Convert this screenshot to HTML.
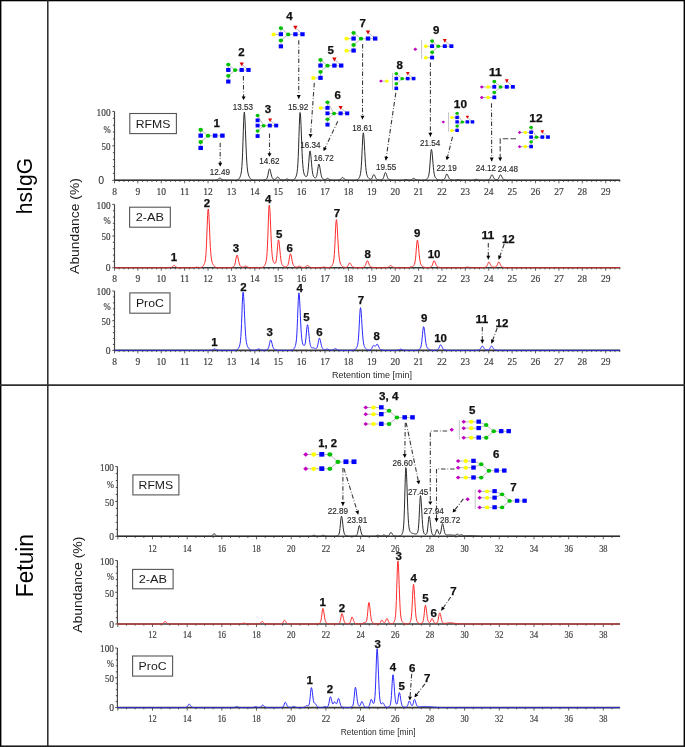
<!DOCTYPE html>
<html><head><meta charset="utf-8"><style>
html,body{margin:0;padding:0;background:#fff;}
svg{display:block;font-family:"Liberation Sans", sans-serif;will-change:transform;}
</style></head><body>
<svg width="685" height="747" viewBox="0 0 685 747">
<rect width="685" height="747" fill="#fff"/>
<rect x="0.7" y="0.6" width="683.6" height="745.6" fill="none" stroke="#000" stroke-width="1.4"/>
<line x1="47.8" y1="0" x2="47.8" y2="747" stroke="#262626" stroke-width="1.5"/>
<line x1="0" y1="385.1" x2="685" y2="385.1" stroke="#303030" stroke-width="1.8"/>
<text transform="translate(32.3,186.1) rotate(-90)" text-anchor="middle" font-size="22.5" font-weight="normal" fill="#000" textLength="56.3" lengthAdjust="spacingAndGlyphs">hsIgG</text>
<text transform="translate(33.3,565.6) rotate(-90)" text-anchor="middle" font-size="23.5" font-weight="normal" fill="#000" textLength="63.1" lengthAdjust="spacingAndGlyphs">Fetuin</text>
<text transform="translate(78.6,226.0) rotate(-90)" text-anchor="middle" font-size="13.3" font-weight="normal" fill="#1a1a1a" textLength="95.8" lengthAdjust="spacingAndGlyphs">Abundance (%)</text>
<text transform="translate(81.5,584.7) rotate(-90)" text-anchor="middle" font-size="13.3" font-weight="normal" fill="#1a1a1a" textLength="96.2" lengthAdjust="spacingAndGlyphs">Abundance (%)</text>
<line x1="114.5" y1="111.4" x2="114.5" y2="180.3" stroke="#444" stroke-width="1.15"/>
<line x1="112.3" y1="180.30" x2="114.5" y2="180.30" stroke="#3a3a3a" stroke-width="0.9"/>
<line x1="112.9" y1="173.41" x2="114.5" y2="173.41" stroke="#3a3a3a" stroke-width="0.9"/>
<line x1="112.9" y1="166.52" x2="114.5" y2="166.52" stroke="#3a3a3a" stroke-width="0.9"/>
<line x1="112.9" y1="159.63" x2="114.5" y2="159.63" stroke="#3a3a3a" stroke-width="0.9"/>
<line x1="112.9" y1="152.74" x2="114.5" y2="152.74" stroke="#3a3a3a" stroke-width="0.9"/>
<line x1="112.3" y1="145.85" x2="114.5" y2="145.85" stroke="#3a3a3a" stroke-width="0.9"/>
<line x1="112.9" y1="138.96" x2="114.5" y2="138.96" stroke="#3a3a3a" stroke-width="0.9"/>
<line x1="112.9" y1="132.07" x2="114.5" y2="132.07" stroke="#3a3a3a" stroke-width="0.9"/>
<line x1="112.9" y1="125.18" x2="114.5" y2="125.18" stroke="#3a3a3a" stroke-width="0.9"/>
<line x1="112.9" y1="118.29" x2="114.5" y2="118.29" stroke="#3a3a3a" stroke-width="0.9"/>
<line x1="112.3" y1="111.40" x2="114.5" y2="111.40" stroke="#3a3a3a" stroke-width="0.9"/>
<text x="110.6" y="115.7" text-anchor="end" font-size="10.6" font-weight="normal" fill="#404040" stroke="#404040" stroke-width="0.2" textLength="14.0" lengthAdjust="spacingAndGlyphs" font-family='"Liberation Serif", serif'>100</text>
<text x="110.6" y="132.61400000000003" text-anchor="end" font-size="10.0" font-weight="normal" fill="#404040" stroke="#404040" stroke-width="0.2" textLength="7.2" lengthAdjust="spacingAndGlyphs" font-family='"Liberation Serif", serif'>%</text>
<text x="110.6" y="150.15000000000003" text-anchor="end" font-size="10.6" font-weight="normal" fill="#404040" stroke="#404040" stroke-width="0.2" textLength="9.0" lengthAdjust="spacingAndGlyphs" font-family='"Liberation Serif", serif'>50</text>
<text x="104.1" y="184.20000000000002" text-anchor="end" font-size="10.5" font-weight="normal" fill="#222">0</text>
<line x1="114.5" y1="180.3" x2="620.2" y2="180.3" stroke="#3a3a3a" stroke-width="1.6"/>
<line x1="114.50" y1="180.3" x2="114.50" y2="183.3" stroke="#3a3a3a" stroke-width="0.8"/>
<line x1="119.18" y1="180.3" x2="119.18" y2="182.0" stroke="#3a3a3a" stroke-width="0.8"/>
<line x1="123.86" y1="180.3" x2="123.86" y2="182.0" stroke="#3a3a3a" stroke-width="0.8"/>
<line x1="128.53" y1="180.3" x2="128.53" y2="182.0" stroke="#3a3a3a" stroke-width="0.8"/>
<line x1="133.21" y1="180.3" x2="133.21" y2="182.0" stroke="#3a3a3a" stroke-width="0.8"/>
<line x1="137.89" y1="180.3" x2="137.89" y2="183.3" stroke="#3a3a3a" stroke-width="0.8"/>
<line x1="142.57" y1="180.3" x2="142.57" y2="182.0" stroke="#3a3a3a" stroke-width="0.8"/>
<line x1="147.25" y1="180.3" x2="147.25" y2="182.0" stroke="#3a3a3a" stroke-width="0.8"/>
<line x1="151.92" y1="180.3" x2="151.92" y2="182.0" stroke="#3a3a3a" stroke-width="0.8"/>
<line x1="156.60" y1="180.3" x2="156.60" y2="182.0" stroke="#3a3a3a" stroke-width="0.8"/>
<line x1="161.28" y1="180.3" x2="161.28" y2="183.3" stroke="#3a3a3a" stroke-width="0.8"/>
<line x1="165.96" y1="180.3" x2="165.96" y2="182.0" stroke="#3a3a3a" stroke-width="0.8"/>
<line x1="170.64" y1="180.3" x2="170.64" y2="182.0" stroke="#3a3a3a" stroke-width="0.8"/>
<line x1="175.31" y1="180.3" x2="175.31" y2="182.0" stroke="#3a3a3a" stroke-width="0.8"/>
<line x1="179.99" y1="180.3" x2="179.99" y2="182.0" stroke="#3a3a3a" stroke-width="0.8"/>
<line x1="184.67" y1="180.3" x2="184.67" y2="183.3" stroke="#3a3a3a" stroke-width="0.8"/>
<line x1="189.35" y1="180.3" x2="189.35" y2="182.0" stroke="#3a3a3a" stroke-width="0.8"/>
<line x1="194.03" y1="180.3" x2="194.03" y2="182.0" stroke="#3a3a3a" stroke-width="0.8"/>
<line x1="198.70" y1="180.3" x2="198.70" y2="182.0" stroke="#3a3a3a" stroke-width="0.8"/>
<line x1="203.38" y1="180.3" x2="203.38" y2="182.0" stroke="#3a3a3a" stroke-width="0.8"/>
<line x1="208.06" y1="180.3" x2="208.06" y2="183.3" stroke="#3a3a3a" stroke-width="0.8"/>
<line x1="212.74" y1="180.3" x2="212.74" y2="182.0" stroke="#3a3a3a" stroke-width="0.8"/>
<line x1="217.42" y1="180.3" x2="217.42" y2="182.0" stroke="#3a3a3a" stroke-width="0.8"/>
<line x1="222.09" y1="180.3" x2="222.09" y2="182.0" stroke="#3a3a3a" stroke-width="0.8"/>
<line x1="226.77" y1="180.3" x2="226.77" y2="182.0" stroke="#3a3a3a" stroke-width="0.8"/>
<line x1="231.45" y1="180.3" x2="231.45" y2="183.3" stroke="#3a3a3a" stroke-width="0.8"/>
<line x1="236.13" y1="180.3" x2="236.13" y2="182.0" stroke="#3a3a3a" stroke-width="0.8"/>
<line x1="240.81" y1="180.3" x2="240.81" y2="182.0" stroke="#3a3a3a" stroke-width="0.8"/>
<line x1="245.48" y1="180.3" x2="245.48" y2="182.0" stroke="#3a3a3a" stroke-width="0.8"/>
<line x1="250.16" y1="180.3" x2="250.16" y2="182.0" stroke="#3a3a3a" stroke-width="0.8"/>
<line x1="254.84" y1="180.3" x2="254.84" y2="183.3" stroke="#3a3a3a" stroke-width="0.8"/>
<line x1="259.52" y1="180.3" x2="259.52" y2="182.0" stroke="#3a3a3a" stroke-width="0.8"/>
<line x1="264.20" y1="180.3" x2="264.20" y2="182.0" stroke="#3a3a3a" stroke-width="0.8"/>
<line x1="268.87" y1="180.3" x2="268.87" y2="182.0" stroke="#3a3a3a" stroke-width="0.8"/>
<line x1="273.55" y1="180.3" x2="273.55" y2="182.0" stroke="#3a3a3a" stroke-width="0.8"/>
<line x1="278.23" y1="180.3" x2="278.23" y2="183.3" stroke="#3a3a3a" stroke-width="0.8"/>
<line x1="282.91" y1="180.3" x2="282.91" y2="182.0" stroke="#3a3a3a" stroke-width="0.8"/>
<line x1="287.59" y1="180.3" x2="287.59" y2="182.0" stroke="#3a3a3a" stroke-width="0.8"/>
<line x1="292.26" y1="180.3" x2="292.26" y2="182.0" stroke="#3a3a3a" stroke-width="0.8"/>
<line x1="296.94" y1="180.3" x2="296.94" y2="182.0" stroke="#3a3a3a" stroke-width="0.8"/>
<line x1="301.62" y1="180.3" x2="301.62" y2="183.3" stroke="#3a3a3a" stroke-width="0.8"/>
<line x1="306.30" y1="180.3" x2="306.30" y2="182.0" stroke="#3a3a3a" stroke-width="0.8"/>
<line x1="310.98" y1="180.3" x2="310.98" y2="182.0" stroke="#3a3a3a" stroke-width="0.8"/>
<line x1="315.65" y1="180.3" x2="315.65" y2="182.0" stroke="#3a3a3a" stroke-width="0.8"/>
<line x1="320.33" y1="180.3" x2="320.33" y2="182.0" stroke="#3a3a3a" stroke-width="0.8"/>
<line x1="325.01" y1="180.3" x2="325.01" y2="183.3" stroke="#3a3a3a" stroke-width="0.8"/>
<line x1="329.69" y1="180.3" x2="329.69" y2="182.0" stroke="#3a3a3a" stroke-width="0.8"/>
<line x1="334.37" y1="180.3" x2="334.37" y2="182.0" stroke="#3a3a3a" stroke-width="0.8"/>
<line x1="339.04" y1="180.3" x2="339.04" y2="182.0" stroke="#3a3a3a" stroke-width="0.8"/>
<line x1="343.72" y1="180.3" x2="343.72" y2="182.0" stroke="#3a3a3a" stroke-width="0.8"/>
<line x1="348.40" y1="180.3" x2="348.40" y2="183.3" stroke="#3a3a3a" stroke-width="0.8"/>
<line x1="353.08" y1="180.3" x2="353.08" y2="182.0" stroke="#3a3a3a" stroke-width="0.8"/>
<line x1="357.76" y1="180.3" x2="357.76" y2="182.0" stroke="#3a3a3a" stroke-width="0.8"/>
<line x1="362.43" y1="180.3" x2="362.43" y2="182.0" stroke="#3a3a3a" stroke-width="0.8"/>
<line x1="367.11" y1="180.3" x2="367.11" y2="182.0" stroke="#3a3a3a" stroke-width="0.8"/>
<line x1="371.79" y1="180.3" x2="371.79" y2="183.3" stroke="#3a3a3a" stroke-width="0.8"/>
<line x1="376.47" y1="180.3" x2="376.47" y2="182.0" stroke="#3a3a3a" stroke-width="0.8"/>
<line x1="381.15" y1="180.3" x2="381.15" y2="182.0" stroke="#3a3a3a" stroke-width="0.8"/>
<line x1="385.82" y1="180.3" x2="385.82" y2="182.0" stroke="#3a3a3a" stroke-width="0.8"/>
<line x1="390.50" y1="180.3" x2="390.50" y2="182.0" stroke="#3a3a3a" stroke-width="0.8"/>
<line x1="395.18" y1="180.3" x2="395.18" y2="183.3" stroke="#3a3a3a" stroke-width="0.8"/>
<line x1="399.86" y1="180.3" x2="399.86" y2="182.0" stroke="#3a3a3a" stroke-width="0.8"/>
<line x1="404.54" y1="180.3" x2="404.54" y2="182.0" stroke="#3a3a3a" stroke-width="0.8"/>
<line x1="409.21" y1="180.3" x2="409.21" y2="182.0" stroke="#3a3a3a" stroke-width="0.8"/>
<line x1="413.89" y1="180.3" x2="413.89" y2="182.0" stroke="#3a3a3a" stroke-width="0.8"/>
<line x1="418.57" y1="180.3" x2="418.57" y2="183.3" stroke="#3a3a3a" stroke-width="0.8"/>
<line x1="423.25" y1="180.3" x2="423.25" y2="182.0" stroke="#3a3a3a" stroke-width="0.8"/>
<line x1="427.93" y1="180.3" x2="427.93" y2="182.0" stroke="#3a3a3a" stroke-width="0.8"/>
<line x1="432.60" y1="180.3" x2="432.60" y2="182.0" stroke="#3a3a3a" stroke-width="0.8"/>
<line x1="437.28" y1="180.3" x2="437.28" y2="182.0" stroke="#3a3a3a" stroke-width="0.8"/>
<line x1="441.96" y1="180.3" x2="441.96" y2="183.3" stroke="#3a3a3a" stroke-width="0.8"/>
<line x1="446.64" y1="180.3" x2="446.64" y2="182.0" stroke="#3a3a3a" stroke-width="0.8"/>
<line x1="451.32" y1="180.3" x2="451.32" y2="182.0" stroke="#3a3a3a" stroke-width="0.8"/>
<line x1="455.99" y1="180.3" x2="455.99" y2="182.0" stroke="#3a3a3a" stroke-width="0.8"/>
<line x1="460.67" y1="180.3" x2="460.67" y2="182.0" stroke="#3a3a3a" stroke-width="0.8"/>
<line x1="465.35" y1="180.3" x2="465.35" y2="183.3" stroke="#3a3a3a" stroke-width="0.8"/>
<line x1="470.03" y1="180.3" x2="470.03" y2="182.0" stroke="#3a3a3a" stroke-width="0.8"/>
<line x1="474.71" y1="180.3" x2="474.71" y2="182.0" stroke="#3a3a3a" stroke-width="0.8"/>
<line x1="479.38" y1="180.3" x2="479.38" y2="182.0" stroke="#3a3a3a" stroke-width="0.8"/>
<line x1="484.06" y1="180.3" x2="484.06" y2="182.0" stroke="#3a3a3a" stroke-width="0.8"/>
<line x1="488.74" y1="180.3" x2="488.74" y2="183.3" stroke="#3a3a3a" stroke-width="0.8"/>
<line x1="493.42" y1="180.3" x2="493.42" y2="182.0" stroke="#3a3a3a" stroke-width="0.8"/>
<line x1="498.10" y1="180.3" x2="498.10" y2="182.0" stroke="#3a3a3a" stroke-width="0.8"/>
<line x1="502.77" y1="180.3" x2="502.77" y2="182.0" stroke="#3a3a3a" stroke-width="0.8"/>
<line x1="507.45" y1="180.3" x2="507.45" y2="182.0" stroke="#3a3a3a" stroke-width="0.8"/>
<line x1="512.13" y1="180.3" x2="512.13" y2="183.3" stroke="#3a3a3a" stroke-width="0.8"/>
<line x1="516.81" y1="180.3" x2="516.81" y2="182.0" stroke="#3a3a3a" stroke-width="0.8"/>
<line x1="521.49" y1="180.3" x2="521.49" y2="182.0" stroke="#3a3a3a" stroke-width="0.8"/>
<line x1="526.16" y1="180.3" x2="526.16" y2="182.0" stroke="#3a3a3a" stroke-width="0.8"/>
<line x1="530.84" y1="180.3" x2="530.84" y2="182.0" stroke="#3a3a3a" stroke-width="0.8"/>
<line x1="535.52" y1="180.3" x2="535.52" y2="183.3" stroke="#3a3a3a" stroke-width="0.8"/>
<line x1="540.20" y1="180.3" x2="540.20" y2="182.0" stroke="#3a3a3a" stroke-width="0.8"/>
<line x1="544.88" y1="180.3" x2="544.88" y2="182.0" stroke="#3a3a3a" stroke-width="0.8"/>
<line x1="549.55" y1="180.3" x2="549.55" y2="182.0" stroke="#3a3a3a" stroke-width="0.8"/>
<line x1="554.23" y1="180.3" x2="554.23" y2="182.0" stroke="#3a3a3a" stroke-width="0.8"/>
<line x1="558.91" y1="180.3" x2="558.91" y2="183.3" stroke="#3a3a3a" stroke-width="0.8"/>
<line x1="563.59" y1="180.3" x2="563.59" y2="182.0" stroke="#3a3a3a" stroke-width="0.8"/>
<line x1="568.27" y1="180.3" x2="568.27" y2="182.0" stroke="#3a3a3a" stroke-width="0.8"/>
<line x1="572.94" y1="180.3" x2="572.94" y2="182.0" stroke="#3a3a3a" stroke-width="0.8"/>
<line x1="577.62" y1="180.3" x2="577.62" y2="182.0" stroke="#3a3a3a" stroke-width="0.8"/>
<line x1="582.30" y1="180.3" x2="582.30" y2="183.3" stroke="#3a3a3a" stroke-width="0.8"/>
<line x1="586.98" y1="180.3" x2="586.98" y2="182.0" stroke="#3a3a3a" stroke-width="0.8"/>
<line x1="591.66" y1="180.3" x2="591.66" y2="182.0" stroke="#3a3a3a" stroke-width="0.8"/>
<line x1="596.33" y1="180.3" x2="596.33" y2="182.0" stroke="#3a3a3a" stroke-width="0.8"/>
<line x1="601.01" y1="180.3" x2="601.01" y2="182.0" stroke="#3a3a3a" stroke-width="0.8"/>
<line x1="605.69" y1="180.3" x2="605.69" y2="183.3" stroke="#3a3a3a" stroke-width="0.8"/>
<line x1="610.37" y1="180.3" x2="610.37" y2="182.0" stroke="#3a3a3a" stroke-width="0.8"/>
<line x1="615.05" y1="180.3" x2="615.05" y2="182.0" stroke="#3a3a3a" stroke-width="0.8"/>
<line x1="619.72" y1="180.3" x2="619.72" y2="182.0" stroke="#3a3a3a" stroke-width="0.8"/>
<text x="114.50" y="194.6" text-anchor="middle" font-size="10.8" font-weight="normal" fill="#404040" stroke="#404040" stroke-width="0.2" textLength="4.75" lengthAdjust="spacingAndGlyphs" font-family='"Liberation Serif", serif'>8</text>
<text x="137.89" y="194.6" text-anchor="middle" font-size="10.8" font-weight="normal" fill="#404040" stroke="#404040" stroke-width="0.2" textLength="4.75" lengthAdjust="spacingAndGlyphs" font-family='"Liberation Serif", serif'>9</text>
<text x="161.28" y="194.6" text-anchor="middle" font-size="10.8" font-weight="normal" fill="#404040" stroke="#404040" stroke-width="0.2" textLength="9.5" lengthAdjust="spacingAndGlyphs" font-family='"Liberation Serif", serif'>10</text>
<text x="184.67" y="194.6" text-anchor="middle" font-size="10.8" font-weight="normal" fill="#404040" stroke="#404040" stroke-width="0.2" textLength="9.5" lengthAdjust="spacingAndGlyphs" font-family='"Liberation Serif", serif'>11</text>
<text x="208.06" y="194.6" text-anchor="middle" font-size="10.8" font-weight="normal" fill="#404040" stroke="#404040" stroke-width="0.2" textLength="9.5" lengthAdjust="spacingAndGlyphs" font-family='"Liberation Serif", serif'>12</text>
<text x="231.45" y="194.6" text-anchor="middle" font-size="10.8" font-weight="normal" fill="#404040" stroke="#404040" stroke-width="0.2" textLength="9.5" lengthAdjust="spacingAndGlyphs" font-family='"Liberation Serif", serif'>13</text>
<text x="254.84" y="194.6" text-anchor="middle" font-size="10.8" font-weight="normal" fill="#404040" stroke="#404040" stroke-width="0.2" textLength="9.5" lengthAdjust="spacingAndGlyphs" font-family='"Liberation Serif", serif'>14</text>
<text x="278.23" y="194.6" text-anchor="middle" font-size="10.8" font-weight="normal" fill="#404040" stroke="#404040" stroke-width="0.2" textLength="9.5" lengthAdjust="spacingAndGlyphs" font-family='"Liberation Serif", serif'>15</text>
<text x="301.62" y="194.6" text-anchor="middle" font-size="10.8" font-weight="normal" fill="#404040" stroke="#404040" stroke-width="0.2" textLength="9.5" lengthAdjust="spacingAndGlyphs" font-family='"Liberation Serif", serif'>16</text>
<text x="325.01" y="194.6" text-anchor="middle" font-size="10.8" font-weight="normal" fill="#404040" stroke="#404040" stroke-width="0.2" textLength="9.5" lengthAdjust="spacingAndGlyphs" font-family='"Liberation Serif", serif'>17</text>
<text x="348.40" y="194.6" text-anchor="middle" font-size="10.8" font-weight="normal" fill="#404040" stroke="#404040" stroke-width="0.2" textLength="9.5" lengthAdjust="spacingAndGlyphs" font-family='"Liberation Serif", serif'>18</text>
<text x="371.79" y="194.6" text-anchor="middle" font-size="10.8" font-weight="normal" fill="#404040" stroke="#404040" stroke-width="0.2" textLength="9.5" lengthAdjust="spacingAndGlyphs" font-family='"Liberation Serif", serif'>19</text>
<text x="395.18" y="194.6" text-anchor="middle" font-size="10.8" font-weight="normal" fill="#404040" stroke="#404040" stroke-width="0.2" textLength="9.5" lengthAdjust="spacingAndGlyphs" font-family='"Liberation Serif", serif'>20</text>
<text x="418.57" y="194.6" text-anchor="middle" font-size="10.8" font-weight="normal" fill="#404040" stroke="#404040" stroke-width="0.2" textLength="9.5" lengthAdjust="spacingAndGlyphs" font-family='"Liberation Serif", serif'>21</text>
<text x="441.96" y="194.6" text-anchor="middle" font-size="10.8" font-weight="normal" fill="#404040" stroke="#404040" stroke-width="0.2" textLength="9.5" lengthAdjust="spacingAndGlyphs" font-family='"Liberation Serif", serif'>22</text>
<text x="465.35" y="194.6" text-anchor="middle" font-size="10.8" font-weight="normal" fill="#404040" stroke="#404040" stroke-width="0.2" textLength="9.5" lengthAdjust="spacingAndGlyphs" font-family='"Liberation Serif", serif'>23</text>
<text x="488.74" y="194.6" text-anchor="middle" font-size="10.8" font-weight="normal" fill="#404040" stroke="#404040" stroke-width="0.2" textLength="9.5" lengthAdjust="spacingAndGlyphs" font-family='"Liberation Serif", serif'>24</text>
<text x="512.13" y="194.6" text-anchor="middle" font-size="10.8" font-weight="normal" fill="#404040" stroke="#404040" stroke-width="0.2" textLength="9.5" lengthAdjust="spacingAndGlyphs" font-family='"Liberation Serif", serif'>25</text>
<text x="535.52" y="194.6" text-anchor="middle" font-size="10.8" font-weight="normal" fill="#404040" stroke="#404040" stroke-width="0.2" textLength="9.5" lengthAdjust="spacingAndGlyphs" font-family='"Liberation Serif", serif'>26</text>
<text x="558.91" y="194.6" text-anchor="middle" font-size="10.8" font-weight="normal" fill="#404040" stroke="#404040" stroke-width="0.2" textLength="9.5" lengthAdjust="spacingAndGlyphs" font-family='"Liberation Serif", serif'>27</text>
<text x="582.30" y="194.6" text-anchor="middle" font-size="10.8" font-weight="normal" fill="#404040" stroke="#404040" stroke-width="0.2" textLength="9.5" lengthAdjust="spacingAndGlyphs" font-family='"Liberation Serif", serif'>28</text>
<text x="605.69" y="194.6" text-anchor="middle" font-size="10.8" font-weight="normal" fill="#404040" stroke="#404040" stroke-width="0.2" textLength="9.5" lengthAdjust="spacingAndGlyphs" font-family='"Liberation Serif", serif'>29</text>
<line x1="114.5" y1="204.4" x2="114.5" y2="267.7" stroke="#444" stroke-width="1.15"/>
<line x1="112.3" y1="267.70" x2="114.5" y2="267.70" stroke="#3a3a3a" stroke-width="0.9"/>
<line x1="112.9" y1="261.37" x2="114.5" y2="261.37" stroke="#3a3a3a" stroke-width="0.9"/>
<line x1="112.9" y1="255.04" x2="114.5" y2="255.04" stroke="#3a3a3a" stroke-width="0.9"/>
<line x1="112.9" y1="248.71" x2="114.5" y2="248.71" stroke="#3a3a3a" stroke-width="0.9"/>
<line x1="112.9" y1="242.38" x2="114.5" y2="242.38" stroke="#3a3a3a" stroke-width="0.9"/>
<line x1="112.3" y1="236.05" x2="114.5" y2="236.05" stroke="#3a3a3a" stroke-width="0.9"/>
<line x1="112.9" y1="229.72" x2="114.5" y2="229.72" stroke="#3a3a3a" stroke-width="0.9"/>
<line x1="112.9" y1="223.39" x2="114.5" y2="223.39" stroke="#3a3a3a" stroke-width="0.9"/>
<line x1="112.9" y1="217.06" x2="114.5" y2="217.06" stroke="#3a3a3a" stroke-width="0.9"/>
<line x1="112.9" y1="210.73" x2="114.5" y2="210.73" stroke="#3a3a3a" stroke-width="0.9"/>
<line x1="112.3" y1="204.40" x2="114.5" y2="204.40" stroke="#3a3a3a" stroke-width="0.9"/>
<text x="110.6" y="208.70000000000002" text-anchor="end" font-size="10.6" font-weight="normal" fill="#404040" stroke="#404040" stroke-width="0.2" textLength="14.0" lengthAdjust="spacingAndGlyphs" font-family='"Liberation Serif", serif'>100</text>
<text x="110.6" y="224.15800000000002" text-anchor="end" font-size="10.0" font-weight="normal" fill="#404040" stroke="#404040" stroke-width="0.2" textLength="7.2" lengthAdjust="spacingAndGlyphs" font-family='"Liberation Serif", serif'>%</text>
<text x="110.6" y="240.35000000000002" text-anchor="end" font-size="10.6" font-weight="normal" fill="#404040" stroke="#404040" stroke-width="0.2" textLength="9.0" lengthAdjust="spacingAndGlyphs" font-family='"Liberation Serif", serif'>50</text>
<text x="110.6" y="271.3" text-anchor="end" font-size="10.6" font-weight="normal" fill="#404040" stroke="#404040" stroke-width="0.2" textLength="4.8" lengthAdjust="spacingAndGlyphs" font-family='"Liberation Serif", serif'>0</text>
<line x1="114.5" y1="267.7" x2="620.2" y2="267.7" stroke="#3a3a3a" stroke-width="1.6"/>
<line x1="114.50" y1="267.7" x2="114.50" y2="270.7" stroke="#3a3a3a" stroke-width="0.8"/>
<line x1="119.18" y1="267.7" x2="119.18" y2="269.4" stroke="#3a3a3a" stroke-width="0.8"/>
<line x1="123.86" y1="267.7" x2="123.86" y2="269.4" stroke="#3a3a3a" stroke-width="0.8"/>
<line x1="128.53" y1="267.7" x2="128.53" y2="269.4" stroke="#3a3a3a" stroke-width="0.8"/>
<line x1="133.21" y1="267.7" x2="133.21" y2="269.4" stroke="#3a3a3a" stroke-width="0.8"/>
<line x1="137.89" y1="267.7" x2="137.89" y2="270.7" stroke="#3a3a3a" stroke-width="0.8"/>
<line x1="142.57" y1="267.7" x2="142.57" y2="269.4" stroke="#3a3a3a" stroke-width="0.8"/>
<line x1="147.25" y1="267.7" x2="147.25" y2="269.4" stroke="#3a3a3a" stroke-width="0.8"/>
<line x1="151.92" y1="267.7" x2="151.92" y2="269.4" stroke="#3a3a3a" stroke-width="0.8"/>
<line x1="156.60" y1="267.7" x2="156.60" y2="269.4" stroke="#3a3a3a" stroke-width="0.8"/>
<line x1="161.28" y1="267.7" x2="161.28" y2="270.7" stroke="#3a3a3a" stroke-width="0.8"/>
<line x1="165.96" y1="267.7" x2="165.96" y2="269.4" stroke="#3a3a3a" stroke-width="0.8"/>
<line x1="170.64" y1="267.7" x2="170.64" y2="269.4" stroke="#3a3a3a" stroke-width="0.8"/>
<line x1="175.31" y1="267.7" x2="175.31" y2="269.4" stroke="#3a3a3a" stroke-width="0.8"/>
<line x1="179.99" y1="267.7" x2="179.99" y2="269.4" stroke="#3a3a3a" stroke-width="0.8"/>
<line x1="184.67" y1="267.7" x2="184.67" y2="270.7" stroke="#3a3a3a" stroke-width="0.8"/>
<line x1="189.35" y1="267.7" x2="189.35" y2="269.4" stroke="#3a3a3a" stroke-width="0.8"/>
<line x1="194.03" y1="267.7" x2="194.03" y2="269.4" stroke="#3a3a3a" stroke-width="0.8"/>
<line x1="198.70" y1="267.7" x2="198.70" y2="269.4" stroke="#3a3a3a" stroke-width="0.8"/>
<line x1="203.38" y1="267.7" x2="203.38" y2="269.4" stroke="#3a3a3a" stroke-width="0.8"/>
<line x1="208.06" y1="267.7" x2="208.06" y2="270.7" stroke="#3a3a3a" stroke-width="0.8"/>
<line x1="212.74" y1="267.7" x2="212.74" y2="269.4" stroke="#3a3a3a" stroke-width="0.8"/>
<line x1="217.42" y1="267.7" x2="217.42" y2="269.4" stroke="#3a3a3a" stroke-width="0.8"/>
<line x1="222.09" y1="267.7" x2="222.09" y2="269.4" stroke="#3a3a3a" stroke-width="0.8"/>
<line x1="226.77" y1="267.7" x2="226.77" y2="269.4" stroke="#3a3a3a" stroke-width="0.8"/>
<line x1="231.45" y1="267.7" x2="231.45" y2="270.7" stroke="#3a3a3a" stroke-width="0.8"/>
<line x1="236.13" y1="267.7" x2="236.13" y2="269.4" stroke="#3a3a3a" stroke-width="0.8"/>
<line x1="240.81" y1="267.7" x2="240.81" y2="269.4" stroke="#3a3a3a" stroke-width="0.8"/>
<line x1="245.48" y1="267.7" x2="245.48" y2="269.4" stroke="#3a3a3a" stroke-width="0.8"/>
<line x1="250.16" y1="267.7" x2="250.16" y2="269.4" stroke="#3a3a3a" stroke-width="0.8"/>
<line x1="254.84" y1="267.7" x2="254.84" y2="270.7" stroke="#3a3a3a" stroke-width="0.8"/>
<line x1="259.52" y1="267.7" x2="259.52" y2="269.4" stroke="#3a3a3a" stroke-width="0.8"/>
<line x1="264.20" y1="267.7" x2="264.20" y2="269.4" stroke="#3a3a3a" stroke-width="0.8"/>
<line x1="268.87" y1="267.7" x2="268.87" y2="269.4" stroke="#3a3a3a" stroke-width="0.8"/>
<line x1="273.55" y1="267.7" x2="273.55" y2="269.4" stroke="#3a3a3a" stroke-width="0.8"/>
<line x1="278.23" y1="267.7" x2="278.23" y2="270.7" stroke="#3a3a3a" stroke-width="0.8"/>
<line x1="282.91" y1="267.7" x2="282.91" y2="269.4" stroke="#3a3a3a" stroke-width="0.8"/>
<line x1="287.59" y1="267.7" x2="287.59" y2="269.4" stroke="#3a3a3a" stroke-width="0.8"/>
<line x1="292.26" y1="267.7" x2="292.26" y2="269.4" stroke="#3a3a3a" stroke-width="0.8"/>
<line x1="296.94" y1="267.7" x2="296.94" y2="269.4" stroke="#3a3a3a" stroke-width="0.8"/>
<line x1="301.62" y1="267.7" x2="301.62" y2="270.7" stroke="#3a3a3a" stroke-width="0.8"/>
<line x1="306.30" y1="267.7" x2="306.30" y2="269.4" stroke="#3a3a3a" stroke-width="0.8"/>
<line x1="310.98" y1="267.7" x2="310.98" y2="269.4" stroke="#3a3a3a" stroke-width="0.8"/>
<line x1="315.65" y1="267.7" x2="315.65" y2="269.4" stroke="#3a3a3a" stroke-width="0.8"/>
<line x1="320.33" y1="267.7" x2="320.33" y2="269.4" stroke="#3a3a3a" stroke-width="0.8"/>
<line x1="325.01" y1="267.7" x2="325.01" y2="270.7" stroke="#3a3a3a" stroke-width="0.8"/>
<line x1="329.69" y1="267.7" x2="329.69" y2="269.4" stroke="#3a3a3a" stroke-width="0.8"/>
<line x1="334.37" y1="267.7" x2="334.37" y2="269.4" stroke="#3a3a3a" stroke-width="0.8"/>
<line x1="339.04" y1="267.7" x2="339.04" y2="269.4" stroke="#3a3a3a" stroke-width="0.8"/>
<line x1="343.72" y1="267.7" x2="343.72" y2="269.4" stroke="#3a3a3a" stroke-width="0.8"/>
<line x1="348.40" y1="267.7" x2="348.40" y2="270.7" stroke="#3a3a3a" stroke-width="0.8"/>
<line x1="353.08" y1="267.7" x2="353.08" y2="269.4" stroke="#3a3a3a" stroke-width="0.8"/>
<line x1="357.76" y1="267.7" x2="357.76" y2="269.4" stroke="#3a3a3a" stroke-width="0.8"/>
<line x1="362.43" y1="267.7" x2="362.43" y2="269.4" stroke="#3a3a3a" stroke-width="0.8"/>
<line x1="367.11" y1="267.7" x2="367.11" y2="269.4" stroke="#3a3a3a" stroke-width="0.8"/>
<line x1="371.79" y1="267.7" x2="371.79" y2="270.7" stroke="#3a3a3a" stroke-width="0.8"/>
<line x1="376.47" y1="267.7" x2="376.47" y2="269.4" stroke="#3a3a3a" stroke-width="0.8"/>
<line x1="381.15" y1="267.7" x2="381.15" y2="269.4" stroke="#3a3a3a" stroke-width="0.8"/>
<line x1="385.82" y1="267.7" x2="385.82" y2="269.4" stroke="#3a3a3a" stroke-width="0.8"/>
<line x1="390.50" y1="267.7" x2="390.50" y2="269.4" stroke="#3a3a3a" stroke-width="0.8"/>
<line x1="395.18" y1="267.7" x2="395.18" y2="270.7" stroke="#3a3a3a" stroke-width="0.8"/>
<line x1="399.86" y1="267.7" x2="399.86" y2="269.4" stroke="#3a3a3a" stroke-width="0.8"/>
<line x1="404.54" y1="267.7" x2="404.54" y2="269.4" stroke="#3a3a3a" stroke-width="0.8"/>
<line x1="409.21" y1="267.7" x2="409.21" y2="269.4" stroke="#3a3a3a" stroke-width="0.8"/>
<line x1="413.89" y1="267.7" x2="413.89" y2="269.4" stroke="#3a3a3a" stroke-width="0.8"/>
<line x1="418.57" y1="267.7" x2="418.57" y2="270.7" stroke="#3a3a3a" stroke-width="0.8"/>
<line x1="423.25" y1="267.7" x2="423.25" y2="269.4" stroke="#3a3a3a" stroke-width="0.8"/>
<line x1="427.93" y1="267.7" x2="427.93" y2="269.4" stroke="#3a3a3a" stroke-width="0.8"/>
<line x1="432.60" y1="267.7" x2="432.60" y2="269.4" stroke="#3a3a3a" stroke-width="0.8"/>
<line x1="437.28" y1="267.7" x2="437.28" y2="269.4" stroke="#3a3a3a" stroke-width="0.8"/>
<line x1="441.96" y1="267.7" x2="441.96" y2="270.7" stroke="#3a3a3a" stroke-width="0.8"/>
<line x1="446.64" y1="267.7" x2="446.64" y2="269.4" stroke="#3a3a3a" stroke-width="0.8"/>
<line x1="451.32" y1="267.7" x2="451.32" y2="269.4" stroke="#3a3a3a" stroke-width="0.8"/>
<line x1="455.99" y1="267.7" x2="455.99" y2="269.4" stroke="#3a3a3a" stroke-width="0.8"/>
<line x1="460.67" y1="267.7" x2="460.67" y2="269.4" stroke="#3a3a3a" stroke-width="0.8"/>
<line x1="465.35" y1="267.7" x2="465.35" y2="270.7" stroke="#3a3a3a" stroke-width="0.8"/>
<line x1="470.03" y1="267.7" x2="470.03" y2="269.4" stroke="#3a3a3a" stroke-width="0.8"/>
<line x1="474.71" y1="267.7" x2="474.71" y2="269.4" stroke="#3a3a3a" stroke-width="0.8"/>
<line x1="479.38" y1="267.7" x2="479.38" y2="269.4" stroke="#3a3a3a" stroke-width="0.8"/>
<line x1="484.06" y1="267.7" x2="484.06" y2="269.4" stroke="#3a3a3a" stroke-width="0.8"/>
<line x1="488.74" y1="267.7" x2="488.74" y2="270.7" stroke="#3a3a3a" stroke-width="0.8"/>
<line x1="493.42" y1="267.7" x2="493.42" y2="269.4" stroke="#3a3a3a" stroke-width="0.8"/>
<line x1="498.10" y1="267.7" x2="498.10" y2="269.4" stroke="#3a3a3a" stroke-width="0.8"/>
<line x1="502.77" y1="267.7" x2="502.77" y2="269.4" stroke="#3a3a3a" stroke-width="0.8"/>
<line x1="507.45" y1="267.7" x2="507.45" y2="269.4" stroke="#3a3a3a" stroke-width="0.8"/>
<line x1="512.13" y1="267.7" x2="512.13" y2="270.7" stroke="#3a3a3a" stroke-width="0.8"/>
<line x1="516.81" y1="267.7" x2="516.81" y2="269.4" stroke="#3a3a3a" stroke-width="0.8"/>
<line x1="521.49" y1="267.7" x2="521.49" y2="269.4" stroke="#3a3a3a" stroke-width="0.8"/>
<line x1="526.16" y1="267.7" x2="526.16" y2="269.4" stroke="#3a3a3a" stroke-width="0.8"/>
<line x1="530.84" y1="267.7" x2="530.84" y2="269.4" stroke="#3a3a3a" stroke-width="0.8"/>
<line x1="535.52" y1="267.7" x2="535.52" y2="270.7" stroke="#3a3a3a" stroke-width="0.8"/>
<line x1="540.20" y1="267.7" x2="540.20" y2="269.4" stroke="#3a3a3a" stroke-width="0.8"/>
<line x1="544.88" y1="267.7" x2="544.88" y2="269.4" stroke="#3a3a3a" stroke-width="0.8"/>
<line x1="549.55" y1="267.7" x2="549.55" y2="269.4" stroke="#3a3a3a" stroke-width="0.8"/>
<line x1="554.23" y1="267.7" x2="554.23" y2="269.4" stroke="#3a3a3a" stroke-width="0.8"/>
<line x1="558.91" y1="267.7" x2="558.91" y2="270.7" stroke="#3a3a3a" stroke-width="0.8"/>
<line x1="563.59" y1="267.7" x2="563.59" y2="269.4" stroke="#3a3a3a" stroke-width="0.8"/>
<line x1="568.27" y1="267.7" x2="568.27" y2="269.4" stroke="#3a3a3a" stroke-width="0.8"/>
<line x1="572.94" y1="267.7" x2="572.94" y2="269.4" stroke="#3a3a3a" stroke-width="0.8"/>
<line x1="577.62" y1="267.7" x2="577.62" y2="269.4" stroke="#3a3a3a" stroke-width="0.8"/>
<line x1="582.30" y1="267.7" x2="582.30" y2="270.7" stroke="#3a3a3a" stroke-width="0.8"/>
<line x1="586.98" y1="267.7" x2="586.98" y2="269.4" stroke="#3a3a3a" stroke-width="0.8"/>
<line x1="591.66" y1="267.7" x2="591.66" y2="269.4" stroke="#3a3a3a" stroke-width="0.8"/>
<line x1="596.33" y1="267.7" x2="596.33" y2="269.4" stroke="#3a3a3a" stroke-width="0.8"/>
<line x1="601.01" y1="267.7" x2="601.01" y2="269.4" stroke="#3a3a3a" stroke-width="0.8"/>
<line x1="605.69" y1="267.7" x2="605.69" y2="270.7" stroke="#3a3a3a" stroke-width="0.8"/>
<line x1="610.37" y1="267.7" x2="610.37" y2="269.4" stroke="#3a3a3a" stroke-width="0.8"/>
<line x1="615.05" y1="267.7" x2="615.05" y2="269.4" stroke="#3a3a3a" stroke-width="0.8"/>
<line x1="619.72" y1="267.7" x2="619.72" y2="269.4" stroke="#3a3a3a" stroke-width="0.8"/>
<text x="114.50" y="281.7" text-anchor="middle" font-size="10.8" font-weight="normal" fill="#404040" stroke="#404040" stroke-width="0.2" textLength="4.75" lengthAdjust="spacingAndGlyphs" font-family='"Liberation Serif", serif'>8</text>
<text x="137.89" y="281.7" text-anchor="middle" font-size="10.8" font-weight="normal" fill="#404040" stroke="#404040" stroke-width="0.2" textLength="4.75" lengthAdjust="spacingAndGlyphs" font-family='"Liberation Serif", serif'>9</text>
<text x="161.28" y="281.7" text-anchor="middle" font-size="10.8" font-weight="normal" fill="#404040" stroke="#404040" stroke-width="0.2" textLength="9.5" lengthAdjust="spacingAndGlyphs" font-family='"Liberation Serif", serif'>10</text>
<text x="184.67" y="281.7" text-anchor="middle" font-size="10.8" font-weight="normal" fill="#404040" stroke="#404040" stroke-width="0.2" textLength="9.5" lengthAdjust="spacingAndGlyphs" font-family='"Liberation Serif", serif'>11</text>
<text x="208.06" y="281.7" text-anchor="middle" font-size="10.8" font-weight="normal" fill="#404040" stroke="#404040" stroke-width="0.2" textLength="9.5" lengthAdjust="spacingAndGlyphs" font-family='"Liberation Serif", serif'>12</text>
<text x="231.45" y="281.7" text-anchor="middle" font-size="10.8" font-weight="normal" fill="#404040" stroke="#404040" stroke-width="0.2" textLength="9.5" lengthAdjust="spacingAndGlyphs" font-family='"Liberation Serif", serif'>13</text>
<text x="254.84" y="281.7" text-anchor="middle" font-size="10.8" font-weight="normal" fill="#404040" stroke="#404040" stroke-width="0.2" textLength="9.5" lengthAdjust="spacingAndGlyphs" font-family='"Liberation Serif", serif'>14</text>
<text x="278.23" y="281.7" text-anchor="middle" font-size="10.8" font-weight="normal" fill="#404040" stroke="#404040" stroke-width="0.2" textLength="9.5" lengthAdjust="spacingAndGlyphs" font-family='"Liberation Serif", serif'>15</text>
<text x="301.62" y="281.7" text-anchor="middle" font-size="10.8" font-weight="normal" fill="#404040" stroke="#404040" stroke-width="0.2" textLength="9.5" lengthAdjust="spacingAndGlyphs" font-family='"Liberation Serif", serif'>16</text>
<text x="325.01" y="281.7" text-anchor="middle" font-size="10.8" font-weight="normal" fill="#404040" stroke="#404040" stroke-width="0.2" textLength="9.5" lengthAdjust="spacingAndGlyphs" font-family='"Liberation Serif", serif'>17</text>
<text x="348.40" y="281.7" text-anchor="middle" font-size="10.8" font-weight="normal" fill="#404040" stroke="#404040" stroke-width="0.2" textLength="9.5" lengthAdjust="spacingAndGlyphs" font-family='"Liberation Serif", serif'>18</text>
<text x="371.79" y="281.7" text-anchor="middle" font-size="10.8" font-weight="normal" fill="#404040" stroke="#404040" stroke-width="0.2" textLength="9.5" lengthAdjust="spacingAndGlyphs" font-family='"Liberation Serif", serif'>19</text>
<text x="395.18" y="281.7" text-anchor="middle" font-size="10.8" font-weight="normal" fill="#404040" stroke="#404040" stroke-width="0.2" textLength="9.5" lengthAdjust="spacingAndGlyphs" font-family='"Liberation Serif", serif'>20</text>
<text x="418.57" y="281.7" text-anchor="middle" font-size="10.8" font-weight="normal" fill="#404040" stroke="#404040" stroke-width="0.2" textLength="9.5" lengthAdjust="spacingAndGlyphs" font-family='"Liberation Serif", serif'>21</text>
<text x="441.96" y="281.7" text-anchor="middle" font-size="10.8" font-weight="normal" fill="#404040" stroke="#404040" stroke-width="0.2" textLength="9.5" lengthAdjust="spacingAndGlyphs" font-family='"Liberation Serif", serif'>22</text>
<text x="465.35" y="281.7" text-anchor="middle" font-size="10.8" font-weight="normal" fill="#404040" stroke="#404040" stroke-width="0.2" textLength="9.5" lengthAdjust="spacingAndGlyphs" font-family='"Liberation Serif", serif'>23</text>
<text x="488.74" y="281.7" text-anchor="middle" font-size="10.8" font-weight="normal" fill="#404040" stroke="#404040" stroke-width="0.2" textLength="9.5" lengthAdjust="spacingAndGlyphs" font-family='"Liberation Serif", serif'>24</text>
<text x="512.13" y="281.7" text-anchor="middle" font-size="10.8" font-weight="normal" fill="#404040" stroke="#404040" stroke-width="0.2" textLength="9.5" lengthAdjust="spacingAndGlyphs" font-family='"Liberation Serif", serif'>25</text>
<text x="535.52" y="281.7" text-anchor="middle" font-size="10.8" font-weight="normal" fill="#404040" stroke="#404040" stroke-width="0.2" textLength="9.5" lengthAdjust="spacingAndGlyphs" font-family='"Liberation Serif", serif'>26</text>
<text x="558.91" y="281.7" text-anchor="middle" font-size="10.8" font-weight="normal" fill="#404040" stroke="#404040" stroke-width="0.2" textLength="9.5" lengthAdjust="spacingAndGlyphs" font-family='"Liberation Serif", serif'>27</text>
<text x="582.30" y="281.7" text-anchor="middle" font-size="10.8" font-weight="normal" fill="#404040" stroke="#404040" stroke-width="0.2" textLength="9.5" lengthAdjust="spacingAndGlyphs" font-family='"Liberation Serif", serif'>28</text>
<text x="605.69" y="281.7" text-anchor="middle" font-size="10.8" font-weight="normal" fill="#404040" stroke="#404040" stroke-width="0.2" textLength="9.5" lengthAdjust="spacingAndGlyphs" font-family='"Liberation Serif", serif'>29</text>
<line x1="114.5" y1="291.0" x2="114.5" y2="350.4" stroke="#444" stroke-width="1.15"/>
<line x1="112.3" y1="350.40" x2="114.5" y2="350.40" stroke="#3a3a3a" stroke-width="0.9"/>
<line x1="112.9" y1="344.46" x2="114.5" y2="344.46" stroke="#3a3a3a" stroke-width="0.9"/>
<line x1="112.9" y1="338.52" x2="114.5" y2="338.52" stroke="#3a3a3a" stroke-width="0.9"/>
<line x1="112.9" y1="332.58" x2="114.5" y2="332.58" stroke="#3a3a3a" stroke-width="0.9"/>
<line x1="112.9" y1="326.64" x2="114.5" y2="326.64" stroke="#3a3a3a" stroke-width="0.9"/>
<line x1="112.3" y1="320.70" x2="114.5" y2="320.70" stroke="#3a3a3a" stroke-width="0.9"/>
<line x1="112.9" y1="314.76" x2="114.5" y2="314.76" stroke="#3a3a3a" stroke-width="0.9"/>
<line x1="112.9" y1="308.82" x2="114.5" y2="308.82" stroke="#3a3a3a" stroke-width="0.9"/>
<line x1="112.9" y1="302.88" x2="114.5" y2="302.88" stroke="#3a3a3a" stroke-width="0.9"/>
<line x1="112.9" y1="296.94" x2="114.5" y2="296.94" stroke="#3a3a3a" stroke-width="0.9"/>
<line x1="112.3" y1="291.00" x2="114.5" y2="291.00" stroke="#3a3a3a" stroke-width="0.9"/>
<text x="110.6" y="295.3" text-anchor="end" font-size="10.6" font-weight="normal" fill="#404040" stroke="#404040" stroke-width="0.2" textLength="14.0" lengthAdjust="spacingAndGlyphs" font-family='"Liberation Serif", serif'>100</text>
<text x="110.6" y="309.744" text-anchor="end" font-size="10.0" font-weight="normal" fill="#404040" stroke="#404040" stroke-width="0.2" textLength="7.2" lengthAdjust="spacingAndGlyphs" font-family='"Liberation Serif", serif'>%</text>
<text x="110.6" y="325.0" text-anchor="end" font-size="10.6" font-weight="normal" fill="#404040" stroke="#404040" stroke-width="0.2" textLength="9.0" lengthAdjust="spacingAndGlyphs" font-family='"Liberation Serif", serif'>50</text>
<text x="110.6" y="354.0" text-anchor="end" font-size="10.6" font-weight="normal" fill="#404040" stroke="#404040" stroke-width="0.2" textLength="4.8" lengthAdjust="spacingAndGlyphs" font-family='"Liberation Serif", serif'>0</text>
<line x1="114.5" y1="350.4" x2="620.2" y2="350.4" stroke="#3a3a3a" stroke-width="1.6"/>
<line x1="114.50" y1="350.4" x2="114.50" y2="353.4" stroke="#3a3a3a" stroke-width="0.8"/>
<line x1="119.18" y1="350.4" x2="119.18" y2="352.09999999999997" stroke="#3a3a3a" stroke-width="0.8"/>
<line x1="123.86" y1="350.4" x2="123.86" y2="352.09999999999997" stroke="#3a3a3a" stroke-width="0.8"/>
<line x1="128.53" y1="350.4" x2="128.53" y2="352.09999999999997" stroke="#3a3a3a" stroke-width="0.8"/>
<line x1="133.21" y1="350.4" x2="133.21" y2="352.09999999999997" stroke="#3a3a3a" stroke-width="0.8"/>
<line x1="137.89" y1="350.4" x2="137.89" y2="353.4" stroke="#3a3a3a" stroke-width="0.8"/>
<line x1="142.57" y1="350.4" x2="142.57" y2="352.09999999999997" stroke="#3a3a3a" stroke-width="0.8"/>
<line x1="147.25" y1="350.4" x2="147.25" y2="352.09999999999997" stroke="#3a3a3a" stroke-width="0.8"/>
<line x1="151.92" y1="350.4" x2="151.92" y2="352.09999999999997" stroke="#3a3a3a" stroke-width="0.8"/>
<line x1="156.60" y1="350.4" x2="156.60" y2="352.09999999999997" stroke="#3a3a3a" stroke-width="0.8"/>
<line x1="161.28" y1="350.4" x2="161.28" y2="353.4" stroke="#3a3a3a" stroke-width="0.8"/>
<line x1="165.96" y1="350.4" x2="165.96" y2="352.09999999999997" stroke="#3a3a3a" stroke-width="0.8"/>
<line x1="170.64" y1="350.4" x2="170.64" y2="352.09999999999997" stroke="#3a3a3a" stroke-width="0.8"/>
<line x1="175.31" y1="350.4" x2="175.31" y2="352.09999999999997" stroke="#3a3a3a" stroke-width="0.8"/>
<line x1="179.99" y1="350.4" x2="179.99" y2="352.09999999999997" stroke="#3a3a3a" stroke-width="0.8"/>
<line x1="184.67" y1="350.4" x2="184.67" y2="353.4" stroke="#3a3a3a" stroke-width="0.8"/>
<line x1="189.35" y1="350.4" x2="189.35" y2="352.09999999999997" stroke="#3a3a3a" stroke-width="0.8"/>
<line x1="194.03" y1="350.4" x2="194.03" y2="352.09999999999997" stroke="#3a3a3a" stroke-width="0.8"/>
<line x1="198.70" y1="350.4" x2="198.70" y2="352.09999999999997" stroke="#3a3a3a" stroke-width="0.8"/>
<line x1="203.38" y1="350.4" x2="203.38" y2="352.09999999999997" stroke="#3a3a3a" stroke-width="0.8"/>
<line x1="208.06" y1="350.4" x2="208.06" y2="353.4" stroke="#3a3a3a" stroke-width="0.8"/>
<line x1="212.74" y1="350.4" x2="212.74" y2="352.09999999999997" stroke="#3a3a3a" stroke-width="0.8"/>
<line x1="217.42" y1="350.4" x2="217.42" y2="352.09999999999997" stroke="#3a3a3a" stroke-width="0.8"/>
<line x1="222.09" y1="350.4" x2="222.09" y2="352.09999999999997" stroke="#3a3a3a" stroke-width="0.8"/>
<line x1="226.77" y1="350.4" x2="226.77" y2="352.09999999999997" stroke="#3a3a3a" stroke-width="0.8"/>
<line x1="231.45" y1="350.4" x2="231.45" y2="353.4" stroke="#3a3a3a" stroke-width="0.8"/>
<line x1="236.13" y1="350.4" x2="236.13" y2="352.09999999999997" stroke="#3a3a3a" stroke-width="0.8"/>
<line x1="240.81" y1="350.4" x2="240.81" y2="352.09999999999997" stroke="#3a3a3a" stroke-width="0.8"/>
<line x1="245.48" y1="350.4" x2="245.48" y2="352.09999999999997" stroke="#3a3a3a" stroke-width="0.8"/>
<line x1="250.16" y1="350.4" x2="250.16" y2="352.09999999999997" stroke="#3a3a3a" stroke-width="0.8"/>
<line x1="254.84" y1="350.4" x2="254.84" y2="353.4" stroke="#3a3a3a" stroke-width="0.8"/>
<line x1="259.52" y1="350.4" x2="259.52" y2="352.09999999999997" stroke="#3a3a3a" stroke-width="0.8"/>
<line x1="264.20" y1="350.4" x2="264.20" y2="352.09999999999997" stroke="#3a3a3a" stroke-width="0.8"/>
<line x1="268.87" y1="350.4" x2="268.87" y2="352.09999999999997" stroke="#3a3a3a" stroke-width="0.8"/>
<line x1="273.55" y1="350.4" x2="273.55" y2="352.09999999999997" stroke="#3a3a3a" stroke-width="0.8"/>
<line x1="278.23" y1="350.4" x2="278.23" y2="353.4" stroke="#3a3a3a" stroke-width="0.8"/>
<line x1="282.91" y1="350.4" x2="282.91" y2="352.09999999999997" stroke="#3a3a3a" stroke-width="0.8"/>
<line x1="287.59" y1="350.4" x2="287.59" y2="352.09999999999997" stroke="#3a3a3a" stroke-width="0.8"/>
<line x1="292.26" y1="350.4" x2="292.26" y2="352.09999999999997" stroke="#3a3a3a" stroke-width="0.8"/>
<line x1="296.94" y1="350.4" x2="296.94" y2="352.09999999999997" stroke="#3a3a3a" stroke-width="0.8"/>
<line x1="301.62" y1="350.4" x2="301.62" y2="353.4" stroke="#3a3a3a" stroke-width="0.8"/>
<line x1="306.30" y1="350.4" x2="306.30" y2="352.09999999999997" stroke="#3a3a3a" stroke-width="0.8"/>
<line x1="310.98" y1="350.4" x2="310.98" y2="352.09999999999997" stroke="#3a3a3a" stroke-width="0.8"/>
<line x1="315.65" y1="350.4" x2="315.65" y2="352.09999999999997" stroke="#3a3a3a" stroke-width="0.8"/>
<line x1="320.33" y1="350.4" x2="320.33" y2="352.09999999999997" stroke="#3a3a3a" stroke-width="0.8"/>
<line x1="325.01" y1="350.4" x2="325.01" y2="353.4" stroke="#3a3a3a" stroke-width="0.8"/>
<line x1="329.69" y1="350.4" x2="329.69" y2="352.09999999999997" stroke="#3a3a3a" stroke-width="0.8"/>
<line x1="334.37" y1="350.4" x2="334.37" y2="352.09999999999997" stroke="#3a3a3a" stroke-width="0.8"/>
<line x1="339.04" y1="350.4" x2="339.04" y2="352.09999999999997" stroke="#3a3a3a" stroke-width="0.8"/>
<line x1="343.72" y1="350.4" x2="343.72" y2="352.09999999999997" stroke="#3a3a3a" stroke-width="0.8"/>
<line x1="348.40" y1="350.4" x2="348.40" y2="353.4" stroke="#3a3a3a" stroke-width="0.8"/>
<line x1="353.08" y1="350.4" x2="353.08" y2="352.09999999999997" stroke="#3a3a3a" stroke-width="0.8"/>
<line x1="357.76" y1="350.4" x2="357.76" y2="352.09999999999997" stroke="#3a3a3a" stroke-width="0.8"/>
<line x1="362.43" y1="350.4" x2="362.43" y2="352.09999999999997" stroke="#3a3a3a" stroke-width="0.8"/>
<line x1="367.11" y1="350.4" x2="367.11" y2="352.09999999999997" stroke="#3a3a3a" stroke-width="0.8"/>
<line x1="371.79" y1="350.4" x2="371.79" y2="353.4" stroke="#3a3a3a" stroke-width="0.8"/>
<line x1="376.47" y1="350.4" x2="376.47" y2="352.09999999999997" stroke="#3a3a3a" stroke-width="0.8"/>
<line x1="381.15" y1="350.4" x2="381.15" y2="352.09999999999997" stroke="#3a3a3a" stroke-width="0.8"/>
<line x1="385.82" y1="350.4" x2="385.82" y2="352.09999999999997" stroke="#3a3a3a" stroke-width="0.8"/>
<line x1="390.50" y1="350.4" x2="390.50" y2="352.09999999999997" stroke="#3a3a3a" stroke-width="0.8"/>
<line x1="395.18" y1="350.4" x2="395.18" y2="353.4" stroke="#3a3a3a" stroke-width="0.8"/>
<line x1="399.86" y1="350.4" x2="399.86" y2="352.09999999999997" stroke="#3a3a3a" stroke-width="0.8"/>
<line x1="404.54" y1="350.4" x2="404.54" y2="352.09999999999997" stroke="#3a3a3a" stroke-width="0.8"/>
<line x1="409.21" y1="350.4" x2="409.21" y2="352.09999999999997" stroke="#3a3a3a" stroke-width="0.8"/>
<line x1="413.89" y1="350.4" x2="413.89" y2="352.09999999999997" stroke="#3a3a3a" stroke-width="0.8"/>
<line x1="418.57" y1="350.4" x2="418.57" y2="353.4" stroke="#3a3a3a" stroke-width="0.8"/>
<line x1="423.25" y1="350.4" x2="423.25" y2="352.09999999999997" stroke="#3a3a3a" stroke-width="0.8"/>
<line x1="427.93" y1="350.4" x2="427.93" y2="352.09999999999997" stroke="#3a3a3a" stroke-width="0.8"/>
<line x1="432.60" y1="350.4" x2="432.60" y2="352.09999999999997" stroke="#3a3a3a" stroke-width="0.8"/>
<line x1="437.28" y1="350.4" x2="437.28" y2="352.09999999999997" stroke="#3a3a3a" stroke-width="0.8"/>
<line x1="441.96" y1="350.4" x2="441.96" y2="353.4" stroke="#3a3a3a" stroke-width="0.8"/>
<line x1="446.64" y1="350.4" x2="446.64" y2="352.09999999999997" stroke="#3a3a3a" stroke-width="0.8"/>
<line x1="451.32" y1="350.4" x2="451.32" y2="352.09999999999997" stroke="#3a3a3a" stroke-width="0.8"/>
<line x1="455.99" y1="350.4" x2="455.99" y2="352.09999999999997" stroke="#3a3a3a" stroke-width="0.8"/>
<line x1="460.67" y1="350.4" x2="460.67" y2="352.09999999999997" stroke="#3a3a3a" stroke-width="0.8"/>
<line x1="465.35" y1="350.4" x2="465.35" y2="353.4" stroke="#3a3a3a" stroke-width="0.8"/>
<line x1="470.03" y1="350.4" x2="470.03" y2="352.09999999999997" stroke="#3a3a3a" stroke-width="0.8"/>
<line x1="474.71" y1="350.4" x2="474.71" y2="352.09999999999997" stroke="#3a3a3a" stroke-width="0.8"/>
<line x1="479.38" y1="350.4" x2="479.38" y2="352.09999999999997" stroke="#3a3a3a" stroke-width="0.8"/>
<line x1="484.06" y1="350.4" x2="484.06" y2="352.09999999999997" stroke="#3a3a3a" stroke-width="0.8"/>
<line x1="488.74" y1="350.4" x2="488.74" y2="353.4" stroke="#3a3a3a" stroke-width="0.8"/>
<line x1="493.42" y1="350.4" x2="493.42" y2="352.09999999999997" stroke="#3a3a3a" stroke-width="0.8"/>
<line x1="498.10" y1="350.4" x2="498.10" y2="352.09999999999997" stroke="#3a3a3a" stroke-width="0.8"/>
<line x1="502.77" y1="350.4" x2="502.77" y2="352.09999999999997" stroke="#3a3a3a" stroke-width="0.8"/>
<line x1="507.45" y1="350.4" x2="507.45" y2="352.09999999999997" stroke="#3a3a3a" stroke-width="0.8"/>
<line x1="512.13" y1="350.4" x2="512.13" y2="353.4" stroke="#3a3a3a" stroke-width="0.8"/>
<line x1="516.81" y1="350.4" x2="516.81" y2="352.09999999999997" stroke="#3a3a3a" stroke-width="0.8"/>
<line x1="521.49" y1="350.4" x2="521.49" y2="352.09999999999997" stroke="#3a3a3a" stroke-width="0.8"/>
<line x1="526.16" y1="350.4" x2="526.16" y2="352.09999999999997" stroke="#3a3a3a" stroke-width="0.8"/>
<line x1="530.84" y1="350.4" x2="530.84" y2="352.09999999999997" stroke="#3a3a3a" stroke-width="0.8"/>
<line x1="535.52" y1="350.4" x2="535.52" y2="353.4" stroke="#3a3a3a" stroke-width="0.8"/>
<line x1="540.20" y1="350.4" x2="540.20" y2="352.09999999999997" stroke="#3a3a3a" stroke-width="0.8"/>
<line x1="544.88" y1="350.4" x2="544.88" y2="352.09999999999997" stroke="#3a3a3a" stroke-width="0.8"/>
<line x1="549.55" y1="350.4" x2="549.55" y2="352.09999999999997" stroke="#3a3a3a" stroke-width="0.8"/>
<line x1="554.23" y1="350.4" x2="554.23" y2="352.09999999999997" stroke="#3a3a3a" stroke-width="0.8"/>
<line x1="558.91" y1="350.4" x2="558.91" y2="353.4" stroke="#3a3a3a" stroke-width="0.8"/>
<line x1="563.59" y1="350.4" x2="563.59" y2="352.09999999999997" stroke="#3a3a3a" stroke-width="0.8"/>
<line x1="568.27" y1="350.4" x2="568.27" y2="352.09999999999997" stroke="#3a3a3a" stroke-width="0.8"/>
<line x1="572.94" y1="350.4" x2="572.94" y2="352.09999999999997" stroke="#3a3a3a" stroke-width="0.8"/>
<line x1="577.62" y1="350.4" x2="577.62" y2="352.09999999999997" stroke="#3a3a3a" stroke-width="0.8"/>
<line x1="582.30" y1="350.4" x2="582.30" y2="353.4" stroke="#3a3a3a" stroke-width="0.8"/>
<line x1="586.98" y1="350.4" x2="586.98" y2="352.09999999999997" stroke="#3a3a3a" stroke-width="0.8"/>
<line x1="591.66" y1="350.4" x2="591.66" y2="352.09999999999997" stroke="#3a3a3a" stroke-width="0.8"/>
<line x1="596.33" y1="350.4" x2="596.33" y2="352.09999999999997" stroke="#3a3a3a" stroke-width="0.8"/>
<line x1="601.01" y1="350.4" x2="601.01" y2="352.09999999999997" stroke="#3a3a3a" stroke-width="0.8"/>
<line x1="605.69" y1="350.4" x2="605.69" y2="353.4" stroke="#3a3a3a" stroke-width="0.8"/>
<line x1="610.37" y1="350.4" x2="610.37" y2="352.09999999999997" stroke="#3a3a3a" stroke-width="0.8"/>
<line x1="615.05" y1="350.4" x2="615.05" y2="352.09999999999997" stroke="#3a3a3a" stroke-width="0.8"/>
<line x1="619.72" y1="350.4" x2="619.72" y2="352.09999999999997" stroke="#3a3a3a" stroke-width="0.8"/>
<text x="114.50" y="364.5" text-anchor="middle" font-size="10.8" font-weight="normal" fill="#404040" stroke="#404040" stroke-width="0.2" textLength="4.75" lengthAdjust="spacingAndGlyphs" font-family='"Liberation Serif", serif'>8</text>
<text x="137.89" y="364.5" text-anchor="middle" font-size="10.8" font-weight="normal" fill="#404040" stroke="#404040" stroke-width="0.2" textLength="4.75" lengthAdjust="spacingAndGlyphs" font-family='"Liberation Serif", serif'>9</text>
<text x="161.28" y="364.5" text-anchor="middle" font-size="10.8" font-weight="normal" fill="#404040" stroke="#404040" stroke-width="0.2" textLength="9.5" lengthAdjust="spacingAndGlyphs" font-family='"Liberation Serif", serif'>10</text>
<text x="184.67" y="364.5" text-anchor="middle" font-size="10.8" font-weight="normal" fill="#404040" stroke="#404040" stroke-width="0.2" textLength="9.5" lengthAdjust="spacingAndGlyphs" font-family='"Liberation Serif", serif'>11</text>
<text x="208.06" y="364.5" text-anchor="middle" font-size="10.8" font-weight="normal" fill="#404040" stroke="#404040" stroke-width="0.2" textLength="9.5" lengthAdjust="spacingAndGlyphs" font-family='"Liberation Serif", serif'>12</text>
<text x="231.45" y="364.5" text-anchor="middle" font-size="10.8" font-weight="normal" fill="#404040" stroke="#404040" stroke-width="0.2" textLength="9.5" lengthAdjust="spacingAndGlyphs" font-family='"Liberation Serif", serif'>13</text>
<text x="254.84" y="364.5" text-anchor="middle" font-size="10.8" font-weight="normal" fill="#404040" stroke="#404040" stroke-width="0.2" textLength="9.5" lengthAdjust="spacingAndGlyphs" font-family='"Liberation Serif", serif'>14</text>
<text x="278.23" y="364.5" text-anchor="middle" font-size="10.8" font-weight="normal" fill="#404040" stroke="#404040" stroke-width="0.2" textLength="9.5" lengthAdjust="spacingAndGlyphs" font-family='"Liberation Serif", serif'>15</text>
<text x="301.62" y="364.5" text-anchor="middle" font-size="10.8" font-weight="normal" fill="#404040" stroke="#404040" stroke-width="0.2" textLength="9.5" lengthAdjust="spacingAndGlyphs" font-family='"Liberation Serif", serif'>16</text>
<text x="325.01" y="364.5" text-anchor="middle" font-size="10.8" font-weight="normal" fill="#404040" stroke="#404040" stroke-width="0.2" textLength="9.5" lengthAdjust="spacingAndGlyphs" font-family='"Liberation Serif", serif'>17</text>
<text x="348.40" y="364.5" text-anchor="middle" font-size="10.8" font-weight="normal" fill="#404040" stroke="#404040" stroke-width="0.2" textLength="9.5" lengthAdjust="spacingAndGlyphs" font-family='"Liberation Serif", serif'>18</text>
<text x="371.79" y="364.5" text-anchor="middle" font-size="10.8" font-weight="normal" fill="#404040" stroke="#404040" stroke-width="0.2" textLength="9.5" lengthAdjust="spacingAndGlyphs" font-family='"Liberation Serif", serif'>19</text>
<text x="395.18" y="364.5" text-anchor="middle" font-size="10.8" font-weight="normal" fill="#404040" stroke="#404040" stroke-width="0.2" textLength="9.5" lengthAdjust="spacingAndGlyphs" font-family='"Liberation Serif", serif'>20</text>
<text x="418.57" y="364.5" text-anchor="middle" font-size="10.8" font-weight="normal" fill="#404040" stroke="#404040" stroke-width="0.2" textLength="9.5" lengthAdjust="spacingAndGlyphs" font-family='"Liberation Serif", serif'>21</text>
<text x="441.96" y="364.5" text-anchor="middle" font-size="10.8" font-weight="normal" fill="#404040" stroke="#404040" stroke-width="0.2" textLength="9.5" lengthAdjust="spacingAndGlyphs" font-family='"Liberation Serif", serif'>22</text>
<text x="465.35" y="364.5" text-anchor="middle" font-size="10.8" font-weight="normal" fill="#404040" stroke="#404040" stroke-width="0.2" textLength="9.5" lengthAdjust="spacingAndGlyphs" font-family='"Liberation Serif", serif'>23</text>
<text x="488.74" y="364.5" text-anchor="middle" font-size="10.8" font-weight="normal" fill="#404040" stroke="#404040" stroke-width="0.2" textLength="9.5" lengthAdjust="spacingAndGlyphs" font-family='"Liberation Serif", serif'>24</text>
<text x="512.13" y="364.5" text-anchor="middle" font-size="10.8" font-weight="normal" fill="#404040" stroke="#404040" stroke-width="0.2" textLength="9.5" lengthAdjust="spacingAndGlyphs" font-family='"Liberation Serif", serif'>25</text>
<text x="535.52" y="364.5" text-anchor="middle" font-size="10.8" font-weight="normal" fill="#404040" stroke="#404040" stroke-width="0.2" textLength="9.5" lengthAdjust="spacingAndGlyphs" font-family='"Liberation Serif", serif'>26</text>
<text x="558.91" y="364.5" text-anchor="middle" font-size="10.8" font-weight="normal" fill="#404040" stroke="#404040" stroke-width="0.2" textLength="9.5" lengthAdjust="spacingAndGlyphs" font-family='"Liberation Serif", serif'>27</text>
<text x="582.30" y="364.5" text-anchor="middle" font-size="10.8" font-weight="normal" fill="#404040" stroke="#404040" stroke-width="0.2" textLength="9.5" lengthAdjust="spacingAndGlyphs" font-family='"Liberation Serif", serif'>28</text>
<text x="605.69" y="364.5" text-anchor="middle" font-size="10.8" font-weight="normal" fill="#404040" stroke="#404040" stroke-width="0.2" textLength="9.5" lengthAdjust="spacingAndGlyphs" font-family='"Liberation Serif", serif'>29</text>
<path d="M114.50,180.30 L114.85,180.30 L115.20,180.30 L115.55,180.30 L115.90,180.30 L116.25,180.30 L116.60,180.30 L116.95,180.30 L117.30,180.30 L117.65,180.30 L118.00,180.30 L118.35,180.30 L118.70,180.30 L119.05,180.30 L119.40,180.30 L119.75,180.30 L120.10,180.30 L120.45,180.30 L120.80,180.30 L121.15,180.30 L121.50,180.30 L121.85,180.30 L122.20,180.30 L122.55,180.30 L122.90,180.30 L123.25,180.30 L123.60,180.30 L123.95,180.30 L124.30,180.30 L124.65,180.30 L125.00,180.30 L125.35,180.30 L125.70,180.30 L126.05,180.30 L126.40,180.30 L126.75,180.30 L127.10,180.30 L127.45,180.30 L127.80,180.30 L128.15,180.30 L128.50,180.30 L128.85,180.30 L129.20,180.30 L129.55,180.30 L129.90,180.30 L130.25,180.30 L130.60,180.30 L130.95,180.30 L131.30,180.30 L131.65,180.30 L132.00,180.30 L132.35,180.30 L132.70,180.30 L133.05,180.30 L133.40,180.30 L133.75,180.30 L134.10,180.30 L134.45,180.30 L134.80,180.30 L135.15,180.30 L135.50,180.30 L135.85,180.30 L136.20,180.30 L136.55,180.30 L136.90,180.30 L137.25,180.30 L137.60,180.30 L137.95,180.30 L138.30,180.30 L138.65,180.30 L139.00,180.30 L139.35,180.30 L139.70,180.30 L140.05,180.30 L140.40,180.30 L140.75,180.30 L141.10,180.30 L141.45,180.30 L141.80,180.30 L142.15,180.30 L142.50,180.30 L142.85,180.30 L143.20,180.30 L143.55,180.30 L143.90,180.30 L144.25,180.30 L144.60,180.30 L144.95,180.30 L145.30,180.30 L145.65,180.30 L146.00,180.30 L146.35,180.30 L146.70,180.30 L147.05,180.30 L147.40,180.30 L147.75,180.30 L148.10,180.30 L148.45,180.30 L148.80,180.30 L149.15,180.30 L149.50,180.30 L149.85,180.30 L150.20,180.30 L150.55,180.30 L150.90,180.30 L151.25,180.30 L151.60,180.30 L151.95,180.30 L152.30,180.30 L152.65,180.30 L153.00,180.30 L153.35,180.30 L153.70,180.30 L154.05,180.30 L154.40,180.30 L154.75,180.30 L155.10,180.30 L155.45,180.30 L155.80,180.30 L156.15,180.30 L156.50,180.30 L156.85,180.30 L157.20,180.30 L157.55,180.30 L157.90,180.30 L158.25,180.30 L158.60,180.30 L158.95,180.30 L159.30,180.30 L159.65,180.30 L160.00,180.30 L160.35,180.30 L160.70,180.30 L161.05,180.30 L161.40,180.30 L161.75,180.30 L162.10,180.30 L162.45,180.30 L162.80,180.30 L163.15,180.30 L163.50,180.30 L163.85,180.30 L164.20,180.30 L164.55,180.30 L164.90,180.30 L165.25,180.30 L165.60,180.30 L165.95,180.30 L166.30,180.30 L166.65,180.30 L167.00,180.30 L167.35,180.30 L167.70,180.30 L168.05,180.30 L168.40,180.30 L168.75,180.30 L169.10,180.30 L169.45,180.30 L169.80,180.30 L170.15,180.30 L170.50,180.30 L170.85,180.30 L171.20,180.30 L171.55,180.30 L171.90,180.30 L172.25,180.30 L172.60,180.30 L172.95,180.30 L173.30,180.30 L173.65,180.30 L174.00,180.30 L174.35,180.30 L174.70,180.30 L175.05,180.30 L175.40,180.30 L175.75,180.30 L176.10,180.30 L176.45,180.30 L176.80,180.30 L177.15,180.30 L177.50,180.30 L177.85,180.30 L178.20,180.30 L178.55,180.30 L178.90,180.30 L179.25,180.30 L179.60,180.30 L179.95,180.30 L180.30,180.30 L180.65,180.30 L181.00,180.30 L181.35,180.30 L181.70,180.30 L182.05,180.30 L182.40,180.30 L182.75,180.30 L183.10,180.30 L183.45,180.30 L183.80,180.30 L184.15,180.30 L184.50,180.30 L184.85,180.30 L185.20,180.30 L185.55,180.30 L185.90,180.30 L186.25,180.30 L186.60,180.30 L186.95,180.30 L187.30,180.30 L187.65,180.30 L188.00,180.30 L188.35,180.30 L188.70,180.30 L189.05,180.30 L189.40,180.30 L189.75,180.30 L190.10,180.30 L190.45,180.30 L190.80,180.30 L191.15,180.30 L191.50,180.30 L191.85,180.30 L192.20,180.30 L192.55,180.30 L192.90,180.30 L193.25,180.30 L193.60,180.30 L193.95,180.30 L194.30,180.30 L194.65,180.30 L195.00,180.30 L195.35,180.30 L195.70,180.30 L196.05,180.30 L196.40,180.30 L196.75,180.30 L197.10,180.30 L197.45,180.30 L197.80,180.30 L198.15,180.30 L198.50,180.30 L198.85,180.30 L199.20,180.30 L199.55,180.30 L199.90,180.30 L200.25,180.30 L200.60,180.30 L200.95,180.30 L201.30,180.30 L201.65,180.30 L202.00,180.30 L202.35,180.30 L202.70,180.30 L203.05,180.30 L203.40,180.30 L203.75,180.30 L204.10,180.30 L204.45,180.30 L204.80,180.30 L205.15,180.30 L205.50,180.30 L205.85,180.30 L206.20,180.30 L206.55,180.30 L206.90,180.30 L207.25,180.30 L207.60,180.30 L207.95,180.30 L208.30,180.30 L208.65,180.30 L209.00,180.30 L209.35,180.30 L209.70,180.30 L210.05,180.30 L210.40,180.30 L210.75,180.30 L211.10,180.30 L211.45,180.30 L211.80,180.30 L212.15,180.30 L212.50,180.29 L212.85,180.29 L213.20,180.29 L213.55,180.28 L213.90,180.27 L214.25,180.26 L214.60,180.25 L214.95,180.23 L215.30,180.21 L215.65,180.18 L216.00,180.15 L216.35,180.11 L216.70,180.06 L217.05,179.98 L217.40,179.86 L217.75,179.67 L218.10,179.41 L218.45,179.09 L218.80,178.73 L219.15,178.39 L219.50,178.16 L219.85,178.10 L220.20,178.18 L220.55,178.38 L220.90,178.65 L221.25,178.96 L221.60,179.26 L221.95,179.51 L222.30,179.71 L222.65,179.86 L223.00,179.97 L223.35,180.04 L223.70,180.09 L224.05,180.13 L224.40,180.16 L224.75,180.19 L225.10,180.21 L225.45,180.23 L225.80,180.24 L226.15,180.25 L226.50,180.26 L226.85,180.27 L227.20,180.28 L227.55,180.28 L227.90,180.29 L228.25,180.29 L228.60,180.29 L228.95,180.30 L229.30,180.30 L229.65,180.30 L230.00,180.30 L230.35,180.30 L230.70,180.30 L231.05,180.30 L231.40,180.30 L231.75,180.30 L232.10,180.30 L232.45,180.30 L232.80,180.30 L233.15,180.30 L233.50,180.30 L233.85,180.30 L234.20,180.30 L234.55,180.29 L234.90,180.29 L235.25,180.28 L235.60,180.26 L235.95,180.24 L236.30,180.21 L236.65,180.16 L237.00,180.09 L237.35,179.99 L237.70,179.85 L238.05,179.65 L238.40,179.40 L238.75,179.07 L239.10,178.65 L239.45,178.12 L239.80,177.48 L240.15,176.70 L240.50,175.74 L240.85,174.52 L241.20,172.83 L241.55,170.35 L241.90,166.55 L242.25,160.86 L242.60,152.88 L242.95,142.77 L243.30,131.58 L243.65,121.27 L244.00,114.18 L244.35,112.13 L244.70,114.73 L245.05,120.88 L245.40,129.40 L245.75,138.88 L246.10,148.00 L246.45,155.87 L246.80,162.09 L247.15,166.70 L247.50,169.97 L247.85,172.25 L248.20,173.87 L248.55,175.07 L248.90,176.02 L249.25,176.80 L249.60,177.45 L249.95,178.01 L250.30,178.48 L250.65,178.87 L251.00,179.19 L251.35,179.45 L251.70,179.66 L252.05,179.83 L252.40,179.95 L252.75,180.05 L253.10,180.12 L253.45,180.17 L253.80,180.21 L254.15,180.24 L254.50,180.26 L254.85,180.27 L255.20,180.28 L255.55,180.29 L255.90,180.29 L256.25,180.30 L256.60,180.30 L256.95,180.30 L257.30,180.30 L257.65,180.30 L258.00,180.30 L258.35,180.30 L258.70,180.30 L259.05,180.30 L259.40,180.30 L259.75,180.30 L260.10,180.30 L260.45,180.30 L260.80,180.29 L261.15,180.29 L261.50,180.28 L261.85,180.28 L262.20,180.26 L262.55,180.25 L262.90,180.22 L263.25,180.19 L263.60,180.15 L263.95,180.09 L264.30,180.02 L264.65,179.94 L265.00,179.83 L265.35,179.70 L265.70,179.54 L266.05,179.33 L266.40,179.05 L266.75,178.63 L267.10,177.99 L267.45,177.04 L267.80,175.70 L268.15,174.01 L268.50,172.13 L268.85,170.40 L269.20,169.21 L269.55,168.87 L269.90,169.30 L270.25,170.33 L270.60,171.75 L270.95,173.34 L271.30,174.86 L271.65,176.17 L272.00,177.20 L272.35,177.95 L272.70,178.47 L273.05,178.83 L273.40,179.06 L273.75,179.22 L274.10,179.33 L274.45,179.39 L274.80,179.40 L275.15,179.34 L275.50,179.18 L275.85,178.91 L276.20,178.52 L276.55,178.03 L276.90,177.53 L277.25,177.14 L277.60,176.95 L277.95,177.00 L278.30,177.24 L278.65,177.62 L279.00,178.08 L279.35,178.54 L279.70,178.95 L280.05,179.29 L280.40,179.54 L280.75,179.72 L281.10,179.85 L281.45,179.93 L281.80,179.99 L282.15,180.03 L282.50,180.05 L282.85,180.07 L283.20,180.08 L283.55,180.08 L283.90,180.06 L284.25,180.02 L284.60,179.95 L284.95,179.83 L285.30,179.67 L285.65,179.46 L286.00,179.24 L286.35,179.05 L286.70,178.93 L287.05,178.92 L287.40,179.00 L287.75,179.14 L288.10,179.32 L288.45,179.52 L288.80,179.69 L289.15,179.84 L289.50,179.96 L289.85,180.04 L290.20,180.10 L290.55,180.14 L290.90,180.16 L291.25,180.17 L291.60,180.17 L291.95,180.16 L292.30,180.13 L292.65,180.08 L293.00,180.00 L293.35,179.89 L293.70,179.72 L294.05,179.50 L294.40,179.21 L294.75,178.84 L295.10,178.36 L295.45,177.78 L295.80,177.06 L296.15,176.19 L296.50,175.10 L296.85,173.65 L297.20,171.56 L297.55,168.41 L297.90,163.62 L298.25,156.66 L298.60,147.42 L298.95,136.54 L299.30,125.60 L299.65,116.87 L300.00,112.53 L300.35,113.34 L300.70,118.06 L301.05,125.70 L301.40,134.91 L301.75,144.28 L302.10,152.72 L302.45,159.63 L302.80,164.86 L303.15,168.60 L303.50,171.18 L303.85,172.95 L304.20,174.19 L304.55,175.07 L304.90,175.72 L305.25,176.18 L305.60,176.49 L305.95,176.63 L306.30,176.62 L306.65,176.39 L307.00,175.88 L307.35,174.90 L307.70,173.24 L308.05,170.66 L308.40,167.05 L308.75,162.58 L309.10,157.84 L309.45,153.74 L309.80,151.28 L310.15,151.06 L310.50,152.66 L310.85,155.66 L311.20,159.50 L311.55,163.58 L311.90,167.36 L312.25,170.52 L312.60,172.95 L312.95,174.70 L313.30,175.89 L313.65,176.68 L314.00,177.20 L314.35,177.53 L314.70,177.73 L315.05,177.83 L315.40,177.82 L315.75,177.67 L316.10,177.30 L316.45,176.62 L316.80,175.47 L317.15,173.76 L317.50,171.51 L317.85,168.93 L318.20,166.47 L318.55,164.68 L318.90,164.04 L319.25,164.54 L319.60,165.91 L319.95,167.88 L320.30,170.12 L320.65,172.32 L321.00,174.24 L321.35,175.77 L321.70,176.91 L322.05,177.71 L322.40,178.27 L322.75,178.66 L323.10,178.94 L323.45,179.15 L323.80,179.31 L324.15,179.43 L324.50,179.51 L324.85,179.54 L325.20,179.52 L325.55,179.42 L325.90,179.24 L326.25,178.99 L326.60,178.72 L326.95,178.47 L327.30,178.33 L327.65,178.34 L328.00,178.45 L328.35,178.66 L328.70,178.92 L329.05,179.19 L329.40,179.45 L329.75,179.66 L330.10,179.82 L330.45,179.94 L330.80,180.03 L331.15,180.09 L331.50,180.13 L331.85,180.16 L332.20,180.19 L332.55,180.21 L332.90,180.22 L333.25,180.24 L333.60,180.25 L333.95,180.26 L334.30,180.27 L334.65,180.27 L335.00,180.28 L335.35,180.28 L335.70,180.28 L336.05,180.27 L336.40,180.26 L336.75,180.25 L337.10,180.24 L337.45,180.22 L337.80,180.20 L338.15,180.17 L338.50,180.13 L338.85,180.09 L339.20,180.03 L339.55,179.94 L339.90,179.82 L340.25,179.62 L340.60,179.34 L340.95,178.96 L341.30,178.51 L341.65,178.04 L342.00,177.64 L342.35,177.43 L342.70,177.43 L343.05,177.61 L343.40,177.93 L343.75,178.31 L344.10,178.71 L344.45,179.08 L344.80,179.39 L345.15,179.62 L345.50,179.79 L345.85,179.91 L346.20,179.99 L346.55,180.05 L346.90,180.10 L347.25,180.13 L347.60,180.16 L347.95,180.19 L348.30,180.21 L348.65,180.23 L349.00,180.25 L349.35,180.26 L349.70,180.27 L350.05,180.28 L350.40,180.28 L350.75,180.29 L351.10,180.29 L351.45,180.29 L351.80,180.30 L352.15,180.30 L352.50,180.30 L352.85,180.30 L353.20,180.30 L353.55,180.29 L353.90,180.29 L354.25,180.28 L354.60,180.27 L354.95,180.26 L355.30,180.24 L355.65,180.20 L356.00,180.15 L356.35,180.08 L356.70,179.98 L357.05,179.85 L357.40,179.67 L357.75,179.44 L358.10,179.15 L358.45,178.78 L358.80,178.34 L359.15,177.79 L359.50,177.12 L359.85,176.27 L360.20,175.09 L360.55,173.36 L360.90,170.72 L361.25,166.75 L361.60,161.19 L361.95,154.14 L362.30,146.35 L362.65,139.16 L363.00,134.21 L363.35,132.79 L363.70,134.60 L364.05,138.88 L364.40,144.82 L364.75,151.43 L365.10,157.78 L365.45,163.27 L365.80,167.60 L366.15,170.81 L366.50,173.08 L366.85,174.66 L367.20,175.78 L367.55,176.60 L367.90,177.24 L368.25,177.75 L368.60,178.18 L368.95,178.52 L369.30,178.79 L369.65,179.00 L370.00,179.15 L370.35,179.23 L370.70,179.23 L371.05,179.13 L371.40,178.90 L371.75,178.50 L372.10,177.88 L372.45,177.07 L372.80,176.15 L373.15,175.31 L373.50,174.73 L373.85,174.57 L374.20,174.79 L374.55,175.31 L374.90,176.03 L375.25,176.82 L375.60,177.59 L375.95,178.25 L376.30,178.77 L376.65,179.16 L377.00,179.43 L377.35,179.61 L377.70,179.75 L378.05,179.84 L378.40,179.91 L378.75,179.96 L379.10,179.99 L379.45,180.01 L379.80,180.01 L380.15,180.00 L380.50,179.97 L380.85,179.92 L381.20,179.85 L381.55,179.75 L381.90,179.63 L382.25,179.45 L382.60,179.19 L382.95,178.78 L383.30,178.16 L383.65,177.29 L384.00,176.15 L384.35,174.87 L384.70,173.65 L385.05,172.77 L385.40,172.44 L385.75,172.68 L386.10,173.34 L386.45,174.29 L386.80,175.37 L387.15,176.44 L387.50,177.37 L387.85,178.11 L388.20,178.67 L388.55,179.06 L388.90,179.34 L389.25,179.54 L389.60,179.68 L389.95,179.79 L390.30,179.88 L390.65,179.96 L391.00,180.03 L391.35,180.08 L391.70,180.13 L392.05,180.17 L392.40,180.20 L392.75,180.22 L393.10,180.24 L393.45,180.26 L393.80,180.27 L394.15,180.28 L394.50,180.28 L394.85,180.29 L395.20,180.29 L395.55,180.30 L395.90,180.30 L396.25,180.30 L396.60,180.30 L396.95,180.30 L397.30,180.30 L397.65,180.30 L398.00,180.30 L398.35,180.30 L398.70,180.30 L399.05,180.30 L399.40,180.29 L399.75,180.29 L400.10,180.29 L400.45,180.29 L400.80,180.28 L401.15,180.27 L401.50,180.27 L401.85,180.26 L402.20,180.25 L402.55,180.23 L402.90,180.21 L403.25,180.18 L403.60,180.13 L403.95,180.06 L404.30,179.97 L404.65,179.86 L405.00,179.74 L405.35,179.66 L405.70,179.61 L406.05,179.62 L406.40,179.66 L406.75,179.74 L407.10,179.83 L407.45,179.92 L407.80,179.99 L408.15,180.05 L408.50,180.09 L408.85,180.12 L409.20,180.12 L409.55,180.12 L409.90,180.10 L410.25,180.08 L410.60,180.03 L410.95,179.96 L411.30,179.85 L411.65,179.67 L412.00,179.43 L412.35,179.14 L412.70,178.82 L413.05,178.55 L413.40,178.39 L413.75,178.38 L414.10,178.48 L414.45,178.68 L414.80,178.93 L415.15,179.20 L415.50,179.45 L415.85,179.66 L416.20,179.83 L416.55,179.95 L416.90,180.03 L417.25,180.09 L417.60,180.13 L417.95,180.16 L418.30,180.19 L418.65,180.21 L419.00,180.22 L419.35,180.24 L419.70,180.25 L420.05,180.26 L420.40,180.27 L420.75,180.28 L421.10,180.28 L421.45,180.28 L421.80,180.29 L422.15,180.29 L422.50,180.28 L422.85,180.28 L423.20,180.27 L423.55,180.25 L423.90,180.22 L424.25,180.18 L424.60,180.13 L424.95,180.06 L425.30,179.96 L425.65,179.83 L426.00,179.66 L426.35,179.45 L426.70,179.19 L427.05,178.88 L427.40,178.49 L427.75,178.01 L428.10,177.38 L428.45,176.48 L428.80,175.12 L429.15,173.06 L429.50,170.04 L429.85,165.97 L430.20,161.08 L430.55,156.04 L430.90,151.85 L431.25,149.54 L431.60,149.60 L431.95,151.52 L432.30,154.86 L432.65,159.00 L433.00,163.30 L433.35,167.23 L433.70,170.50 L434.05,173.01 L434.40,174.82 L434.75,176.09 L435.10,176.98 L435.45,177.63 L435.80,178.12 L436.15,178.51 L436.50,178.84 L436.85,179.12 L437.20,179.35 L437.55,179.55 L437.90,179.71 L438.25,179.85 L438.60,179.95 L438.95,180.03 L439.30,180.10 L439.65,180.14 L440.00,180.17 L440.35,180.18 L440.70,180.18 L441.05,180.17 L441.40,180.15 L441.75,180.11 L442.10,180.06 L442.45,180.00 L442.80,179.93 L443.15,179.83 L443.50,179.70 L443.85,179.52 L444.20,179.24 L444.55,178.82 L444.90,178.20 L445.25,177.37 L445.60,176.37 L445.95,175.34 L446.30,174.48 L446.65,174.01 L447.00,174.02 L447.35,174.42 L447.70,175.10 L448.05,175.94 L448.40,176.82 L448.75,177.63 L449.10,178.30 L449.45,178.81 L449.80,179.18 L450.15,179.44 L450.50,179.62 L450.85,179.75 L451.20,179.85 L451.55,179.93 L451.90,179.99 L452.25,180.05 L452.60,180.09 L452.95,180.13 L453.30,180.16 L453.65,180.18 L454.00,180.19 L454.35,180.20 L454.70,180.20 L455.05,180.19 L455.40,180.16 L455.75,180.12 L456.10,180.06 L456.45,179.97 L456.80,179.87 L457.15,179.76 L457.50,179.67 L457.85,179.61 L458.20,179.62 L458.55,179.66 L458.90,179.73 L459.25,179.83 L459.60,179.92 L459.95,180.01 L460.30,180.08 L460.65,180.14 L461.00,180.18 L461.35,180.21 L461.70,180.23 L462.05,180.24 L462.40,180.25 L462.75,180.26 L463.10,180.27 L463.45,180.27 L463.80,180.28 L464.15,180.28 L464.50,180.29 L464.85,180.29 L465.20,180.29 L465.55,180.29 L465.90,180.30 L466.25,180.30 L466.60,180.30 L466.95,180.30 L467.30,180.30 L467.65,180.30 L468.00,180.30 L468.35,180.30 L468.70,180.30 L469.05,180.30 L469.40,180.29 L469.75,180.29 L470.10,180.29 L470.45,180.28 L470.80,180.27 L471.15,180.27 L471.50,180.26 L471.85,180.25 L472.20,180.23 L472.55,180.21 L472.90,180.19 L473.25,180.15 L473.60,180.09 L473.95,180.01 L474.30,179.88 L474.65,179.73 L475.00,179.56 L475.35,179.41 L475.70,179.30 L476.05,179.27 L476.40,179.31 L476.75,179.40 L477.10,179.53 L477.45,179.67 L477.80,179.81 L478.15,179.93 L478.50,180.02 L478.85,180.09 L479.20,180.14 L479.55,180.18 L479.90,180.20 L480.25,180.22 L480.60,180.24 L480.95,180.25 L481.30,180.26 L481.65,180.26 L482.00,180.27 L482.35,180.28 L482.70,180.28 L483.05,180.28 L483.40,180.29 L483.75,180.29 L484.10,180.29 L484.45,180.28 L484.80,180.28 L485.15,180.27 L485.50,180.25 L485.85,180.24 L486.20,180.21 L486.55,180.18 L486.90,180.14 L487.25,180.10 L487.60,180.04 L487.95,179.97 L488.30,179.88 L488.65,179.76 L489.00,179.59 L489.35,179.34 L489.70,178.95 L490.05,178.38 L490.40,177.63 L490.75,176.75 L491.10,175.87 L491.45,175.16 L491.80,174.80 L492.15,174.87 L492.50,175.25 L492.85,175.86 L493.20,176.61 L493.55,177.36 L493.90,178.03 L494.25,178.58 L494.60,178.98 L494.95,179.26 L495.30,179.44 L495.65,179.55 L496.00,179.61 L496.35,179.63 L496.70,179.62 L497.05,179.58 L497.40,179.49 L497.75,179.33 L498.10,179.06 L498.45,178.63 L498.80,178.01 L499.15,177.21 L499.50,176.32 L499.85,175.50 L500.20,174.93 L500.55,174.77 L500.90,174.99 L501.25,175.49 L501.60,176.18 L501.95,176.95 L502.30,177.69 L502.65,178.32 L503.00,178.83 L503.35,179.20 L503.70,179.46 L504.05,179.65 L504.40,179.78 L504.75,179.88 L505.10,179.95 L505.45,180.02 L505.80,180.07 L506.15,180.11 L506.50,180.15 L506.85,180.18 L507.20,180.21 L507.55,180.23 L507.90,180.25 L508.25,180.26 L508.60,180.27 L508.95,180.28 L509.30,180.29 L509.65,180.29 L510.00,180.29 L510.35,180.30 L510.70,180.30 L511.05,180.30 L511.40,180.30 L511.75,180.30 L512.10,180.30 L512.45,180.30 L512.80,180.30 L513.15,180.30 L513.50,180.30 L513.85,180.30 L514.20,180.30 L514.55,180.30 L514.90,180.30 L515.25,180.30 L515.60,180.30 L515.95,180.30 L516.30,180.30 L516.65,180.30 L517.00,180.30 L517.35,180.30 L517.70,180.30 L518.05,180.30 L518.40,180.30 L518.75,180.30 L519.10,180.30 L519.45,180.30 L519.80,180.30 L520.15,180.30 L520.50,180.30 L520.85,180.30 L521.20,180.30 L521.55,180.30 L521.90,180.30 L522.25,180.30 L522.60,180.30 L522.95,180.30 L523.30,180.30 L523.65,180.30 L524.00,180.30 L524.35,180.30 L524.70,180.30 L525.05,180.30 L525.40,180.30 L525.75,180.30 L526.10,180.30 L526.45,180.30 L526.80,180.30 L527.15,180.30 L527.50,180.30 L527.85,180.30 L528.20,180.30 L528.55,180.30 L528.90,180.30 L529.25,180.30 L529.60,180.30 L529.95,180.30 L530.30,180.30 L530.65,180.30 L531.00,180.30 L531.35,180.30 L531.70,180.30 L532.05,180.30 L532.40,180.30 L532.75,180.30 L533.10,180.30 L533.45,180.30 L533.80,180.30 L534.15,180.30 L534.50,180.30 L534.85,180.30 L535.20,180.30 L535.55,180.30 L535.90,180.30 L536.25,180.30 L536.60,180.30 L536.95,180.30 L537.30,180.30 L537.65,180.30 L538.00,180.30 L538.35,180.30 L538.70,180.30 L539.05,180.30 L539.40,180.30 L539.75,180.30 L540.10,180.30 L540.45,180.30 L540.80,180.30 L541.15,180.30 L541.50,180.30 L541.85,180.30 L542.20,180.30 L542.55,180.30 L542.90,180.30 L543.25,180.30 L543.60,180.30 L543.95,180.30 L544.30,180.30 L544.65,180.30 L545.00,180.30 L545.35,180.30 L545.70,180.30 L546.05,180.30 L546.40,180.30 L546.75,180.30 L547.10,180.30 L547.45,180.30 L547.80,180.30 L548.15,180.30 L548.50,180.30 L548.85,180.30 L549.20,180.30 L549.55,180.30 L549.90,180.30 L550.25,180.30 L550.60,180.30 L550.95,180.30 L551.30,180.30 L551.65,180.30 L552.00,180.30 L552.35,180.30 L552.70,180.30 L553.05,180.30 L553.40,180.30 L553.75,180.30 L554.10,180.30 L554.45,180.30 L554.80,180.30 L555.15,180.30 L555.50,180.30 L555.85,180.30 L556.20,180.30 L556.55,180.30 L556.90,180.30 L557.25,180.30 L557.60,180.30 L557.95,180.30 L558.30,180.30 L558.65,180.30 L559.00,180.30 L559.35,180.30 L559.70,180.30 L560.05,180.30 L560.40,180.30 L560.75,180.30 L561.10,180.30 L561.45,180.30 L561.80,180.30 L562.15,180.30 L562.50,180.30 L562.85,180.30 L563.20,180.30 L563.55,180.30 L563.90,180.30 L564.25,180.30 L564.60,180.30 L564.95,180.30 L565.30,180.30 L565.65,180.30 L566.00,180.30 L566.35,180.30 L566.70,180.30 L567.05,180.30 L567.40,180.30 L567.75,180.30 L568.10,180.30 L568.45,180.30 L568.80,180.30 L569.15,180.30 L569.50,180.30 L569.85,180.30 L570.20,180.30 L570.55,180.30 L570.90,180.30 L571.25,180.30 L571.60,180.30 L571.95,180.30 L572.30,180.30 L572.65,180.30 L573.00,180.30 L573.35,180.30 L573.70,180.30 L574.05,180.30 L574.40,180.30 L574.75,180.30 L575.10,180.30 L575.45,180.30 L575.80,180.30 L576.15,180.30 L576.50,180.30 L576.85,180.30 L577.20,180.30 L577.55,180.30 L577.90,180.30 L578.25,180.30 L578.60,180.30 L578.95,180.30 L579.30,180.30 L579.65,180.30 L580.00,180.30 L580.35,180.30 L580.70,180.30 L581.05,180.30 L581.40,180.30 L581.75,180.30 L582.10,180.30 L582.45,180.30 L582.80,180.30 L583.15,180.30 L583.50,180.30 L583.85,180.30 L584.20,180.30 L584.55,180.30 L584.90,180.30 L585.25,180.30 L585.60,180.30 L585.95,180.30 L586.30,180.30 L586.65,180.30 L587.00,180.30 L587.35,180.30 L587.70,180.30 L588.05,180.30 L588.40,180.30 L588.75,180.30 L589.10,180.30 L589.45,180.30 L589.80,180.30 L590.15,180.30 L590.50,180.30 L590.85,180.30 L591.20,180.30 L591.55,180.30 L591.90,180.30 L592.25,180.30 L592.60,180.30 L592.95,180.30 L593.30,180.30 L593.65,180.30 L594.00,180.30 L594.35,180.30 L594.70,180.30 L595.05,180.30 L595.40,180.30 L595.75,180.30 L596.10,180.30 L596.45,180.30 L596.80,180.30 L597.15,180.30 L597.50,180.30 L597.85,180.30 L598.20,180.30 L598.55,180.30 L598.90,180.30 L599.25,180.30 L599.60,180.30 L599.95,180.30 L600.30,180.30 L600.65,180.30 L601.00,180.30 L601.35,180.30 L601.70,180.30 L602.05,180.30 L602.40,180.30 L602.75,180.30 L603.10,180.30 L603.45,180.30 L603.80,180.30 L604.15,180.30 L604.50,180.30 L604.85,180.30 L605.20,180.30 L605.55,180.30 L605.90,180.30 L606.25,180.30 L606.60,180.30 L606.95,180.30 L607.30,180.30 L607.65,180.30 L608.00,180.30 L608.35,180.30 L608.70,180.30 L609.05,180.30 L609.40,180.30 L609.75,180.30 L610.10,180.30 L610.45,180.30 L610.80,180.30 L611.15,180.30 L611.50,180.30 L611.85,180.30 L612.20,180.30 L612.55,180.30 L612.90,180.30 L613.25,180.30 L613.60,180.30 L613.95,180.30 L614.30,180.30 L614.65,180.30 L615.00,180.30 L615.35,180.30 L615.70,180.30 L616.05,180.30 L616.40,180.30 L616.75,180.30 L617.10,180.30 L617.45,180.30 L617.80,180.30 L618.15,180.30 L618.50,180.30 L618.85,180.30 L619.20,180.30 L619.55,180.30 L619.90,180.30" fill="none" stroke="#2a2a2a" stroke-width="1.0" stroke-linejoin="round"/>
<path d="M114.50,267.70 L114.85,267.70 L115.20,267.70 L115.55,267.70 L115.90,267.70 L116.25,267.70 L116.60,267.70 L116.95,267.70 L117.30,267.70 L117.65,267.70 L118.00,267.70 L118.35,267.70 L118.70,267.70 L119.05,267.70 L119.40,267.70 L119.75,267.70 L120.10,267.70 L120.45,267.70 L120.80,267.70 L121.15,267.70 L121.50,267.70 L121.85,267.70 L122.20,267.70 L122.55,267.70 L122.90,267.70 L123.25,267.70 L123.60,267.70 L123.95,267.70 L124.30,267.70 L124.65,267.70 L125.00,267.70 L125.35,267.70 L125.70,267.70 L126.05,267.70 L126.40,267.70 L126.75,267.70 L127.10,267.70 L127.45,267.70 L127.80,267.70 L128.15,267.70 L128.50,267.70 L128.85,267.70 L129.20,267.70 L129.55,267.70 L129.90,267.70 L130.25,267.70 L130.60,267.70 L130.95,267.70 L131.30,267.70 L131.65,267.70 L132.00,267.70 L132.35,267.70 L132.70,267.70 L133.05,267.70 L133.40,267.70 L133.75,267.70 L134.10,267.70 L134.45,267.70 L134.80,267.70 L135.15,267.70 L135.50,267.70 L135.85,267.70 L136.20,267.70 L136.55,267.70 L136.90,267.70 L137.25,267.70 L137.60,267.70 L137.95,267.70 L138.30,267.70 L138.65,267.70 L139.00,267.70 L139.35,267.70 L139.70,267.70 L140.05,267.70 L140.40,267.70 L140.75,267.70 L141.10,267.70 L141.45,267.70 L141.80,267.70 L142.15,267.70 L142.50,267.70 L142.85,267.70 L143.20,267.70 L143.55,267.70 L143.90,267.70 L144.25,267.70 L144.60,267.70 L144.95,267.70 L145.30,267.70 L145.65,267.70 L146.00,267.70 L146.35,267.70 L146.70,267.70 L147.05,267.70 L147.40,267.70 L147.75,267.70 L148.10,267.70 L148.45,267.70 L148.80,267.70 L149.15,267.70 L149.50,267.70 L149.85,267.70 L150.20,267.70 L150.55,267.70 L150.90,267.70 L151.25,267.70 L151.60,267.70 L151.95,267.70 L152.30,267.70 L152.65,267.70 L153.00,267.70 L153.35,267.70 L153.70,267.70 L154.05,267.70 L154.40,267.70 L154.75,267.70 L155.10,267.70 L155.45,267.70 L155.80,267.70 L156.15,267.70 L156.50,267.70 L156.85,267.70 L157.20,267.70 L157.55,267.70 L157.90,267.70 L158.25,267.70 L158.60,267.70 L158.95,267.70 L159.30,267.70 L159.65,267.70 L160.00,267.70 L160.35,267.70 L160.70,267.70 L161.05,267.70 L161.40,267.70 L161.75,267.70 L162.10,267.70 L162.45,267.70 L162.80,267.70 L163.15,267.70 L163.50,267.70 L163.85,267.70 L164.20,267.70 L164.55,267.70 L164.90,267.70 L165.25,267.70 L165.60,267.70 L165.95,267.70 L166.30,267.70 L166.65,267.69 L167.00,267.69 L167.35,267.68 L167.70,267.68 L168.05,267.67 L168.40,267.66 L168.75,267.64 L169.10,267.63 L169.45,267.61 L169.80,267.58 L170.15,267.55 L170.50,267.51 L170.85,267.45 L171.20,267.36 L171.55,267.23 L171.90,267.04 L172.25,266.77 L172.60,266.43 L172.95,266.07 L173.30,265.74 L173.65,265.53 L174.00,265.49 L174.35,265.59 L174.70,265.81 L175.05,266.09 L175.40,266.40 L175.75,266.69 L176.10,266.94 L176.45,267.13 L176.80,267.28 L177.15,267.38 L177.50,267.45 L177.85,267.50 L178.20,267.53 L178.55,267.56 L178.90,267.59 L179.25,267.61 L179.60,267.63 L179.95,267.64 L180.30,267.66 L180.65,267.67 L181.00,267.67 L181.35,267.68 L181.70,267.69 L182.05,267.69 L182.40,267.69 L182.75,267.69 L183.10,267.70 L183.45,267.70 L183.80,267.70 L184.15,267.70 L184.50,267.70 L184.85,267.70 L185.20,267.70 L185.55,267.70 L185.90,267.70 L186.25,267.70 L186.60,267.70 L186.95,267.70 L187.30,267.70 L187.65,267.70 L188.00,267.70 L188.35,267.70 L188.70,267.70 L189.05,267.70 L189.40,267.70 L189.75,267.70 L190.10,267.70 L190.45,267.70 L190.80,267.69 L191.15,267.69 L191.50,267.69 L191.85,267.69 L192.20,267.68 L192.55,267.68 L192.90,267.67 L193.25,267.66 L193.60,267.65 L193.95,267.63 L194.30,267.61 L194.65,267.57 L195.00,267.52 L195.35,267.44 L195.70,267.36 L196.05,267.28 L196.40,267.22 L196.75,267.19 L197.10,267.20 L197.45,267.24 L197.80,267.30 L198.15,267.37 L198.50,267.43 L198.85,267.49 L199.20,267.53 L199.55,267.56 L199.90,267.56 L200.25,267.55 L200.60,267.52 L200.95,267.46 L201.30,267.38 L201.65,267.26 L202.00,267.09 L202.35,266.87 L202.70,266.58 L203.05,266.20 L203.40,265.74 L203.75,265.17 L204.10,264.48 L204.45,263.63 L204.80,262.53 L205.15,261.00 L205.50,258.72 L205.85,255.24 L206.20,250.07 L206.55,242.89 L206.90,233.96 L207.25,224.29 L207.60,215.67 L207.95,210.09 L208.30,208.98 L208.65,211.70 L209.00,217.37 L209.35,224.92 L209.70,233.12 L210.05,240.87 L210.40,247.47 L210.75,252.64 L211.10,256.43 L211.45,259.11 L211.80,260.98 L212.15,262.31 L212.50,263.32 L212.85,264.11 L213.20,264.76 L213.55,265.31 L213.90,265.78 L214.25,266.18 L214.60,266.51 L214.95,266.78 L215.30,267.00 L215.65,267.17 L216.00,267.31 L216.35,267.41 L216.70,267.49 L217.05,267.55 L217.40,267.60 L217.75,267.63 L218.10,267.65 L218.45,267.67 L218.80,267.68 L219.15,267.69 L219.50,267.69 L219.85,267.69 L220.20,267.70 L220.55,267.70 L220.90,267.70 L221.25,267.70 L221.60,267.70 L221.95,267.70 L222.30,267.70 L222.65,267.70 L223.00,267.70 L223.35,267.70 L223.70,267.70 L224.05,267.70 L224.40,267.70 L224.75,267.70 L225.10,267.70 L225.45,267.70 L225.80,267.70 L226.15,267.70 L226.50,267.70 L226.85,267.70 L227.20,267.70 L227.55,267.70 L227.90,267.70 L228.25,267.69 L228.60,267.69 L228.95,267.68 L229.30,267.68 L229.65,267.66 L230.00,267.64 L230.35,267.62 L230.70,267.59 L231.05,267.54 L231.40,267.48 L231.75,267.41 L232.10,267.31 L232.45,267.20 L232.80,267.05 L233.15,266.88 L233.50,266.66 L233.85,266.37 L234.20,265.93 L234.55,265.27 L234.90,264.27 L235.25,262.85 L235.60,261.02 L235.95,258.95 L236.30,256.99 L236.65,255.56 L237.00,255.04 L237.35,255.42 L237.70,256.47 L238.05,258.01 L238.40,259.76 L238.75,261.47 L239.10,262.96 L239.45,264.16 L239.80,265.05 L240.15,265.68 L240.50,266.12 L240.85,266.42 L241.20,266.64 L241.55,266.80 L241.90,266.93 L242.25,267.03 L242.60,267.10 L242.95,267.14 L243.30,267.13 L243.65,267.08 L244.00,266.96 L244.35,266.78 L244.70,266.55 L245.05,266.33 L245.40,266.15 L245.75,266.08 L246.10,266.13 L246.45,266.26 L246.80,266.45 L247.15,266.67 L247.50,266.89 L247.85,267.08 L248.20,267.24 L248.55,267.36 L248.90,267.44 L249.25,267.50 L249.60,267.54 L249.95,267.57 L250.30,267.59 L250.65,267.61 L251.00,267.63 L251.35,267.64 L251.70,267.65 L252.05,267.66 L252.40,267.67 L252.75,267.68 L253.10,267.68 L253.45,267.69 L253.80,267.69 L254.15,267.69 L254.50,267.70 L254.85,267.70 L255.20,267.70 L255.55,267.70 L255.90,267.70 L256.25,267.70 L256.60,267.70 L256.95,267.70 L257.30,267.70 L257.65,267.70 L258.00,267.70 L258.35,267.70 L258.70,267.70 L259.05,267.70 L259.40,267.69 L259.75,267.69 L260.10,267.68 L260.45,267.67 L260.80,267.66 L261.15,267.63 L261.50,267.59 L261.85,267.54 L262.20,267.45 L262.55,267.34 L262.90,267.19 L263.25,266.98 L263.60,266.71 L263.95,266.35 L264.30,265.91 L264.65,265.37 L265.00,264.71 L265.35,263.90 L265.70,262.89 L266.05,261.55 L266.40,259.62 L266.75,256.70 L267.10,252.27 L267.45,245.83 L267.80,237.28 L268.15,227.21 L268.50,217.09 L268.85,209.01 L269.20,204.99 L269.55,205.74 L269.90,210.10 L270.25,217.17 L270.60,225.68 L270.95,234.33 L271.30,242.13 L271.65,248.49 L272.00,253.30 L272.35,256.72 L272.70,259.06 L273.05,260.64 L273.40,261.71 L273.75,262.44 L274.10,262.94 L274.45,263.25 L274.80,263.39 L275.15,263.31 L275.50,262.94 L275.85,262.12 L276.20,260.63 L276.55,258.27 L276.90,254.91 L277.25,250.72 L277.60,246.26 L277.95,242.40 L278.30,240.09 L278.65,239.91 L279.00,241.45 L279.35,244.31 L279.70,247.98 L280.05,251.86 L280.40,255.48 L280.75,258.51 L281.10,260.86 L281.45,262.57 L281.80,263.77 L282.15,264.61 L282.50,265.21 L282.85,265.65 L283.20,266.00 L283.55,266.28 L283.90,266.50 L284.25,266.68 L284.60,266.80 L284.95,266.88 L285.30,266.92 L285.65,266.90 L286.00,266.84 L286.35,266.74 L286.70,266.58 L287.05,266.34 L287.40,265.98 L287.75,265.43 L288.10,264.57 L288.45,263.29 L288.80,261.54 L289.15,259.38 L289.50,257.11 L289.85,255.14 L290.20,253.96 L290.55,253.85 L290.90,254.60 L291.25,256.03 L291.60,257.85 L291.95,259.79 L292.30,261.59 L292.65,263.10 L293.00,264.27 L293.35,265.12 L293.70,265.71 L294.05,266.12 L294.40,266.41 L294.75,266.62 L295.10,266.79 L295.45,266.92 L295.80,267.01 L296.15,267.08 L296.50,267.11 L296.85,267.09 L297.20,267.02 L297.55,266.87 L297.90,266.67 L298.25,266.44 L298.60,266.24 L298.95,266.10 L299.30,266.09 L299.65,266.17 L300.00,266.32 L300.35,266.53 L300.70,266.75 L301.05,266.95 L301.40,267.13 L301.75,267.26 L302.10,267.35 L302.45,267.40 L302.80,267.43 L303.15,267.45 L303.50,267.44 L303.85,267.43 L304.20,267.40 L304.55,267.34 L304.90,267.24 L305.25,267.09 L305.60,266.86 L305.95,266.56 L306.30,266.20 L306.65,265.86 L307.00,265.59 L307.35,265.48 L307.70,265.53 L308.05,265.70 L308.40,265.96 L308.75,266.26 L309.10,266.57 L309.45,266.84 L309.80,267.06 L310.15,267.22 L310.50,267.34 L310.85,267.42 L311.20,267.48 L311.55,267.52 L311.90,267.55 L312.25,267.58 L312.60,267.60 L312.95,267.62 L313.30,267.64 L313.65,267.65 L314.00,267.66 L314.35,267.67 L314.70,267.68 L315.05,267.68 L315.40,267.69 L315.75,267.69 L316.10,267.69 L316.45,267.69 L316.80,267.69 L317.15,267.69 L317.50,267.69 L317.85,267.69 L318.20,267.69 L318.55,267.68 L318.90,267.68 L319.25,267.67 L319.60,267.67 L319.95,267.66 L320.30,267.64 L320.65,267.63 L321.00,267.60 L321.35,267.57 L321.70,267.51 L322.05,267.43 L322.40,267.34 L322.75,267.23 L323.10,267.14 L323.45,267.08 L323.80,267.07 L324.15,267.10 L324.50,267.16 L324.85,267.24 L325.20,267.33 L325.55,267.41 L325.90,267.48 L326.25,267.53 L326.60,267.57 L326.95,267.60 L327.30,267.61 L327.65,267.62 L328.00,267.61 L328.35,267.60 L328.70,267.57 L329.05,267.53 L329.40,267.47 L329.75,267.38 L330.10,267.25 L330.45,267.08 L330.80,266.86 L331.15,266.58 L331.50,266.22 L331.85,265.78 L332.20,265.25 L332.55,264.59 L332.90,263.76 L333.25,262.63 L333.60,260.98 L333.95,258.46 L334.30,254.66 L334.65,249.27 L335.00,242.32 L335.35,234.47 L335.70,227.01 L336.05,221.58 L336.40,219.59 L336.75,221.03 L337.10,225.05 L337.45,230.88 L337.80,237.53 L338.15,244.04 L338.50,249.74 L338.85,254.31 L339.20,257.71 L339.55,260.13 L339.90,261.82 L340.25,263.02 L340.60,263.90 L340.95,264.59 L341.30,265.15 L341.65,265.62 L342.00,266.02 L342.35,266.36 L342.70,266.63 L343.05,266.86 L343.40,267.04 L343.75,267.17 L344.10,267.27 L344.45,267.33 L344.80,267.37 L345.15,267.38 L345.50,267.36 L345.85,267.32 L346.20,267.26 L346.55,267.16 L346.90,267.01 L347.25,266.76 L347.60,266.39 L347.95,265.85 L348.30,265.16 L348.65,264.37 L349.00,263.63 L349.35,263.09 L349.70,262.89 L350.05,263.03 L350.40,263.43 L350.75,264.02 L351.10,264.68 L351.45,265.33 L351.80,265.90 L352.15,266.36 L352.50,266.70 L352.85,266.94 L353.20,267.11 L353.55,267.23 L353.90,267.32 L354.25,267.39 L354.60,267.45 L354.95,267.49 L355.30,267.53 L355.65,267.57 L356.00,267.60 L356.35,267.62 L356.70,267.64 L357.05,267.65 L357.40,267.66 L357.75,267.67 L358.10,267.68 L358.45,267.68 L358.80,267.69 L359.15,267.69 L359.50,267.68 L359.85,267.68 L360.20,267.67 L360.55,267.66 L360.90,267.64 L361.25,267.62 L361.60,267.59 L361.95,267.55 L362.30,267.50 L362.65,267.44 L363.00,267.37 L363.35,267.28 L363.70,267.17 L364.05,267.02 L364.40,266.81 L364.75,266.48 L365.10,265.99 L365.45,265.28 L365.80,264.33 L366.15,263.22 L366.50,262.10 L366.85,261.21 L367.20,260.76 L367.55,260.84 L367.90,261.33 L368.25,262.11 L368.60,263.05 L368.95,264.01 L369.30,264.88 L369.65,265.59 L370.00,266.13 L370.35,266.52 L370.70,266.79 L371.05,266.98 L371.40,267.12 L371.75,267.22 L372.10,267.31 L372.45,267.38 L372.80,267.44 L373.15,267.49 L373.50,267.54 L373.85,267.57 L374.20,267.60 L374.55,267.63 L374.90,267.64 L375.25,267.66 L375.60,267.67 L375.95,267.68 L376.30,267.68 L376.65,267.69 L377.00,267.69 L377.35,267.70 L377.70,267.70 L378.05,267.70 L378.40,267.70 L378.75,267.70 L379.10,267.70 L379.45,267.70 L379.80,267.70 L380.15,267.70 L380.50,267.70 L380.85,267.70 L381.20,267.70 L381.55,267.70 L381.90,267.70 L382.25,267.70 L382.60,267.70 L382.95,267.69 L383.30,267.69 L383.65,267.69 L384.00,267.68 L384.35,267.68 L384.70,267.67 L385.05,267.66 L385.40,267.64 L385.75,267.62 L386.10,267.60 L386.45,267.57 L386.80,267.54 L387.15,267.50 L387.50,267.44 L387.85,267.35 L388.20,267.21 L388.55,267.00 L388.90,266.72 L389.25,266.38 L389.60,266.02 L389.95,265.70 L390.30,265.51 L390.65,265.50 L391.00,265.62 L391.35,265.84 L391.70,266.13 L392.05,266.44 L392.40,266.73 L392.75,266.97 L393.10,267.16 L393.45,267.29 L393.80,267.39 L394.15,267.46 L394.50,267.50 L394.85,267.54 L395.20,267.57 L395.55,267.59 L395.90,267.61 L396.25,267.63 L396.60,267.64 L396.95,267.66 L397.30,267.67 L397.65,267.67 L398.00,267.68 L398.35,267.69 L398.70,267.69 L399.05,267.69 L399.40,267.69 L399.75,267.70 L400.10,267.70 L400.45,267.70 L400.80,267.70 L401.15,267.70 L401.50,267.70 L401.85,267.70 L402.20,267.70 L402.55,267.70 L402.90,267.70 L403.25,267.70 L403.60,267.70 L403.95,267.70 L404.30,267.70 L404.65,267.70 L405.00,267.69 L405.35,267.69 L405.70,267.69 L406.05,267.68 L406.40,267.68 L406.75,267.67 L407.10,267.66 L407.45,267.65 L407.80,267.64 L408.15,267.62 L408.50,267.59 L408.85,267.55 L409.20,267.48 L409.55,267.39 L409.90,267.27 L410.25,267.13 L410.60,266.99 L410.95,266.87 L411.30,266.77 L411.65,266.68 L412.00,266.59 L412.35,266.48 L412.70,266.34 L413.05,266.14 L413.40,265.86 L413.75,265.49 L414.10,264.96 L414.45,264.19 L414.80,263.00 L415.15,261.17 L415.50,258.48 L415.85,254.85 L416.20,250.48 L416.55,245.98 L416.90,242.24 L417.25,240.17 L417.60,240.24 L417.95,241.96 L418.30,244.94 L418.65,248.64 L419.00,252.49 L419.35,256.01 L419.70,258.94 L420.05,261.18 L420.40,262.80 L420.75,263.94 L421.10,264.73 L421.45,265.31 L421.80,265.75 L422.15,266.10 L422.50,266.40 L422.85,266.64 L423.20,266.85 L423.55,267.03 L423.90,267.18 L424.25,267.30 L424.60,267.39 L424.95,267.47 L425.30,267.53 L425.65,267.57 L426.00,267.60 L426.35,267.62 L426.70,267.64 L427.05,267.64 L427.40,267.64 L427.75,267.63 L428.10,267.61 L428.45,267.58 L428.80,267.54 L429.15,267.49 L429.50,267.43 L429.85,267.36 L430.20,267.26 L430.55,267.15 L430.90,266.99 L431.25,266.77 L431.60,266.42 L431.95,265.90 L432.30,265.16 L432.65,264.18 L433.00,263.05 L433.35,261.95 L433.70,261.11 L434.05,260.74 L434.40,260.89 L434.75,261.42 L435.10,262.24 L435.45,263.19 L435.80,264.15 L436.15,264.99 L436.50,265.68 L436.85,266.19 L437.20,266.56 L437.55,266.82 L437.90,267.00 L438.25,267.13 L438.60,267.24 L438.95,267.32 L439.30,267.39 L439.65,267.45 L440.00,267.50 L440.35,267.54 L440.70,267.58 L441.05,267.61 L441.40,267.63 L441.75,267.65 L442.10,267.66 L442.45,267.67 L442.80,267.68 L443.15,267.69 L443.50,267.69 L443.85,267.69 L444.20,267.70 L444.55,267.70 L444.90,267.70 L445.25,267.70 L445.60,267.70 L445.95,267.70 L446.30,267.70 L446.65,267.70 L447.00,267.70 L447.35,267.70 L447.70,267.70 L448.05,267.70 L448.40,267.70 L448.75,267.70 L449.10,267.70 L449.45,267.70 L449.80,267.70 L450.15,267.70 L450.50,267.70 L450.85,267.70 L451.20,267.70 L451.55,267.70 L451.90,267.70 L452.25,267.70 L452.60,267.70 L452.95,267.70 L453.30,267.70 L453.65,267.70 L454.00,267.70 L454.35,267.70 L454.70,267.70 L455.05,267.70 L455.40,267.70 L455.75,267.70 L456.10,267.70 L456.45,267.70 L456.80,267.70 L457.15,267.70 L457.50,267.70 L457.85,267.70 L458.20,267.70 L458.55,267.70 L458.90,267.70 L459.25,267.70 L459.60,267.70 L459.95,267.70 L460.30,267.70 L460.65,267.70 L461.00,267.69 L461.35,267.69 L461.70,267.69 L462.05,267.69 L462.40,267.68 L462.75,267.68 L463.10,267.67 L463.45,267.66 L463.80,267.65 L464.15,267.64 L464.50,267.62 L464.85,267.59 L465.20,267.54 L465.55,267.48 L465.90,267.39 L466.25,267.29 L466.60,267.19 L466.95,267.11 L467.30,267.07 L467.65,267.08 L468.00,267.12 L468.35,267.19 L468.70,267.28 L469.05,267.36 L469.40,267.44 L469.75,267.51 L470.10,267.56 L470.45,267.59 L470.80,267.62 L471.15,267.63 L471.50,267.65 L471.85,267.66 L472.20,267.66 L472.55,267.67 L472.90,267.68 L473.25,267.68 L473.60,267.69 L473.95,267.69 L474.30,267.69 L474.65,267.69 L475.00,267.69 L475.35,267.70 L475.70,267.70 L476.05,267.70 L476.40,267.70 L476.75,267.70 L477.10,267.70 L477.45,267.70 L477.80,267.70 L478.15,267.70 L478.50,267.70 L478.85,267.70 L479.20,267.70 L479.55,267.70 L479.90,267.70 L480.25,267.70 L480.60,267.69 L480.95,267.69 L481.30,267.69 L481.65,267.68 L482.00,267.67 L482.35,267.66 L482.70,267.64 L483.05,267.62 L483.40,267.59 L483.75,267.56 L484.10,267.51 L484.45,267.46 L484.80,267.39 L485.15,267.31 L485.50,267.20 L485.85,267.05 L486.20,266.83 L486.55,266.49 L486.90,265.99 L487.25,265.30 L487.60,264.43 L487.95,263.50 L488.30,262.66 L488.65,262.12 L489.00,262.02 L489.35,262.28 L489.70,262.83 L490.05,263.56 L490.40,264.35 L490.75,265.10 L491.10,265.73 L491.45,266.22 L491.80,266.58 L492.15,266.83 L492.50,266.99 L492.85,267.10 L493.20,267.17 L493.55,267.21 L493.90,267.23 L494.25,267.23 L494.60,267.20 L494.95,267.16 L495.30,267.08 L495.65,266.96 L496.00,266.76 L496.35,266.44 L496.70,265.96 L497.05,265.27 L497.40,264.41 L497.75,263.49 L498.10,262.65 L498.45,262.12 L498.80,262.01 L499.15,262.28 L499.50,262.83 L499.85,263.56 L500.20,264.35 L500.55,265.10 L500.90,265.74 L501.25,266.24 L501.60,266.61 L501.95,266.87 L502.30,267.05 L502.65,267.18 L503.00,267.28 L503.35,267.35 L503.70,267.42 L504.05,267.47 L504.40,267.51 L504.75,267.55 L505.10,267.58 L505.45,267.61 L505.80,267.63 L506.15,267.65 L506.50,267.66 L506.85,267.67 L507.20,267.68 L507.55,267.69 L507.90,267.69 L508.25,267.69 L508.60,267.70 L508.95,267.70 L509.30,267.70 L509.65,267.70 L510.00,267.70 L510.35,267.70 L510.70,267.70 L511.05,267.70 L511.40,267.70 L511.75,267.70 L512.10,267.70 L512.45,267.70 L512.80,267.70 L513.15,267.70 L513.50,267.70 L513.85,267.70 L514.20,267.70 L514.55,267.70 L514.90,267.70 L515.25,267.70 L515.60,267.70 L515.95,267.70 L516.30,267.70 L516.65,267.70 L517.00,267.70 L517.35,267.70 L517.70,267.70 L518.05,267.70 L518.40,267.70 L518.75,267.70 L519.10,267.70 L519.45,267.70 L519.80,267.70 L520.15,267.70 L520.50,267.70 L520.85,267.70 L521.20,267.70 L521.55,267.70 L521.90,267.70 L522.25,267.70 L522.60,267.70 L522.95,267.70 L523.30,267.70 L523.65,267.70 L524.00,267.70 L524.35,267.70 L524.70,267.70 L525.05,267.70 L525.40,267.70 L525.75,267.70 L526.10,267.70 L526.45,267.70 L526.80,267.70 L527.15,267.70 L527.50,267.70 L527.85,267.70 L528.20,267.70 L528.55,267.70 L528.90,267.70 L529.25,267.70 L529.60,267.70 L529.95,267.70 L530.30,267.70 L530.65,267.70 L531.00,267.70 L531.35,267.70 L531.70,267.70 L532.05,267.70 L532.40,267.70 L532.75,267.70 L533.10,267.70 L533.45,267.70 L533.80,267.70 L534.15,267.70 L534.50,267.70 L534.85,267.70 L535.20,267.70 L535.55,267.70 L535.90,267.70 L536.25,267.70 L536.60,267.70 L536.95,267.70 L537.30,267.70 L537.65,267.70 L538.00,267.70 L538.35,267.70 L538.70,267.70 L539.05,267.70 L539.40,267.70 L539.75,267.70 L540.10,267.70 L540.45,267.70 L540.80,267.70 L541.15,267.70 L541.50,267.70 L541.85,267.70 L542.20,267.70 L542.55,267.70 L542.90,267.70 L543.25,267.70 L543.60,267.70 L543.95,267.70 L544.30,267.70 L544.65,267.70 L545.00,267.70 L545.35,267.70 L545.70,267.70 L546.05,267.70 L546.40,267.70 L546.75,267.70 L547.10,267.70 L547.45,267.70 L547.80,267.70 L548.15,267.70 L548.50,267.70 L548.85,267.70 L549.20,267.70 L549.55,267.70 L549.90,267.70 L550.25,267.70 L550.60,267.70 L550.95,267.70 L551.30,267.70 L551.65,267.70 L552.00,267.70 L552.35,267.70 L552.70,267.70 L553.05,267.70 L553.40,267.70 L553.75,267.70 L554.10,267.70 L554.45,267.70 L554.80,267.70 L555.15,267.70 L555.50,267.70 L555.85,267.70 L556.20,267.70 L556.55,267.70 L556.90,267.70 L557.25,267.70 L557.60,267.70 L557.95,267.70 L558.30,267.70 L558.65,267.70 L559.00,267.70 L559.35,267.70 L559.70,267.70 L560.05,267.70 L560.40,267.70 L560.75,267.70 L561.10,267.70 L561.45,267.70 L561.80,267.70 L562.15,267.70 L562.50,267.70 L562.85,267.70 L563.20,267.70 L563.55,267.70 L563.90,267.70 L564.25,267.70 L564.60,267.70 L564.95,267.70 L565.30,267.70 L565.65,267.70 L566.00,267.70 L566.35,267.70 L566.70,267.70 L567.05,267.70 L567.40,267.70 L567.75,267.70 L568.10,267.70 L568.45,267.70 L568.80,267.70 L569.15,267.70 L569.50,267.70 L569.85,267.70 L570.20,267.70 L570.55,267.70 L570.90,267.70 L571.25,267.70 L571.60,267.70 L571.95,267.70 L572.30,267.70 L572.65,267.70 L573.00,267.70 L573.35,267.70 L573.70,267.70 L574.05,267.70 L574.40,267.70 L574.75,267.70 L575.10,267.70 L575.45,267.70 L575.80,267.70 L576.15,267.70 L576.50,267.70 L576.85,267.70 L577.20,267.70 L577.55,267.70 L577.90,267.70 L578.25,267.70 L578.60,267.70 L578.95,267.70 L579.30,267.70 L579.65,267.70 L580.00,267.70 L580.35,267.70 L580.70,267.70 L581.05,267.70 L581.40,267.70 L581.75,267.70 L582.10,267.70 L582.45,267.70 L582.80,267.70 L583.15,267.70 L583.50,267.70 L583.85,267.70 L584.20,267.70 L584.55,267.70 L584.90,267.70 L585.25,267.70 L585.60,267.70 L585.95,267.70 L586.30,267.70 L586.65,267.70 L587.00,267.70 L587.35,267.70 L587.70,267.70 L588.05,267.70 L588.40,267.70 L588.75,267.70 L589.10,267.70 L589.45,267.70 L589.80,267.70 L590.15,267.70 L590.50,267.70 L590.85,267.70 L591.20,267.70 L591.55,267.70 L591.90,267.70 L592.25,267.70 L592.60,267.70 L592.95,267.70 L593.30,267.70 L593.65,267.70 L594.00,267.70 L594.35,267.70 L594.70,267.70 L595.05,267.70 L595.40,267.70 L595.75,267.70 L596.10,267.70 L596.45,267.70 L596.80,267.70 L597.15,267.70 L597.50,267.70 L597.85,267.70 L598.20,267.70 L598.55,267.70 L598.90,267.70 L599.25,267.70 L599.60,267.70 L599.95,267.70 L600.30,267.70 L600.65,267.70 L601.00,267.70 L601.35,267.70 L601.70,267.70 L602.05,267.70 L602.40,267.70 L602.75,267.70 L603.10,267.70 L603.45,267.70 L603.80,267.70 L604.15,267.70 L604.50,267.70 L604.85,267.70 L605.20,267.70 L605.55,267.70 L605.90,267.70 L606.25,267.70 L606.60,267.70 L606.95,267.70 L607.30,267.70 L607.65,267.70 L608.00,267.70 L608.35,267.70 L608.70,267.70 L609.05,267.70 L609.40,267.70 L609.75,267.70 L610.10,267.70 L610.45,267.70 L610.80,267.70 L611.15,267.70 L611.50,267.70 L611.85,267.70 L612.20,267.70 L612.55,267.70 L612.90,267.70 L613.25,267.70 L613.60,267.70 L613.95,267.70 L614.30,267.70 L614.65,267.70 L615.00,267.70 L615.35,267.70 L615.70,267.70 L616.05,267.70 L616.40,267.70 L616.75,267.70 L617.10,267.70 L617.45,267.70 L617.80,267.70 L618.15,267.70 L618.50,267.70 L618.85,267.70 L619.20,267.70 L619.55,267.70 L619.90,267.70" fill="none" stroke="#ff2a2a" stroke-width="1.0" stroke-linejoin="round"/>
<path d="M114.50,350.40 L114.85,350.40 L115.20,350.40 L115.55,350.40 L115.90,350.40 L116.25,350.40 L116.60,350.40 L116.95,350.40 L117.30,350.40 L117.65,350.40 L118.00,350.40 L118.35,350.40 L118.70,350.40 L119.05,350.40 L119.40,350.40 L119.75,350.40 L120.10,350.40 L120.45,350.40 L120.80,350.40 L121.15,350.40 L121.50,350.40 L121.85,350.40 L122.20,350.40 L122.55,350.40 L122.90,350.40 L123.25,350.40 L123.60,350.40 L123.95,350.40 L124.30,350.40 L124.65,350.40 L125.00,350.40 L125.35,350.40 L125.70,350.40 L126.05,350.40 L126.40,350.40 L126.75,350.40 L127.10,350.40 L127.45,350.40 L127.80,350.40 L128.15,350.40 L128.50,350.40 L128.85,350.40 L129.20,350.40 L129.55,350.40 L129.90,350.40 L130.25,350.40 L130.60,350.40 L130.95,350.40 L131.30,350.40 L131.65,350.40 L132.00,350.40 L132.35,350.40 L132.70,350.40 L133.05,350.40 L133.40,350.40 L133.75,350.40 L134.10,350.40 L134.45,350.40 L134.80,350.40 L135.15,350.40 L135.50,350.40 L135.85,350.40 L136.20,350.40 L136.55,350.40 L136.90,350.40 L137.25,350.40 L137.60,350.40 L137.95,350.40 L138.30,350.40 L138.65,350.40 L139.00,350.40 L139.35,350.40 L139.70,350.40 L140.05,350.40 L140.40,350.40 L140.75,350.40 L141.10,350.40 L141.45,350.40 L141.80,350.40 L142.15,350.40 L142.50,350.40 L142.85,350.40 L143.20,350.40 L143.55,350.40 L143.90,350.40 L144.25,350.40 L144.60,350.40 L144.95,350.40 L145.30,350.40 L145.65,350.40 L146.00,350.40 L146.35,350.40 L146.70,350.40 L147.05,350.40 L147.40,350.40 L147.75,350.40 L148.10,350.40 L148.45,350.40 L148.80,350.40 L149.15,350.40 L149.50,350.40 L149.85,350.40 L150.20,350.40 L150.55,350.40 L150.90,350.40 L151.25,350.40 L151.60,350.40 L151.95,350.40 L152.30,350.40 L152.65,350.40 L153.00,350.40 L153.35,350.40 L153.70,350.40 L154.05,350.40 L154.40,350.40 L154.75,350.40 L155.10,350.40 L155.45,350.40 L155.80,350.40 L156.15,350.40 L156.50,350.40 L156.85,350.40 L157.20,350.40 L157.55,350.40 L157.90,350.40 L158.25,350.40 L158.60,350.40 L158.95,350.40 L159.30,350.40 L159.65,350.40 L160.00,350.40 L160.35,350.40 L160.70,350.40 L161.05,350.40 L161.40,350.40 L161.75,350.40 L162.10,350.40 L162.45,350.40 L162.80,350.40 L163.15,350.40 L163.50,350.40 L163.85,350.40 L164.20,350.40 L164.55,350.40 L164.90,350.40 L165.25,350.40 L165.60,350.40 L165.95,350.40 L166.30,350.40 L166.65,350.40 L167.00,350.40 L167.35,350.40 L167.70,350.40 L168.05,350.40 L168.40,350.40 L168.75,350.40 L169.10,350.40 L169.45,350.40 L169.80,350.40 L170.15,350.40 L170.50,350.40 L170.85,350.40 L171.20,350.40 L171.55,350.40 L171.90,350.40 L172.25,350.40 L172.60,350.40 L172.95,350.40 L173.30,350.40 L173.65,350.40 L174.00,350.40 L174.35,350.40 L174.70,350.40 L175.05,350.40 L175.40,350.40 L175.75,350.40 L176.10,350.40 L176.45,350.40 L176.80,350.40 L177.15,350.40 L177.50,350.40 L177.85,350.40 L178.20,350.40 L178.55,350.40 L178.90,350.40 L179.25,350.40 L179.60,350.40 L179.95,350.40 L180.30,350.40 L180.65,350.40 L181.00,350.40 L181.35,350.40 L181.70,350.40 L182.05,350.40 L182.40,350.40 L182.75,350.40 L183.10,350.40 L183.45,350.40 L183.80,350.40 L184.15,350.40 L184.50,350.40 L184.85,350.40 L185.20,350.40 L185.55,350.40 L185.90,350.40 L186.25,350.40 L186.60,350.40 L186.95,350.40 L187.30,350.40 L187.65,350.40 L188.00,350.40 L188.35,350.40 L188.70,350.40 L189.05,350.40 L189.40,350.40 L189.75,350.40 L190.10,350.40 L190.45,350.40 L190.80,350.40 L191.15,350.40 L191.50,350.40 L191.85,350.40 L192.20,350.40 L192.55,350.40 L192.90,350.40 L193.25,350.40 L193.60,350.40 L193.95,350.40 L194.30,350.40 L194.65,350.40 L195.00,350.40 L195.35,350.40 L195.70,350.40 L196.05,350.40 L196.40,350.40 L196.75,350.40 L197.10,350.40 L197.45,350.40 L197.80,350.40 L198.15,350.40 L198.50,350.40 L198.85,350.40 L199.20,350.40 L199.55,350.40 L199.90,350.40 L200.25,350.40 L200.60,350.40 L200.95,350.40 L201.30,350.40 L201.65,350.40 L202.00,350.40 L202.35,350.40 L202.70,350.40 L203.05,350.40 L203.40,350.40 L203.75,350.40 L204.10,350.40 L204.45,350.40 L204.80,350.40 L205.15,350.40 L205.50,350.40 L205.85,350.40 L206.20,350.40 L206.55,350.40 L206.90,350.40 L207.25,350.40 L207.60,350.39 L207.95,350.39 L208.30,350.39 L208.65,350.38 L209.00,350.37 L209.35,350.36 L209.70,350.35 L210.05,350.34 L210.40,350.32 L210.75,350.30 L211.10,350.27 L211.45,350.23 L211.80,350.17 L212.15,350.09 L212.50,349.96 L212.85,349.77 L213.20,349.55 L213.55,349.31 L213.90,349.09 L214.25,348.95 L214.60,348.92 L214.95,348.99 L215.30,349.13 L215.65,349.32 L216.00,349.53 L216.35,349.72 L216.70,349.89 L217.05,350.02 L217.40,350.12 L217.75,350.18 L218.10,350.23 L218.45,350.26 L218.80,350.29 L219.15,350.31 L219.50,350.33 L219.85,350.34 L220.20,350.35 L220.55,350.36 L220.90,350.37 L221.25,350.38 L221.60,350.38 L221.95,350.39 L222.30,350.39 L222.65,350.39 L223.00,350.39 L223.35,350.40 L223.70,350.40 L224.05,350.40 L224.40,350.40 L224.75,350.40 L225.10,350.40 L225.45,350.40 L225.80,350.40 L226.15,350.40 L226.50,350.40 L226.85,350.40 L227.20,350.40 L227.55,350.40 L227.90,350.40 L228.25,350.40 L228.60,350.40 L228.95,350.40 L229.30,350.40 L229.65,350.40 L230.00,350.40 L230.35,350.40 L230.70,350.40 L231.05,350.40 L231.40,350.40 L231.75,350.40 L232.10,350.40 L232.45,350.40 L232.80,350.40 L233.15,350.39 L233.50,350.39 L233.85,350.39 L234.20,350.38 L234.55,350.36 L234.90,350.34 L235.25,350.30 L235.60,350.26 L235.95,350.18 L236.30,350.08 L236.65,349.95 L237.00,349.76 L237.35,349.52 L237.70,349.20 L238.05,348.80 L238.40,348.31 L238.75,347.71 L239.10,346.98 L239.45,346.08 L239.80,344.88 L240.15,343.19 L240.50,340.63 L240.85,336.74 L241.20,331.04 L241.55,323.36 L241.90,314.13 L242.25,304.61 L242.60,296.71 L242.95,292.34 L243.30,292.47 L243.65,296.09 L244.00,302.38 L244.35,310.20 L244.70,318.31 L245.05,325.74 L245.40,331.91 L245.75,336.64 L246.10,340.06 L246.45,342.46 L246.80,344.14 L247.15,345.36 L247.50,346.28 L247.85,347.03 L248.20,347.65 L248.55,348.17 L248.90,348.61 L249.25,348.99 L249.60,349.30 L249.95,349.55 L250.30,349.75 L250.65,349.91 L251.00,350.04 L251.35,350.13 L251.70,350.20 L252.05,350.26 L252.40,350.29 L252.75,350.31 L253.10,350.33 L253.45,350.33 L253.80,350.33 L254.15,350.32 L254.50,350.31 L254.85,350.29 L255.20,350.26 L255.55,350.21 L255.90,350.15 L256.25,350.05 L256.60,349.91 L256.95,349.71 L257.30,349.48 L257.65,349.24 L258.00,349.04 L258.35,348.93 L258.70,348.93 L259.05,349.02 L259.40,349.18 L259.75,349.38 L260.10,349.59 L260.45,349.77 L260.80,349.93 L261.15,350.05 L261.50,350.13 L261.85,350.19 L262.20,350.23 L262.55,350.26 L262.90,350.28 L263.25,350.29 L263.60,350.29 L263.95,350.28 L264.30,350.27 L264.65,350.24 L265.00,350.21 L265.35,350.15 L265.70,350.09 L266.05,350.00 L266.40,349.89 L266.75,349.76 L267.10,349.59 L267.45,349.37 L267.80,349.05 L268.15,348.56 L268.50,347.82 L268.85,346.75 L269.20,345.32 L269.55,343.63 L269.90,341.94 L270.25,340.59 L270.60,339.92 L270.95,340.05 L271.30,340.78 L271.65,341.96 L272.00,343.39 L272.35,344.84 L272.70,346.14 L273.05,347.21 L273.40,348.03 L273.75,348.61 L274.10,349.02 L274.45,349.31 L274.80,349.52 L275.15,349.68 L275.50,349.81 L275.85,349.92 L276.20,350.01 L276.55,350.09 L276.90,350.15 L277.25,350.21 L277.60,350.25 L277.95,350.29 L278.30,350.32 L278.65,350.34 L279.00,350.36 L279.35,350.37 L279.70,350.38 L280.05,350.38 L280.40,350.39 L280.75,350.39 L281.10,350.40 L281.45,350.40 L281.80,350.40 L282.15,350.40 L282.50,350.40 L282.85,350.40 L283.20,350.40 L283.55,350.40 L283.90,350.40 L284.25,350.40 L284.60,350.40 L284.95,350.40 L285.30,350.40 L285.65,350.40 L286.00,350.40 L286.35,350.40 L286.70,350.40 L287.05,350.40 L287.40,350.40 L287.75,350.40 L288.10,350.40 L288.45,350.40 L288.80,350.40 L289.15,350.39 L289.50,350.39 L289.85,350.38 L290.20,350.37 L290.55,350.35 L290.90,350.32 L291.25,350.28 L291.60,350.22 L291.95,350.14 L292.30,350.02 L292.65,349.85 L293.00,349.64 L293.35,349.36 L293.70,349.01 L294.05,348.56 L294.40,348.02 L294.75,347.36 L295.10,346.55 L295.45,345.52 L295.80,344.09 L296.15,341.99 L296.50,338.79 L296.85,333.98 L297.20,327.24 L297.55,318.70 L297.90,309.25 L298.25,300.53 L298.60,294.54 L298.95,292.80 L299.30,294.99 L299.65,300.16 L300.00,307.34 L300.35,315.31 L300.70,322.97 L301.05,329.56 L301.40,334.74 L301.75,338.53 L302.10,341.15 L302.45,342.90 L302.80,344.05 L303.15,344.81 L303.50,345.29 L303.85,345.55 L304.20,345.58 L304.55,345.31 L304.90,344.60 L305.25,343.23 L305.60,341.01 L305.95,337.88 L306.30,334.02 L306.65,330.00 L307.00,326.66 L307.35,324.83 L307.70,324.93 L308.05,326.55 L308.40,329.32 L308.75,332.74 L309.10,336.28 L309.45,339.52 L309.80,342.19 L310.15,344.23 L310.50,345.68 L310.85,346.66 L311.20,347.29 L311.55,347.67 L311.90,347.86 L312.25,347.90 L312.60,347.86 L312.95,347.79 L313.30,347.76 L313.65,347.82 L314.00,347.96 L314.35,348.14 L314.70,348.35 L315.05,348.55 L315.40,348.69 L315.75,348.75 L316.10,348.69 L316.45,348.49 L316.80,348.06 L317.15,347.32 L317.50,346.18 L317.85,344.62 L318.20,342.73 L318.55,340.77 L318.90,339.15 L319.25,338.25 L319.60,338.29 L319.95,339.06 L320.30,340.37 L320.65,342.00 L321.00,343.69 L321.35,345.24 L321.70,346.52 L322.05,347.50 L322.40,348.20 L322.75,348.69 L323.10,349.02 L323.45,349.26 L323.80,349.43 L324.15,349.55 L324.50,349.63 L324.85,349.66 L325.20,349.64 L325.55,349.56 L325.90,349.42 L326.25,349.26 L326.60,349.11 L326.95,349.02 L327.30,349.02 L327.65,349.10 L328.00,349.24 L328.35,349.41 L328.70,349.60 L329.05,349.77 L329.40,349.92 L329.75,350.03 L330.10,350.10 L330.45,350.15 L330.80,350.18 L331.15,350.19 L331.50,350.18 L331.85,350.17 L332.20,350.14 L332.55,350.09 L332.90,350.00 L333.25,349.86 L333.60,349.66 L333.95,349.40 L334.30,349.11 L334.65,348.85 L335.00,348.66 L335.35,348.61 L335.70,348.68 L336.05,348.84 L336.40,349.07 L336.75,349.32 L337.10,349.55 L337.45,349.76 L337.80,349.92 L338.15,350.04 L338.50,350.13 L338.85,350.19 L339.20,350.23 L339.55,350.26 L339.90,350.29 L340.25,350.31 L340.60,350.33 L340.95,350.34 L341.30,350.35 L341.65,350.36 L342.00,350.37 L342.35,350.38 L342.70,350.38 L343.05,350.39 L343.40,350.39 L343.75,350.39 L344.10,350.40 L344.45,350.40 L344.80,350.40 L345.15,350.40 L345.50,350.40 L345.85,350.40 L346.20,350.40 L346.55,350.40 L346.90,350.40 L347.25,350.40 L347.60,350.40 L347.95,350.40 L348.30,350.40 L348.65,350.40 L349.00,350.40 L349.35,350.40 L349.70,350.40 L350.05,350.40 L350.40,350.40 L350.75,350.39 L351.10,350.39 L351.45,350.39 L351.80,350.38 L352.15,350.36 L352.50,350.34 L352.85,350.31 L353.20,350.27 L353.55,350.20 L353.90,350.12 L354.25,350.00 L354.60,349.84 L354.95,349.63 L355.30,349.36 L355.65,349.04 L356.00,348.63 L356.35,348.14 L356.70,347.54 L357.05,346.77 L357.40,345.72 L357.75,344.16 L358.10,341.78 L358.45,338.21 L358.80,333.21 L359.15,326.87 L359.50,319.86 L359.85,313.39 L360.20,308.94 L360.55,307.66 L360.90,309.29 L361.25,313.14 L361.60,318.49 L361.95,324.43 L362.30,330.14 L362.65,335.08 L363.00,338.98 L363.35,341.87 L363.70,343.92 L364.05,345.35 L364.40,346.36 L364.75,347.12 L365.10,347.71 L365.45,348.20 L365.80,348.60 L366.15,348.95 L366.50,349.24 L366.85,349.47 L367.20,349.66 L367.55,349.81 L367.90,349.92 L368.25,349.99 L368.60,350.04 L368.95,350.05 L369.30,350.05 L369.65,350.01 L370.00,349.95 L370.35,349.85 L370.70,349.69 L371.05,349.44 L371.40,349.06 L371.75,348.52 L372.10,347.83 L372.45,347.03 L372.80,346.27 L373.15,345.68 L373.50,345.40 L373.85,345.42 L374.20,345.64 L374.55,345.95 L374.90,346.21 L375.25,346.28 L375.60,346.07 L375.95,345.58 L376.30,344.93 L376.65,344.33 L377.00,343.98 L377.35,344.05 L377.70,344.45 L378.05,345.13 L378.40,345.96 L378.75,346.83 L379.10,347.64 L379.45,348.32 L379.80,348.84 L380.15,349.23 L380.50,349.51 L380.85,349.70 L381.20,349.84 L381.55,349.95 L381.90,350.03 L382.25,350.10 L382.60,350.16 L382.95,350.21 L383.30,350.25 L383.65,350.28 L384.00,350.31 L384.35,350.33 L384.70,350.35 L385.05,350.36 L385.40,350.37 L385.75,350.38 L386.10,350.39 L386.45,350.39 L386.80,350.39 L387.15,350.40 L387.50,350.40 L387.85,350.40 L388.20,350.40 L388.55,350.40 L388.90,350.40 L389.25,350.40 L389.60,350.40 L389.95,350.40 L390.30,350.40 L390.65,350.40 L391.00,350.40 L391.35,350.40 L391.70,350.40 L392.05,350.40 L392.40,350.40 L392.75,350.40 L393.10,350.40 L393.45,350.40 L393.80,350.39 L394.15,350.39 L394.50,350.39 L394.85,350.38 L395.20,350.38 L395.55,350.37 L395.90,350.36 L396.25,350.34 L396.60,350.33 L396.95,350.31 L397.30,350.29 L397.65,350.25 L398.00,350.20 L398.35,350.12 L398.70,350.01 L399.05,349.85 L399.40,349.65 L399.75,349.44 L400.10,349.24 L400.45,349.12 L400.80,349.10 L401.15,349.16 L401.50,349.28 L401.85,349.45 L402.20,349.63 L402.55,349.80 L402.90,349.95 L403.25,350.07 L403.60,350.15 L403.95,350.21 L404.30,350.25 L404.65,350.28 L405.00,350.30 L405.35,350.32 L405.70,350.33 L406.05,350.35 L406.40,350.36 L406.75,350.37 L407.10,350.37 L407.45,350.38 L407.80,350.38 L408.15,350.39 L408.50,350.39 L408.85,350.39 L409.20,350.40 L409.55,350.40 L409.90,350.40 L410.25,350.40 L410.60,350.40 L410.95,350.40 L411.30,350.40 L411.65,350.40 L412.00,350.40 L412.35,350.40 L412.70,350.40 L413.05,350.40 L413.40,350.40 L413.75,350.40 L414.10,350.40 L414.45,350.39 L414.80,350.39 L415.15,350.38 L415.50,350.37 L415.85,350.36 L416.20,350.33 L416.55,350.30 L416.90,350.26 L417.25,350.20 L417.60,350.11 L417.95,350.01 L418.30,349.87 L418.65,349.70 L419.00,349.49 L419.35,349.23 L419.70,348.92 L420.05,348.52 L420.40,347.99 L420.75,347.22 L421.10,346.05 L421.45,344.27 L421.80,341.73 L422.15,338.39 L422.50,334.55 L422.85,330.79 L423.20,327.92 L423.55,326.66 L423.90,327.16 L424.25,328.98 L424.60,331.77 L424.95,335.02 L425.30,338.27 L425.65,341.16 L426.00,343.50 L426.35,345.26 L426.70,346.52 L427.05,347.40 L427.40,348.02 L427.75,348.47 L428.10,348.82 L428.45,349.11 L428.80,349.35 L429.15,349.55 L429.50,349.72 L429.85,349.87 L430.20,349.98 L430.55,350.08 L430.90,350.16 L431.25,350.22 L431.60,350.27 L431.95,350.30 L432.30,350.33 L432.65,350.34 L433.00,350.35 L433.35,350.36 L433.70,350.36 L434.05,350.35 L434.40,350.34 L434.75,350.32 L435.10,350.29 L435.45,350.26 L435.80,350.21 L436.15,350.16 L436.50,350.09 L436.85,350.01 L437.20,349.90 L437.55,349.76 L437.90,349.54 L438.25,349.21 L438.60,348.71 L438.95,348.02 L439.30,347.17 L439.65,346.24 L440.00,345.41 L440.35,344.88 L440.70,344.77 L441.05,345.03 L441.40,345.58 L441.75,346.30 L442.10,347.08 L442.45,347.83 L442.80,348.46 L443.15,348.96 L443.50,349.32 L443.85,349.58 L444.20,349.76 L444.55,349.88 L444.90,349.98 L445.25,350.06 L445.60,350.12 L445.95,350.17 L446.30,350.22 L446.65,350.25 L447.00,350.29 L447.35,350.31 L447.70,350.33 L448.05,350.35 L448.40,350.36 L448.75,350.37 L449.10,350.38 L449.45,350.39 L449.80,350.39 L450.15,350.39 L450.50,350.40 L450.85,350.40 L451.20,350.40 L451.55,350.40 L451.90,350.40 L452.25,350.40 L452.60,350.40 L452.95,350.40 L453.30,350.40 L453.65,350.40 L454.00,350.40 L454.35,350.40 L454.70,350.40 L455.05,350.40 L455.40,350.40 L455.75,350.40 L456.10,350.40 L456.45,350.40 L456.80,350.40 L457.15,350.40 L457.50,350.40 L457.85,350.40 L458.20,350.40 L458.55,350.40 L458.90,350.40 L459.25,350.40 L459.60,350.40 L459.95,350.40 L460.30,350.40 L460.65,350.40 L461.00,350.40 L461.35,350.40 L461.70,350.40 L462.05,350.40 L462.40,350.40 L462.75,350.40 L463.10,350.40 L463.45,350.40 L463.80,350.40 L464.15,350.40 L464.50,350.40 L464.85,350.40 L465.20,350.40 L465.55,350.40 L465.90,350.40 L466.25,350.40 L466.60,350.40 L466.95,350.40 L467.30,350.40 L467.65,350.40 L468.00,350.40 L468.35,350.40 L468.70,350.40 L469.05,350.40 L469.40,350.40 L469.75,350.40 L470.10,350.40 L470.45,350.40 L470.80,350.40 L471.15,350.40 L471.50,350.40 L471.85,350.40 L472.20,350.40 L472.55,350.40 L472.90,350.40 L473.25,350.40 L473.60,350.40 L473.95,350.40 L474.30,350.39 L474.65,350.39 L475.00,350.39 L475.35,350.38 L475.70,350.37 L476.05,350.36 L476.40,350.34 L476.75,350.32 L477.10,350.29 L477.45,350.26 L477.80,350.22 L478.15,350.17 L478.50,350.11 L478.85,350.03 L479.20,349.92 L479.55,349.76 L479.90,349.51 L480.25,349.15 L480.60,348.63 L480.95,347.98 L481.30,347.26 L481.65,346.60 L482.00,346.14 L482.35,346.01 L482.70,346.17 L483.05,346.57 L483.40,347.11 L483.75,347.72 L484.10,348.31 L484.45,348.81 L484.80,349.20 L485.15,349.49 L485.50,349.68 L485.85,349.81 L486.20,349.89 L486.55,349.93 L486.90,349.96 L487.25,349.96 L487.60,349.94 L487.95,349.90 L488.30,349.84 L488.65,349.72 L489.00,349.52 L489.35,349.21 L489.70,348.75 L490.05,348.15 L490.40,347.44 L490.75,346.76 L491.10,346.23 L491.45,346.00 L491.80,346.10 L492.15,346.43 L492.50,346.95 L492.85,347.55 L493.20,348.16 L493.55,348.69 L493.90,349.12 L494.25,349.45 L494.60,349.68 L494.95,349.84 L495.30,349.96 L495.65,350.04 L496.00,350.11 L496.35,350.16 L496.70,350.21 L497.05,350.24 L497.40,350.27 L497.75,350.30 L498.10,350.32 L498.45,350.34 L498.80,350.36 L499.15,350.37 L499.50,350.38 L499.85,350.38 L500.20,350.39 L500.55,350.39 L500.90,350.39 L501.25,350.40 L501.60,350.40 L501.95,350.40 L502.30,350.40 L502.65,350.40 L503.00,350.40 L503.35,350.40 L503.70,350.40 L504.05,350.40 L504.40,350.40 L504.75,350.40 L505.10,350.40 L505.45,350.40 L505.80,350.40 L506.15,350.40 L506.50,350.40 L506.85,350.40 L507.20,350.40 L507.55,350.40 L507.90,350.40 L508.25,350.40 L508.60,350.40 L508.95,350.40 L509.30,350.40 L509.65,350.40 L510.00,350.40 L510.35,350.40 L510.70,350.40 L511.05,350.40 L511.40,350.40 L511.75,350.40 L512.10,350.40 L512.45,350.40 L512.80,350.40 L513.15,350.40 L513.50,350.40 L513.85,350.40 L514.20,350.40 L514.55,350.40 L514.90,350.40 L515.25,350.40 L515.60,350.40 L515.95,350.40 L516.30,350.40 L516.65,350.40 L517.00,350.40 L517.35,350.40 L517.70,350.40 L518.05,350.40 L518.40,350.40 L518.75,350.40 L519.10,350.40 L519.45,350.40 L519.80,350.40 L520.15,350.40 L520.50,350.40 L520.85,350.40 L521.20,350.40 L521.55,350.40 L521.90,350.40 L522.25,350.40 L522.60,350.40 L522.95,350.40 L523.30,350.40 L523.65,350.40 L524.00,350.40 L524.35,350.40 L524.70,350.40 L525.05,350.40 L525.40,350.40 L525.75,350.40 L526.10,350.40 L526.45,350.40 L526.80,350.40 L527.15,350.40 L527.50,350.40 L527.85,350.40 L528.20,350.40 L528.55,350.40 L528.90,350.40 L529.25,350.40 L529.60,350.40 L529.95,350.40 L530.30,350.40 L530.65,350.40 L531.00,350.40 L531.35,350.40 L531.70,350.40 L532.05,350.40 L532.40,350.40 L532.75,350.40 L533.10,350.40 L533.45,350.40 L533.80,350.40 L534.15,350.40 L534.50,350.40 L534.85,350.40 L535.20,350.40 L535.55,350.40 L535.90,350.40 L536.25,350.40 L536.60,350.40 L536.95,350.40 L537.30,350.40 L537.65,350.40 L538.00,350.40 L538.35,350.40 L538.70,350.40 L539.05,350.40 L539.40,350.40 L539.75,350.40 L540.10,350.40 L540.45,350.40 L540.80,350.40 L541.15,350.40 L541.50,350.40 L541.85,350.40 L542.20,350.40 L542.55,350.40 L542.90,350.40 L543.25,350.40 L543.60,350.40 L543.95,350.40 L544.30,350.40 L544.65,350.40 L545.00,350.40 L545.35,350.40 L545.70,350.40 L546.05,350.40 L546.40,350.40 L546.75,350.40 L547.10,350.40 L547.45,350.40 L547.80,350.40 L548.15,350.40 L548.50,350.40 L548.85,350.40 L549.20,350.40 L549.55,350.40 L549.90,350.40 L550.25,350.40 L550.60,350.40 L550.95,350.40 L551.30,350.40 L551.65,350.40 L552.00,350.40 L552.35,350.40 L552.70,350.40 L553.05,350.40 L553.40,350.40 L553.75,350.40 L554.10,350.40 L554.45,350.40 L554.80,350.40 L555.15,350.40 L555.50,350.40 L555.85,350.40 L556.20,350.40 L556.55,350.40 L556.90,350.40 L557.25,350.40 L557.60,350.40 L557.95,350.40 L558.30,350.40 L558.65,350.40 L559.00,350.40 L559.35,350.40 L559.70,350.40 L560.05,350.40 L560.40,350.40 L560.75,350.40 L561.10,350.40 L561.45,350.40 L561.80,350.40 L562.15,350.40 L562.50,350.40 L562.85,350.40 L563.20,350.40 L563.55,350.40 L563.90,350.40 L564.25,350.40 L564.60,350.40 L564.95,350.40 L565.30,350.40 L565.65,350.40 L566.00,350.40 L566.35,350.40 L566.70,350.40 L567.05,350.40 L567.40,350.40 L567.75,350.40 L568.10,350.40 L568.45,350.40 L568.80,350.40 L569.15,350.40 L569.50,350.40 L569.85,350.40 L570.20,350.40 L570.55,350.40 L570.90,350.40 L571.25,350.40 L571.60,350.40 L571.95,350.40 L572.30,350.40 L572.65,350.40 L573.00,350.40 L573.35,350.40 L573.70,350.40 L574.05,350.40 L574.40,350.40 L574.75,350.40 L575.10,350.40 L575.45,350.40 L575.80,350.40 L576.15,350.40 L576.50,350.40 L576.85,350.40 L577.20,350.40 L577.55,350.40 L577.90,350.40 L578.25,350.40 L578.60,350.40 L578.95,350.40 L579.30,350.40 L579.65,350.40 L580.00,350.40 L580.35,350.40 L580.70,350.40 L581.05,350.40 L581.40,350.40 L581.75,350.40 L582.10,350.40 L582.45,350.40 L582.80,350.40 L583.15,350.40 L583.50,350.40 L583.85,350.40 L584.20,350.40 L584.55,350.40 L584.90,350.40 L585.25,350.40 L585.60,350.40 L585.95,350.40 L586.30,350.40 L586.65,350.40 L587.00,350.40 L587.35,350.40 L587.70,350.40 L588.05,350.40 L588.40,350.40 L588.75,350.40 L589.10,350.40 L589.45,350.40 L589.80,350.40 L590.15,350.40 L590.50,350.40 L590.85,350.40 L591.20,350.40 L591.55,350.40 L591.90,350.40 L592.25,350.40 L592.60,350.40 L592.95,350.40 L593.30,350.40 L593.65,350.40 L594.00,350.40 L594.35,350.40 L594.70,350.40 L595.05,350.40 L595.40,350.40 L595.75,350.40 L596.10,350.40 L596.45,350.40 L596.80,350.40 L597.15,350.40 L597.50,350.40 L597.85,350.40 L598.20,350.40 L598.55,350.40 L598.90,350.40 L599.25,350.40 L599.60,350.40 L599.95,350.40 L600.30,350.40 L600.65,350.40 L601.00,350.40 L601.35,350.40 L601.70,350.40 L602.05,350.40 L602.40,350.40 L602.75,350.40 L603.10,350.40 L603.45,350.40 L603.80,350.40 L604.15,350.40 L604.50,350.40 L604.85,350.40 L605.20,350.40 L605.55,350.40 L605.90,350.40 L606.25,350.40 L606.60,350.40 L606.95,350.40 L607.30,350.40 L607.65,350.40 L608.00,350.40 L608.35,350.40 L608.70,350.40 L609.05,350.40 L609.40,350.40 L609.75,350.40 L610.10,350.40 L610.45,350.40 L610.80,350.40 L611.15,350.40 L611.50,350.40 L611.85,350.40 L612.20,350.40 L612.55,350.40 L612.90,350.40 L613.25,350.40 L613.60,350.40 L613.95,350.40 L614.30,350.40 L614.65,350.40 L615.00,350.40 L615.35,350.40 L615.70,350.40 L616.05,350.40 L616.40,350.40 L616.75,350.40 L617.10,350.40 L617.45,350.40 L617.80,350.40 L618.15,350.40 L618.50,350.40 L618.85,350.40 L619.20,350.40 L619.55,350.40 L619.90,350.40" fill="none" stroke="#2a2aff" stroke-width="1.0" stroke-linejoin="round"/>
<rect x="129.8" y="113.5" width="46.599999999999994" height="20.099999999999994" fill="#fff" stroke="#555" stroke-width="1.1"/>
<text x="153.10000000000002" y="127.64999999999999" text-anchor="middle" font-size="11.5" font-weight="normal" fill="#1a1a1a" textLength="34.6" lengthAdjust="spacingAndGlyphs">RFMS</text>
<rect x="129.6" y="207.2" width="40.70000000000002" height="20.0" fill="#fff" stroke="#555" stroke-width="1.1"/>
<text x="149.95" y="221.29999999999998" text-anchor="middle" font-size="11.5" font-weight="normal" fill="#1a1a1a" textLength="28.3" lengthAdjust="spacingAndGlyphs">2-AB</text>
<rect x="129.8" y="292.9" width="40.19999999999999" height="20.30000000000001" fill="#fff" stroke="#555" stroke-width="1.1"/>
<text x="149.9" y="307.15" text-anchor="middle" font-size="11.5" font-weight="normal" fill="#1a1a1a" textLength="28.0" lengthAdjust="spacingAndGlyphs">ProC</text>
<text x="372.0" y="378.0" text-anchor="middle" font-size="9.0" font-weight="normal" fill="#2a2a2a" textLength="80.1" lengthAdjust="spacingAndGlyphs">Retention time [min]</text>
<line x1="117.4" y1="466.6" x2="117.4" y2="536.3" stroke="#444" stroke-width="1.15"/>
<line x1="115.2" y1="536.30" x2="117.4" y2="536.30" stroke="#3a3a3a" stroke-width="0.9"/>
<line x1="115.80000000000001" y1="529.33" x2="117.4" y2="529.33" stroke="#3a3a3a" stroke-width="0.9"/>
<line x1="115.80000000000001" y1="522.36" x2="117.4" y2="522.36" stroke="#3a3a3a" stroke-width="0.9"/>
<line x1="115.80000000000001" y1="515.39" x2="117.4" y2="515.39" stroke="#3a3a3a" stroke-width="0.9"/>
<line x1="115.80000000000001" y1="508.42" x2="117.4" y2="508.42" stroke="#3a3a3a" stroke-width="0.9"/>
<line x1="115.2" y1="501.45" x2="117.4" y2="501.45" stroke="#3a3a3a" stroke-width="0.9"/>
<line x1="115.80000000000001" y1="494.48" x2="117.4" y2="494.48" stroke="#3a3a3a" stroke-width="0.9"/>
<line x1="115.80000000000001" y1="487.51" x2="117.4" y2="487.51" stroke="#3a3a3a" stroke-width="0.9"/>
<line x1="115.80000000000001" y1="480.54" x2="117.4" y2="480.54" stroke="#3a3a3a" stroke-width="0.9"/>
<line x1="115.80000000000001" y1="473.57" x2="117.4" y2="473.57" stroke="#3a3a3a" stroke-width="0.9"/>
<line x1="115.2" y1="466.60" x2="117.4" y2="466.60" stroke="#3a3a3a" stroke-width="0.9"/>
<text x="114.0" y="470.90000000000003" text-anchor="end" font-size="10.6" font-weight="normal" fill="#404040" stroke="#404040" stroke-width="0.2" textLength="14.0" lengthAdjust="spacingAndGlyphs" font-family='"Liberation Serif", serif'>100</text>
<text x="114.0" y="488.022" text-anchor="end" font-size="10.0" font-weight="normal" fill="#404040" stroke="#404040" stroke-width="0.2" textLength="7.2" lengthAdjust="spacingAndGlyphs" font-family='"Liberation Serif", serif'>%</text>
<text x="114.0" y="505.75" text-anchor="end" font-size="10.6" font-weight="normal" fill="#404040" stroke="#404040" stroke-width="0.2" textLength="9.0" lengthAdjust="spacingAndGlyphs" font-family='"Liberation Serif", serif'>50</text>
<text x="114.0" y="539.9" text-anchor="end" font-size="10.6" font-weight="normal" fill="#404040" stroke="#404040" stroke-width="0.2" textLength="4.8" lengthAdjust="spacingAndGlyphs" font-family='"Liberation Serif", serif'>0</text>
<line x1="117.4" y1="536.3" x2="620.1" y2="536.3" stroke="#3a3a3a" stroke-width="1.6"/>
<line x1="117.82" y1="536.3" x2="117.82" y2="539.3" stroke="#3a3a3a" stroke-width="0.8"/>
<line x1="126.49" y1="536.3" x2="126.49" y2="538.0" stroke="#3a3a3a" stroke-width="0.8"/>
<line x1="135.16" y1="536.3" x2="135.16" y2="538.0" stroke="#3a3a3a" stroke-width="0.8"/>
<line x1="143.83" y1="536.3" x2="143.83" y2="538.0" stroke="#3a3a3a" stroke-width="0.8"/>
<line x1="152.50" y1="536.3" x2="152.50" y2="539.3" stroke="#3a3a3a" stroke-width="0.8"/>
<line x1="161.17" y1="536.3" x2="161.17" y2="538.0" stroke="#3a3a3a" stroke-width="0.8"/>
<line x1="169.84" y1="536.3" x2="169.84" y2="538.0" stroke="#3a3a3a" stroke-width="0.8"/>
<line x1="178.51" y1="536.3" x2="178.51" y2="538.0" stroke="#3a3a3a" stroke-width="0.8"/>
<line x1="187.18" y1="536.3" x2="187.18" y2="539.3" stroke="#3a3a3a" stroke-width="0.8"/>
<line x1="195.85" y1="536.3" x2="195.85" y2="538.0" stroke="#3a3a3a" stroke-width="0.8"/>
<line x1="204.52" y1="536.3" x2="204.52" y2="538.0" stroke="#3a3a3a" stroke-width="0.8"/>
<line x1="213.19" y1="536.3" x2="213.19" y2="538.0" stroke="#3a3a3a" stroke-width="0.8"/>
<line x1="221.86" y1="536.3" x2="221.86" y2="539.3" stroke="#3a3a3a" stroke-width="0.8"/>
<line x1="230.53" y1="536.3" x2="230.53" y2="538.0" stroke="#3a3a3a" stroke-width="0.8"/>
<line x1="239.20" y1="536.3" x2="239.20" y2="538.0" stroke="#3a3a3a" stroke-width="0.8"/>
<line x1="247.87" y1="536.3" x2="247.87" y2="538.0" stroke="#3a3a3a" stroke-width="0.8"/>
<line x1="256.54" y1="536.3" x2="256.54" y2="539.3" stroke="#3a3a3a" stroke-width="0.8"/>
<line x1="265.21" y1="536.3" x2="265.21" y2="538.0" stroke="#3a3a3a" stroke-width="0.8"/>
<line x1="273.88" y1="536.3" x2="273.88" y2="538.0" stroke="#3a3a3a" stroke-width="0.8"/>
<line x1="282.55" y1="536.3" x2="282.55" y2="538.0" stroke="#3a3a3a" stroke-width="0.8"/>
<line x1="291.22" y1="536.3" x2="291.22" y2="539.3" stroke="#3a3a3a" stroke-width="0.8"/>
<line x1="299.89" y1="536.3" x2="299.89" y2="538.0" stroke="#3a3a3a" stroke-width="0.8"/>
<line x1="308.56" y1="536.3" x2="308.56" y2="538.0" stroke="#3a3a3a" stroke-width="0.8"/>
<line x1="317.23" y1="536.3" x2="317.23" y2="538.0" stroke="#3a3a3a" stroke-width="0.8"/>
<line x1="325.90" y1="536.3" x2="325.90" y2="539.3" stroke="#3a3a3a" stroke-width="0.8"/>
<line x1="334.57" y1="536.3" x2="334.57" y2="538.0" stroke="#3a3a3a" stroke-width="0.8"/>
<line x1="343.24" y1="536.3" x2="343.24" y2="538.0" stroke="#3a3a3a" stroke-width="0.8"/>
<line x1="351.91" y1="536.3" x2="351.91" y2="538.0" stroke="#3a3a3a" stroke-width="0.8"/>
<line x1="360.58" y1="536.3" x2="360.58" y2="539.3" stroke="#3a3a3a" stroke-width="0.8"/>
<line x1="369.25" y1="536.3" x2="369.25" y2="538.0" stroke="#3a3a3a" stroke-width="0.8"/>
<line x1="377.92" y1="536.3" x2="377.92" y2="538.0" stroke="#3a3a3a" stroke-width="0.8"/>
<line x1="386.59" y1="536.3" x2="386.59" y2="538.0" stroke="#3a3a3a" stroke-width="0.8"/>
<line x1="395.26" y1="536.3" x2="395.26" y2="539.3" stroke="#3a3a3a" stroke-width="0.8"/>
<line x1="403.93" y1="536.3" x2="403.93" y2="538.0" stroke="#3a3a3a" stroke-width="0.8"/>
<line x1="412.60" y1="536.3" x2="412.60" y2="538.0" stroke="#3a3a3a" stroke-width="0.8"/>
<line x1="421.27" y1="536.3" x2="421.27" y2="538.0" stroke="#3a3a3a" stroke-width="0.8"/>
<line x1="429.94" y1="536.3" x2="429.94" y2="539.3" stroke="#3a3a3a" stroke-width="0.8"/>
<line x1="438.61" y1="536.3" x2="438.61" y2="538.0" stroke="#3a3a3a" stroke-width="0.8"/>
<line x1="447.28" y1="536.3" x2="447.28" y2="538.0" stroke="#3a3a3a" stroke-width="0.8"/>
<line x1="455.95" y1="536.3" x2="455.95" y2="538.0" stroke="#3a3a3a" stroke-width="0.8"/>
<line x1="464.62" y1="536.3" x2="464.62" y2="539.3" stroke="#3a3a3a" stroke-width="0.8"/>
<line x1="473.29" y1="536.3" x2="473.29" y2="538.0" stroke="#3a3a3a" stroke-width="0.8"/>
<line x1="481.96" y1="536.3" x2="481.96" y2="538.0" stroke="#3a3a3a" stroke-width="0.8"/>
<line x1="490.63" y1="536.3" x2="490.63" y2="538.0" stroke="#3a3a3a" stroke-width="0.8"/>
<line x1="499.30" y1="536.3" x2="499.30" y2="539.3" stroke="#3a3a3a" stroke-width="0.8"/>
<line x1="507.97" y1="536.3" x2="507.97" y2="538.0" stroke="#3a3a3a" stroke-width="0.8"/>
<line x1="516.64" y1="536.3" x2="516.64" y2="538.0" stroke="#3a3a3a" stroke-width="0.8"/>
<line x1="525.31" y1="536.3" x2="525.31" y2="538.0" stroke="#3a3a3a" stroke-width="0.8"/>
<line x1="533.98" y1="536.3" x2="533.98" y2="539.3" stroke="#3a3a3a" stroke-width="0.8"/>
<line x1="542.65" y1="536.3" x2="542.65" y2="538.0" stroke="#3a3a3a" stroke-width="0.8"/>
<line x1="551.32" y1="536.3" x2="551.32" y2="538.0" stroke="#3a3a3a" stroke-width="0.8"/>
<line x1="559.99" y1="536.3" x2="559.99" y2="538.0" stroke="#3a3a3a" stroke-width="0.8"/>
<line x1="568.66" y1="536.3" x2="568.66" y2="539.3" stroke="#3a3a3a" stroke-width="0.8"/>
<line x1="577.33" y1="536.3" x2="577.33" y2="538.0" stroke="#3a3a3a" stroke-width="0.8"/>
<line x1="586.00" y1="536.3" x2="586.00" y2="538.0" stroke="#3a3a3a" stroke-width="0.8"/>
<line x1="594.67" y1="536.3" x2="594.67" y2="538.0" stroke="#3a3a3a" stroke-width="0.8"/>
<line x1="603.34" y1="536.3" x2="603.34" y2="539.3" stroke="#3a3a3a" stroke-width="0.8"/>
<line x1="612.01" y1="536.3" x2="612.01" y2="538.0" stroke="#3a3a3a" stroke-width="0.8"/>
<text x="152.50" y="551.5" text-anchor="middle" font-size="10.0" font-weight="normal" fill="#404040" stroke="#404040" stroke-width="0.2" textLength="8.4" lengthAdjust="spacingAndGlyphs" font-family='"Liberation Serif", serif'>12</text>
<text x="187.18" y="551.5" text-anchor="middle" font-size="10.0" font-weight="normal" fill="#404040" stroke="#404040" stroke-width="0.2" textLength="8.4" lengthAdjust="spacingAndGlyphs" font-family='"Liberation Serif", serif'>14</text>
<text x="221.86" y="551.5" text-anchor="middle" font-size="10.0" font-weight="normal" fill="#404040" stroke="#404040" stroke-width="0.2" textLength="8.4" lengthAdjust="spacingAndGlyphs" font-family='"Liberation Serif", serif'>16</text>
<text x="256.54" y="551.5" text-anchor="middle" font-size="10.0" font-weight="normal" fill="#404040" stroke="#404040" stroke-width="0.2" textLength="8.4" lengthAdjust="spacingAndGlyphs" font-family='"Liberation Serif", serif'>18</text>
<text x="291.22" y="551.5" text-anchor="middle" font-size="10.0" font-weight="normal" fill="#404040" stroke="#404040" stroke-width="0.2" textLength="8.4" lengthAdjust="spacingAndGlyphs" font-family='"Liberation Serif", serif'>20</text>
<text x="325.90" y="551.5" text-anchor="middle" font-size="10.0" font-weight="normal" fill="#404040" stroke="#404040" stroke-width="0.2" textLength="8.4" lengthAdjust="spacingAndGlyphs" font-family='"Liberation Serif", serif'>22</text>
<text x="360.58" y="551.5" text-anchor="middle" font-size="10.0" font-weight="normal" fill="#404040" stroke="#404040" stroke-width="0.2" textLength="8.4" lengthAdjust="spacingAndGlyphs" font-family='"Liberation Serif", serif'>24</text>
<text x="395.26" y="551.5" text-anchor="middle" font-size="10.0" font-weight="normal" fill="#404040" stroke="#404040" stroke-width="0.2" textLength="8.4" lengthAdjust="spacingAndGlyphs" font-family='"Liberation Serif", serif'>26</text>
<text x="429.94" y="551.5" text-anchor="middle" font-size="10.0" font-weight="normal" fill="#404040" stroke="#404040" stroke-width="0.2" textLength="8.4" lengthAdjust="spacingAndGlyphs" font-family='"Liberation Serif", serif'>28</text>
<text x="464.62" y="551.5" text-anchor="middle" font-size="10.0" font-weight="normal" fill="#404040" stroke="#404040" stroke-width="0.2" textLength="8.4" lengthAdjust="spacingAndGlyphs" font-family='"Liberation Serif", serif'>30</text>
<text x="499.30" y="551.5" text-anchor="middle" font-size="10.0" font-weight="normal" fill="#404040" stroke="#404040" stroke-width="0.2" textLength="8.4" lengthAdjust="spacingAndGlyphs" font-family='"Liberation Serif", serif'>32</text>
<text x="533.98" y="551.5" text-anchor="middle" font-size="10.0" font-weight="normal" fill="#404040" stroke="#404040" stroke-width="0.2" textLength="8.4" lengthAdjust="spacingAndGlyphs" font-family='"Liberation Serif", serif'>34</text>
<text x="568.66" y="551.5" text-anchor="middle" font-size="10.0" font-weight="normal" fill="#404040" stroke="#404040" stroke-width="0.2" textLength="8.4" lengthAdjust="spacingAndGlyphs" font-family='"Liberation Serif", serif'>36</text>
<text x="603.34" y="551.5" text-anchor="middle" font-size="10.0" font-weight="normal" fill="#404040" stroke="#404040" stroke-width="0.2" textLength="8.4" lengthAdjust="spacingAndGlyphs" font-family='"Liberation Serif", serif'>38</text>
<line x1="117.4" y1="560.5" x2="117.4" y2="624.0" stroke="#444" stroke-width="1.15"/>
<line x1="115.2" y1="624.00" x2="117.4" y2="624.00" stroke="#3a3a3a" stroke-width="0.9"/>
<line x1="115.80000000000001" y1="617.65" x2="117.4" y2="617.65" stroke="#3a3a3a" stroke-width="0.9"/>
<line x1="115.80000000000001" y1="611.30" x2="117.4" y2="611.30" stroke="#3a3a3a" stroke-width="0.9"/>
<line x1="115.80000000000001" y1="604.95" x2="117.4" y2="604.95" stroke="#3a3a3a" stroke-width="0.9"/>
<line x1="115.80000000000001" y1="598.60" x2="117.4" y2="598.60" stroke="#3a3a3a" stroke-width="0.9"/>
<line x1="115.2" y1="592.25" x2="117.4" y2="592.25" stroke="#3a3a3a" stroke-width="0.9"/>
<line x1="115.80000000000001" y1="585.90" x2="117.4" y2="585.90" stroke="#3a3a3a" stroke-width="0.9"/>
<line x1="115.80000000000001" y1="579.55" x2="117.4" y2="579.55" stroke="#3a3a3a" stroke-width="0.9"/>
<line x1="115.80000000000001" y1="573.20" x2="117.4" y2="573.20" stroke="#3a3a3a" stroke-width="0.9"/>
<line x1="115.80000000000001" y1="566.85" x2="117.4" y2="566.85" stroke="#3a3a3a" stroke-width="0.9"/>
<line x1="115.2" y1="560.50" x2="117.4" y2="560.50" stroke="#3a3a3a" stroke-width="0.9"/>
<text x="114.0" y="564.8" text-anchor="end" font-size="10.6" font-weight="normal" fill="#404040" stroke="#404040" stroke-width="0.2" textLength="14.0" lengthAdjust="spacingAndGlyphs" font-family='"Liberation Serif", serif'>100</text>
<text x="114.0" y="580.31" text-anchor="end" font-size="10.0" font-weight="normal" fill="#404040" stroke="#404040" stroke-width="0.2" textLength="7.2" lengthAdjust="spacingAndGlyphs" font-family='"Liberation Serif", serif'>%</text>
<text x="114.0" y="596.55" text-anchor="end" font-size="10.6" font-weight="normal" fill="#404040" stroke="#404040" stroke-width="0.2" textLength="9.0" lengthAdjust="spacingAndGlyphs" font-family='"Liberation Serif", serif'>50</text>
<text x="114.0" y="627.6" text-anchor="end" font-size="10.6" font-weight="normal" fill="#404040" stroke="#404040" stroke-width="0.2" textLength="4.8" lengthAdjust="spacingAndGlyphs" font-family='"Liberation Serif", serif'>0</text>
<line x1="117.4" y1="624.0" x2="620.1" y2="624.0" stroke="#3a3a3a" stroke-width="1.6"/>
<line x1="117.82" y1="624.0" x2="117.82" y2="627.0" stroke="#3a3a3a" stroke-width="0.8"/>
<line x1="126.49" y1="624.0" x2="126.49" y2="625.7" stroke="#3a3a3a" stroke-width="0.8"/>
<line x1="135.16" y1="624.0" x2="135.16" y2="625.7" stroke="#3a3a3a" stroke-width="0.8"/>
<line x1="143.83" y1="624.0" x2="143.83" y2="625.7" stroke="#3a3a3a" stroke-width="0.8"/>
<line x1="152.50" y1="624.0" x2="152.50" y2="627.0" stroke="#3a3a3a" stroke-width="0.8"/>
<line x1="161.17" y1="624.0" x2="161.17" y2="625.7" stroke="#3a3a3a" stroke-width="0.8"/>
<line x1="169.84" y1="624.0" x2="169.84" y2="625.7" stroke="#3a3a3a" stroke-width="0.8"/>
<line x1="178.51" y1="624.0" x2="178.51" y2="625.7" stroke="#3a3a3a" stroke-width="0.8"/>
<line x1="187.18" y1="624.0" x2="187.18" y2="627.0" stroke="#3a3a3a" stroke-width="0.8"/>
<line x1="195.85" y1="624.0" x2="195.85" y2="625.7" stroke="#3a3a3a" stroke-width="0.8"/>
<line x1="204.52" y1="624.0" x2="204.52" y2="625.7" stroke="#3a3a3a" stroke-width="0.8"/>
<line x1="213.19" y1="624.0" x2="213.19" y2="625.7" stroke="#3a3a3a" stroke-width="0.8"/>
<line x1="221.86" y1="624.0" x2="221.86" y2="627.0" stroke="#3a3a3a" stroke-width="0.8"/>
<line x1="230.53" y1="624.0" x2="230.53" y2="625.7" stroke="#3a3a3a" stroke-width="0.8"/>
<line x1="239.20" y1="624.0" x2="239.20" y2="625.7" stroke="#3a3a3a" stroke-width="0.8"/>
<line x1="247.87" y1="624.0" x2="247.87" y2="625.7" stroke="#3a3a3a" stroke-width="0.8"/>
<line x1="256.54" y1="624.0" x2="256.54" y2="627.0" stroke="#3a3a3a" stroke-width="0.8"/>
<line x1="265.21" y1="624.0" x2="265.21" y2="625.7" stroke="#3a3a3a" stroke-width="0.8"/>
<line x1="273.88" y1="624.0" x2="273.88" y2="625.7" stroke="#3a3a3a" stroke-width="0.8"/>
<line x1="282.55" y1="624.0" x2="282.55" y2="625.7" stroke="#3a3a3a" stroke-width="0.8"/>
<line x1="291.22" y1="624.0" x2="291.22" y2="627.0" stroke="#3a3a3a" stroke-width="0.8"/>
<line x1="299.89" y1="624.0" x2="299.89" y2="625.7" stroke="#3a3a3a" stroke-width="0.8"/>
<line x1="308.56" y1="624.0" x2="308.56" y2="625.7" stroke="#3a3a3a" stroke-width="0.8"/>
<line x1="317.23" y1="624.0" x2="317.23" y2="625.7" stroke="#3a3a3a" stroke-width="0.8"/>
<line x1="325.90" y1="624.0" x2="325.90" y2="627.0" stroke="#3a3a3a" stroke-width="0.8"/>
<line x1="334.57" y1="624.0" x2="334.57" y2="625.7" stroke="#3a3a3a" stroke-width="0.8"/>
<line x1="343.24" y1="624.0" x2="343.24" y2="625.7" stroke="#3a3a3a" stroke-width="0.8"/>
<line x1="351.91" y1="624.0" x2="351.91" y2="625.7" stroke="#3a3a3a" stroke-width="0.8"/>
<line x1="360.58" y1="624.0" x2="360.58" y2="627.0" stroke="#3a3a3a" stroke-width="0.8"/>
<line x1="369.25" y1="624.0" x2="369.25" y2="625.7" stroke="#3a3a3a" stroke-width="0.8"/>
<line x1="377.92" y1="624.0" x2="377.92" y2="625.7" stroke="#3a3a3a" stroke-width="0.8"/>
<line x1="386.59" y1="624.0" x2="386.59" y2="625.7" stroke="#3a3a3a" stroke-width="0.8"/>
<line x1="395.26" y1="624.0" x2="395.26" y2="627.0" stroke="#3a3a3a" stroke-width="0.8"/>
<line x1="403.93" y1="624.0" x2="403.93" y2="625.7" stroke="#3a3a3a" stroke-width="0.8"/>
<line x1="412.60" y1="624.0" x2="412.60" y2="625.7" stroke="#3a3a3a" stroke-width="0.8"/>
<line x1="421.27" y1="624.0" x2="421.27" y2="625.7" stroke="#3a3a3a" stroke-width="0.8"/>
<line x1="429.94" y1="624.0" x2="429.94" y2="627.0" stroke="#3a3a3a" stroke-width="0.8"/>
<line x1="438.61" y1="624.0" x2="438.61" y2="625.7" stroke="#3a3a3a" stroke-width="0.8"/>
<line x1="447.28" y1="624.0" x2="447.28" y2="625.7" stroke="#3a3a3a" stroke-width="0.8"/>
<line x1="455.95" y1="624.0" x2="455.95" y2="625.7" stroke="#3a3a3a" stroke-width="0.8"/>
<line x1="464.62" y1="624.0" x2="464.62" y2="627.0" stroke="#3a3a3a" stroke-width="0.8"/>
<line x1="473.29" y1="624.0" x2="473.29" y2="625.7" stroke="#3a3a3a" stroke-width="0.8"/>
<line x1="481.96" y1="624.0" x2="481.96" y2="625.7" stroke="#3a3a3a" stroke-width="0.8"/>
<line x1="490.63" y1="624.0" x2="490.63" y2="625.7" stroke="#3a3a3a" stroke-width="0.8"/>
<line x1="499.30" y1="624.0" x2="499.30" y2="627.0" stroke="#3a3a3a" stroke-width="0.8"/>
<line x1="507.97" y1="624.0" x2="507.97" y2="625.7" stroke="#3a3a3a" stroke-width="0.8"/>
<line x1="516.64" y1="624.0" x2="516.64" y2="625.7" stroke="#3a3a3a" stroke-width="0.8"/>
<line x1="525.31" y1="624.0" x2="525.31" y2="625.7" stroke="#3a3a3a" stroke-width="0.8"/>
<line x1="533.98" y1="624.0" x2="533.98" y2="627.0" stroke="#3a3a3a" stroke-width="0.8"/>
<line x1="542.65" y1="624.0" x2="542.65" y2="625.7" stroke="#3a3a3a" stroke-width="0.8"/>
<line x1="551.32" y1="624.0" x2="551.32" y2="625.7" stroke="#3a3a3a" stroke-width="0.8"/>
<line x1="559.99" y1="624.0" x2="559.99" y2="625.7" stroke="#3a3a3a" stroke-width="0.8"/>
<line x1="568.66" y1="624.0" x2="568.66" y2="627.0" stroke="#3a3a3a" stroke-width="0.8"/>
<line x1="577.33" y1="624.0" x2="577.33" y2="625.7" stroke="#3a3a3a" stroke-width="0.8"/>
<line x1="586.00" y1="624.0" x2="586.00" y2="625.7" stroke="#3a3a3a" stroke-width="0.8"/>
<line x1="594.67" y1="624.0" x2="594.67" y2="625.7" stroke="#3a3a3a" stroke-width="0.8"/>
<line x1="603.34" y1="624.0" x2="603.34" y2="627.0" stroke="#3a3a3a" stroke-width="0.8"/>
<line x1="612.01" y1="624.0" x2="612.01" y2="625.7" stroke="#3a3a3a" stroke-width="0.8"/>
<text x="152.50" y="638.4" text-anchor="middle" font-size="10.0" font-weight="normal" fill="#404040" stroke="#404040" stroke-width="0.2" textLength="8.4" lengthAdjust="spacingAndGlyphs" font-family='"Liberation Serif", serif'>12</text>
<text x="187.18" y="638.4" text-anchor="middle" font-size="10.0" font-weight="normal" fill="#404040" stroke="#404040" stroke-width="0.2" textLength="8.4" lengthAdjust="spacingAndGlyphs" font-family='"Liberation Serif", serif'>14</text>
<text x="221.86" y="638.4" text-anchor="middle" font-size="10.0" font-weight="normal" fill="#404040" stroke="#404040" stroke-width="0.2" textLength="8.4" lengthAdjust="spacingAndGlyphs" font-family='"Liberation Serif", serif'>16</text>
<text x="256.54" y="638.4" text-anchor="middle" font-size="10.0" font-weight="normal" fill="#404040" stroke="#404040" stroke-width="0.2" textLength="8.4" lengthAdjust="spacingAndGlyphs" font-family='"Liberation Serif", serif'>18</text>
<text x="291.22" y="638.4" text-anchor="middle" font-size="10.0" font-weight="normal" fill="#404040" stroke="#404040" stroke-width="0.2" textLength="8.4" lengthAdjust="spacingAndGlyphs" font-family='"Liberation Serif", serif'>20</text>
<text x="325.90" y="638.4" text-anchor="middle" font-size="10.0" font-weight="normal" fill="#404040" stroke="#404040" stroke-width="0.2" textLength="8.4" lengthAdjust="spacingAndGlyphs" font-family='"Liberation Serif", serif'>22</text>
<text x="360.58" y="638.4" text-anchor="middle" font-size="10.0" font-weight="normal" fill="#404040" stroke="#404040" stroke-width="0.2" textLength="8.4" lengthAdjust="spacingAndGlyphs" font-family='"Liberation Serif", serif'>24</text>
<text x="395.26" y="638.4" text-anchor="middle" font-size="10.0" font-weight="normal" fill="#404040" stroke="#404040" stroke-width="0.2" textLength="8.4" lengthAdjust="spacingAndGlyphs" font-family='"Liberation Serif", serif'>26</text>
<text x="429.94" y="638.4" text-anchor="middle" font-size="10.0" font-weight="normal" fill="#404040" stroke="#404040" stroke-width="0.2" textLength="8.4" lengthAdjust="spacingAndGlyphs" font-family='"Liberation Serif", serif'>28</text>
<text x="464.62" y="638.4" text-anchor="middle" font-size="10.0" font-weight="normal" fill="#404040" stroke="#404040" stroke-width="0.2" textLength="8.4" lengthAdjust="spacingAndGlyphs" font-family='"Liberation Serif", serif'>30</text>
<text x="499.30" y="638.4" text-anchor="middle" font-size="10.0" font-weight="normal" fill="#404040" stroke="#404040" stroke-width="0.2" textLength="8.4" lengthAdjust="spacingAndGlyphs" font-family='"Liberation Serif", serif'>32</text>
<text x="533.98" y="638.4" text-anchor="middle" font-size="10.0" font-weight="normal" fill="#404040" stroke="#404040" stroke-width="0.2" textLength="8.4" lengthAdjust="spacingAndGlyphs" font-family='"Liberation Serif", serif'>34</text>
<text x="568.66" y="638.4" text-anchor="middle" font-size="10.0" font-weight="normal" fill="#404040" stroke="#404040" stroke-width="0.2" textLength="8.4" lengthAdjust="spacingAndGlyphs" font-family='"Liberation Serif", serif'>36</text>
<text x="603.34" y="638.4" text-anchor="middle" font-size="10.0" font-weight="normal" fill="#404040" stroke="#404040" stroke-width="0.2" textLength="8.4" lengthAdjust="spacingAndGlyphs" font-family='"Liberation Serif", serif'>38</text>
<line x1="117.4" y1="648.0" x2="117.4" y2="707.6" stroke="#444" stroke-width="1.15"/>
<line x1="115.2" y1="707.60" x2="117.4" y2="707.60" stroke="#3a3a3a" stroke-width="0.9"/>
<line x1="115.80000000000001" y1="701.64" x2="117.4" y2="701.64" stroke="#3a3a3a" stroke-width="0.9"/>
<line x1="115.80000000000001" y1="695.68" x2="117.4" y2="695.68" stroke="#3a3a3a" stroke-width="0.9"/>
<line x1="115.80000000000001" y1="689.72" x2="117.4" y2="689.72" stroke="#3a3a3a" stroke-width="0.9"/>
<line x1="115.80000000000001" y1="683.76" x2="117.4" y2="683.76" stroke="#3a3a3a" stroke-width="0.9"/>
<line x1="115.2" y1="677.80" x2="117.4" y2="677.80" stroke="#3a3a3a" stroke-width="0.9"/>
<line x1="115.80000000000001" y1="671.84" x2="117.4" y2="671.84" stroke="#3a3a3a" stroke-width="0.9"/>
<line x1="115.80000000000001" y1="665.88" x2="117.4" y2="665.88" stroke="#3a3a3a" stroke-width="0.9"/>
<line x1="115.80000000000001" y1="659.92" x2="117.4" y2="659.92" stroke="#3a3a3a" stroke-width="0.9"/>
<line x1="115.80000000000001" y1="653.96" x2="117.4" y2="653.96" stroke="#3a3a3a" stroke-width="0.9"/>
<line x1="115.2" y1="648.00" x2="117.4" y2="648.00" stroke="#3a3a3a" stroke-width="0.9"/>
<text x="114.0" y="652.3" text-anchor="end" font-size="10.6" font-weight="normal" fill="#404040" stroke="#404040" stroke-width="0.2" textLength="14.0" lengthAdjust="spacingAndGlyphs" font-family='"Liberation Serif", serif'>100</text>
<text x="114.0" y="666.7959999999999" text-anchor="end" font-size="10.0" font-weight="normal" fill="#404040" stroke="#404040" stroke-width="0.2" textLength="7.2" lengthAdjust="spacingAndGlyphs" font-family='"Liberation Serif", serif'>%</text>
<text x="114.0" y="682.0999999999999" text-anchor="end" font-size="10.6" font-weight="normal" fill="#404040" stroke="#404040" stroke-width="0.2" textLength="9.0" lengthAdjust="spacingAndGlyphs" font-family='"Liberation Serif", serif'>50</text>
<text x="114.0" y="711.2" text-anchor="end" font-size="10.6" font-weight="normal" fill="#404040" stroke="#404040" stroke-width="0.2" textLength="4.8" lengthAdjust="spacingAndGlyphs" font-family='"Liberation Serif", serif'>0</text>
<line x1="117.4" y1="707.6" x2="620.1" y2="707.6" stroke="#3a3a3a" stroke-width="1.6"/>
<line x1="117.82" y1="707.6" x2="117.82" y2="710.6" stroke="#3a3a3a" stroke-width="0.8"/>
<line x1="126.49" y1="707.6" x2="126.49" y2="709.3000000000001" stroke="#3a3a3a" stroke-width="0.8"/>
<line x1="135.16" y1="707.6" x2="135.16" y2="709.3000000000001" stroke="#3a3a3a" stroke-width="0.8"/>
<line x1="143.83" y1="707.6" x2="143.83" y2="709.3000000000001" stroke="#3a3a3a" stroke-width="0.8"/>
<line x1="152.50" y1="707.6" x2="152.50" y2="710.6" stroke="#3a3a3a" stroke-width="0.8"/>
<line x1="161.17" y1="707.6" x2="161.17" y2="709.3000000000001" stroke="#3a3a3a" stroke-width="0.8"/>
<line x1="169.84" y1="707.6" x2="169.84" y2="709.3000000000001" stroke="#3a3a3a" stroke-width="0.8"/>
<line x1="178.51" y1="707.6" x2="178.51" y2="709.3000000000001" stroke="#3a3a3a" stroke-width="0.8"/>
<line x1="187.18" y1="707.6" x2="187.18" y2="710.6" stroke="#3a3a3a" stroke-width="0.8"/>
<line x1="195.85" y1="707.6" x2="195.85" y2="709.3000000000001" stroke="#3a3a3a" stroke-width="0.8"/>
<line x1="204.52" y1="707.6" x2="204.52" y2="709.3000000000001" stroke="#3a3a3a" stroke-width="0.8"/>
<line x1="213.19" y1="707.6" x2="213.19" y2="709.3000000000001" stroke="#3a3a3a" stroke-width="0.8"/>
<line x1="221.86" y1="707.6" x2="221.86" y2="710.6" stroke="#3a3a3a" stroke-width="0.8"/>
<line x1="230.53" y1="707.6" x2="230.53" y2="709.3000000000001" stroke="#3a3a3a" stroke-width="0.8"/>
<line x1="239.20" y1="707.6" x2="239.20" y2="709.3000000000001" stroke="#3a3a3a" stroke-width="0.8"/>
<line x1="247.87" y1="707.6" x2="247.87" y2="709.3000000000001" stroke="#3a3a3a" stroke-width="0.8"/>
<line x1="256.54" y1="707.6" x2="256.54" y2="710.6" stroke="#3a3a3a" stroke-width="0.8"/>
<line x1="265.21" y1="707.6" x2="265.21" y2="709.3000000000001" stroke="#3a3a3a" stroke-width="0.8"/>
<line x1="273.88" y1="707.6" x2="273.88" y2="709.3000000000001" stroke="#3a3a3a" stroke-width="0.8"/>
<line x1="282.55" y1="707.6" x2="282.55" y2="709.3000000000001" stroke="#3a3a3a" stroke-width="0.8"/>
<line x1="291.22" y1="707.6" x2="291.22" y2="710.6" stroke="#3a3a3a" stroke-width="0.8"/>
<line x1="299.89" y1="707.6" x2="299.89" y2="709.3000000000001" stroke="#3a3a3a" stroke-width="0.8"/>
<line x1="308.56" y1="707.6" x2="308.56" y2="709.3000000000001" stroke="#3a3a3a" stroke-width="0.8"/>
<line x1="317.23" y1="707.6" x2="317.23" y2="709.3000000000001" stroke="#3a3a3a" stroke-width="0.8"/>
<line x1="325.90" y1="707.6" x2="325.90" y2="710.6" stroke="#3a3a3a" stroke-width="0.8"/>
<line x1="334.57" y1="707.6" x2="334.57" y2="709.3000000000001" stroke="#3a3a3a" stroke-width="0.8"/>
<line x1="343.24" y1="707.6" x2="343.24" y2="709.3000000000001" stroke="#3a3a3a" stroke-width="0.8"/>
<line x1="351.91" y1="707.6" x2="351.91" y2="709.3000000000001" stroke="#3a3a3a" stroke-width="0.8"/>
<line x1="360.58" y1="707.6" x2="360.58" y2="710.6" stroke="#3a3a3a" stroke-width="0.8"/>
<line x1="369.25" y1="707.6" x2="369.25" y2="709.3000000000001" stroke="#3a3a3a" stroke-width="0.8"/>
<line x1="377.92" y1="707.6" x2="377.92" y2="709.3000000000001" stroke="#3a3a3a" stroke-width="0.8"/>
<line x1="386.59" y1="707.6" x2="386.59" y2="709.3000000000001" stroke="#3a3a3a" stroke-width="0.8"/>
<line x1="395.26" y1="707.6" x2="395.26" y2="710.6" stroke="#3a3a3a" stroke-width="0.8"/>
<line x1="403.93" y1="707.6" x2="403.93" y2="709.3000000000001" stroke="#3a3a3a" stroke-width="0.8"/>
<line x1="412.60" y1="707.6" x2="412.60" y2="709.3000000000001" stroke="#3a3a3a" stroke-width="0.8"/>
<line x1="421.27" y1="707.6" x2="421.27" y2="709.3000000000001" stroke="#3a3a3a" stroke-width="0.8"/>
<line x1="429.94" y1="707.6" x2="429.94" y2="710.6" stroke="#3a3a3a" stroke-width="0.8"/>
<line x1="438.61" y1="707.6" x2="438.61" y2="709.3000000000001" stroke="#3a3a3a" stroke-width="0.8"/>
<line x1="447.28" y1="707.6" x2="447.28" y2="709.3000000000001" stroke="#3a3a3a" stroke-width="0.8"/>
<line x1="455.95" y1="707.6" x2="455.95" y2="709.3000000000001" stroke="#3a3a3a" stroke-width="0.8"/>
<line x1="464.62" y1="707.6" x2="464.62" y2="710.6" stroke="#3a3a3a" stroke-width="0.8"/>
<line x1="473.29" y1="707.6" x2="473.29" y2="709.3000000000001" stroke="#3a3a3a" stroke-width="0.8"/>
<line x1="481.96" y1="707.6" x2="481.96" y2="709.3000000000001" stroke="#3a3a3a" stroke-width="0.8"/>
<line x1="490.63" y1="707.6" x2="490.63" y2="709.3000000000001" stroke="#3a3a3a" stroke-width="0.8"/>
<line x1="499.30" y1="707.6" x2="499.30" y2="710.6" stroke="#3a3a3a" stroke-width="0.8"/>
<line x1="507.97" y1="707.6" x2="507.97" y2="709.3000000000001" stroke="#3a3a3a" stroke-width="0.8"/>
<line x1="516.64" y1="707.6" x2="516.64" y2="709.3000000000001" stroke="#3a3a3a" stroke-width="0.8"/>
<line x1="525.31" y1="707.6" x2="525.31" y2="709.3000000000001" stroke="#3a3a3a" stroke-width="0.8"/>
<line x1="533.98" y1="707.6" x2="533.98" y2="710.6" stroke="#3a3a3a" stroke-width="0.8"/>
<line x1="542.65" y1="707.6" x2="542.65" y2="709.3000000000001" stroke="#3a3a3a" stroke-width="0.8"/>
<line x1="551.32" y1="707.6" x2="551.32" y2="709.3000000000001" stroke="#3a3a3a" stroke-width="0.8"/>
<line x1="559.99" y1="707.6" x2="559.99" y2="709.3000000000001" stroke="#3a3a3a" stroke-width="0.8"/>
<line x1="568.66" y1="707.6" x2="568.66" y2="710.6" stroke="#3a3a3a" stroke-width="0.8"/>
<line x1="577.33" y1="707.6" x2="577.33" y2="709.3000000000001" stroke="#3a3a3a" stroke-width="0.8"/>
<line x1="586.00" y1="707.6" x2="586.00" y2="709.3000000000001" stroke="#3a3a3a" stroke-width="0.8"/>
<line x1="594.67" y1="707.6" x2="594.67" y2="709.3000000000001" stroke="#3a3a3a" stroke-width="0.8"/>
<line x1="603.34" y1="707.6" x2="603.34" y2="710.6" stroke="#3a3a3a" stroke-width="0.8"/>
<line x1="612.01" y1="707.6" x2="612.01" y2="709.3000000000001" stroke="#3a3a3a" stroke-width="0.8"/>
<text x="152.50" y="721.9" text-anchor="middle" font-size="10.0" font-weight="normal" fill="#404040" stroke="#404040" stroke-width="0.2" textLength="8.4" lengthAdjust="spacingAndGlyphs" font-family='"Liberation Serif", serif'>12</text>
<text x="187.18" y="721.9" text-anchor="middle" font-size="10.0" font-weight="normal" fill="#404040" stroke="#404040" stroke-width="0.2" textLength="8.4" lengthAdjust="spacingAndGlyphs" font-family='"Liberation Serif", serif'>14</text>
<text x="221.86" y="721.9" text-anchor="middle" font-size="10.0" font-weight="normal" fill="#404040" stroke="#404040" stroke-width="0.2" textLength="8.4" lengthAdjust="spacingAndGlyphs" font-family='"Liberation Serif", serif'>16</text>
<text x="256.54" y="721.9" text-anchor="middle" font-size="10.0" font-weight="normal" fill="#404040" stroke="#404040" stroke-width="0.2" textLength="8.4" lengthAdjust="spacingAndGlyphs" font-family='"Liberation Serif", serif'>18</text>
<text x="291.22" y="721.9" text-anchor="middle" font-size="10.0" font-weight="normal" fill="#404040" stroke="#404040" stroke-width="0.2" textLength="8.4" lengthAdjust="spacingAndGlyphs" font-family='"Liberation Serif", serif'>20</text>
<text x="325.90" y="721.9" text-anchor="middle" font-size="10.0" font-weight="normal" fill="#404040" stroke="#404040" stroke-width="0.2" textLength="8.4" lengthAdjust="spacingAndGlyphs" font-family='"Liberation Serif", serif'>22</text>
<text x="360.58" y="721.9" text-anchor="middle" font-size="10.0" font-weight="normal" fill="#404040" stroke="#404040" stroke-width="0.2" textLength="8.4" lengthAdjust="spacingAndGlyphs" font-family='"Liberation Serif", serif'>24</text>
<text x="395.26" y="721.9" text-anchor="middle" font-size="10.0" font-weight="normal" fill="#404040" stroke="#404040" stroke-width="0.2" textLength="8.4" lengthAdjust="spacingAndGlyphs" font-family='"Liberation Serif", serif'>26</text>
<text x="429.94" y="721.9" text-anchor="middle" font-size="10.0" font-weight="normal" fill="#404040" stroke="#404040" stroke-width="0.2" textLength="8.4" lengthAdjust="spacingAndGlyphs" font-family='"Liberation Serif", serif'>28</text>
<text x="464.62" y="721.9" text-anchor="middle" font-size="10.0" font-weight="normal" fill="#404040" stroke="#404040" stroke-width="0.2" textLength="8.4" lengthAdjust="spacingAndGlyphs" font-family='"Liberation Serif", serif'>30</text>
<text x="499.30" y="721.9" text-anchor="middle" font-size="10.0" font-weight="normal" fill="#404040" stroke="#404040" stroke-width="0.2" textLength="8.4" lengthAdjust="spacingAndGlyphs" font-family='"Liberation Serif", serif'>32</text>
<text x="533.98" y="721.9" text-anchor="middle" font-size="10.0" font-weight="normal" fill="#404040" stroke="#404040" stroke-width="0.2" textLength="8.4" lengthAdjust="spacingAndGlyphs" font-family='"Liberation Serif", serif'>34</text>
<text x="568.66" y="721.9" text-anchor="middle" font-size="10.0" font-weight="normal" fill="#404040" stroke="#404040" stroke-width="0.2" textLength="8.4" lengthAdjust="spacingAndGlyphs" font-family='"Liberation Serif", serif'>36</text>
<text x="603.34" y="721.9" text-anchor="middle" font-size="10.0" font-weight="normal" fill="#404040" stroke="#404040" stroke-width="0.2" textLength="8.4" lengthAdjust="spacingAndGlyphs" font-family='"Liberation Serif", serif'>38</text>
<path d="M117.40,536.30 L117.75,536.30 L118.10,536.30 L118.45,536.30 L118.80,536.30 L119.15,536.30 L119.50,536.30 L119.85,536.30 L120.20,536.30 L120.55,536.30 L120.90,536.30 L121.25,536.30 L121.60,536.30 L121.95,536.30 L122.30,536.30 L122.65,536.30 L123.00,536.30 L123.35,536.30 L123.70,536.30 L124.05,536.30 L124.40,536.30 L124.75,536.30 L125.10,536.30 L125.45,536.30 L125.80,536.30 L126.15,536.30 L126.50,536.30 L126.85,536.30 L127.20,536.30 L127.55,536.30 L127.90,536.30 L128.25,536.30 L128.60,536.30 L128.95,536.30 L129.30,536.30 L129.65,536.30 L130.00,536.30 L130.35,536.30 L130.70,536.30 L131.05,536.30 L131.40,536.30 L131.75,536.30 L132.10,536.30 L132.45,536.30 L132.80,536.30 L133.15,536.30 L133.50,536.30 L133.85,536.30 L134.20,536.30 L134.55,536.30 L134.90,536.30 L135.25,536.30 L135.60,536.30 L135.95,536.30 L136.30,536.30 L136.65,536.30 L137.00,536.30 L137.35,536.30 L137.70,536.30 L138.05,536.30 L138.40,536.30 L138.75,536.30 L139.10,536.30 L139.45,536.30 L139.80,536.30 L140.15,536.30 L140.50,536.30 L140.85,536.30 L141.20,536.30 L141.55,536.30 L141.90,536.30 L142.25,536.30 L142.60,536.30 L142.95,536.30 L143.30,536.30 L143.65,536.30 L144.00,536.30 L144.35,536.30 L144.70,536.30 L145.05,536.30 L145.40,536.30 L145.75,536.30 L146.10,536.30 L146.45,536.30 L146.80,536.30 L147.15,536.30 L147.50,536.30 L147.85,536.30 L148.20,536.30 L148.55,536.30 L148.90,536.30 L149.25,536.30 L149.60,536.30 L149.95,536.30 L150.30,536.30 L150.65,536.30 L151.00,536.30 L151.35,536.30 L151.70,536.30 L152.05,536.30 L152.40,536.30 L152.75,536.30 L153.10,536.30 L153.45,536.30 L153.80,536.30 L154.15,536.30 L154.50,536.30 L154.85,536.30 L155.20,536.30 L155.55,536.30 L155.90,536.30 L156.25,536.30 L156.60,536.30 L156.95,536.30 L157.30,536.30 L157.65,536.30 L158.00,536.30 L158.35,536.30 L158.70,536.30 L159.05,536.30 L159.40,536.30 L159.75,536.30 L160.10,536.30 L160.45,536.30 L160.80,536.30 L161.15,536.30 L161.50,536.30 L161.85,536.30 L162.20,536.30 L162.55,536.30 L162.90,536.30 L163.25,536.30 L163.60,536.30 L163.95,536.30 L164.30,536.30 L164.65,536.30 L165.00,536.30 L165.35,536.30 L165.70,536.30 L166.05,536.30 L166.40,536.30 L166.75,536.30 L167.10,536.30 L167.45,536.30 L167.80,536.30 L168.15,536.30 L168.50,536.30 L168.85,536.30 L169.20,536.30 L169.55,536.30 L169.90,536.30 L170.25,536.30 L170.60,536.30 L170.95,536.30 L171.30,536.30 L171.65,536.30 L172.00,536.30 L172.35,536.30 L172.70,536.30 L173.05,536.30 L173.40,536.30 L173.75,536.30 L174.10,536.30 L174.45,536.30 L174.80,536.30 L175.15,536.30 L175.50,536.30 L175.85,536.30 L176.20,536.30 L176.55,536.30 L176.90,536.30 L177.25,536.30 L177.60,536.30 L177.95,536.30 L178.30,536.30 L178.65,536.30 L179.00,536.30 L179.35,536.30 L179.70,536.30 L180.05,536.30 L180.40,536.30 L180.75,536.30 L181.10,536.30 L181.45,536.30 L181.80,536.30 L182.15,536.30 L182.50,536.30 L182.85,536.30 L183.20,536.30 L183.55,536.30 L183.90,536.30 L184.25,536.30 L184.60,536.30 L184.95,536.30 L185.30,536.30 L185.65,536.30 L186.00,536.30 L186.35,536.30 L186.70,536.30 L187.05,536.30 L187.40,536.30 L187.75,536.30 L188.10,536.30 L188.45,536.30 L188.80,536.30 L189.15,536.30 L189.50,536.30 L189.85,536.30 L190.20,536.30 L190.55,536.30 L190.90,536.30 L191.25,536.30 L191.60,536.30 L191.95,536.30 L192.30,536.30 L192.65,536.30 L193.00,536.30 L193.35,536.30 L193.70,536.30 L194.05,536.30 L194.40,536.30 L194.75,536.30 L195.10,536.30 L195.45,536.30 L195.80,536.30 L196.15,536.30 L196.50,536.30 L196.85,536.30 L197.20,536.30 L197.55,536.30 L197.90,536.30 L198.25,536.30 L198.60,536.30 L198.95,536.30 L199.30,536.30 L199.65,536.30 L200.00,536.30 L200.35,536.30 L200.70,536.30 L201.05,536.30 L201.40,536.30 L201.75,536.30 L202.10,536.30 L202.45,536.30 L202.80,536.30 L203.15,536.30 L203.50,536.30 L203.85,536.30 L204.20,536.30 L204.55,536.30 L204.90,536.30 L205.25,536.30 L205.60,536.30 L205.95,536.30 L206.30,536.30 L206.65,536.30 L207.00,536.30 L207.35,536.30 L207.70,536.30 L208.05,536.30 L208.40,536.29 L208.75,536.29 L209.10,536.28 L209.45,536.28 L209.80,536.26 L210.15,536.25 L210.50,536.22 L210.85,536.19 L211.20,536.15 L211.55,536.09 L211.90,535.97 L212.25,535.76 L212.60,535.41 L212.95,534.91 L213.30,534.33 L213.65,533.80 L214.00,533.53 L214.35,533.59 L214.70,533.92 L215.05,534.42 L215.40,534.94 L215.75,535.39 L216.10,535.72 L216.45,535.93 L216.80,536.05 L217.15,536.13 L217.50,536.17 L217.85,536.21 L218.20,536.23 L218.55,536.25 L218.90,536.26 L219.25,536.27 L219.60,536.28 L219.95,536.29 L220.30,536.29 L220.65,536.30 L221.00,536.30 L221.35,536.30 L221.70,536.30 L222.05,536.30 L222.40,536.30 L222.75,536.30 L223.10,536.30 L223.45,536.30 L223.80,536.30 L224.15,536.30 L224.50,536.30 L224.85,536.30 L225.20,536.30 L225.55,536.30 L225.90,536.30 L226.25,536.30 L226.60,536.30 L226.95,536.30 L227.30,536.30 L227.65,536.30 L228.00,536.30 L228.35,536.30 L228.70,536.30 L229.05,536.30 L229.40,536.30 L229.75,536.30 L230.10,536.30 L230.45,536.30 L230.80,536.30 L231.15,536.30 L231.50,536.30 L231.85,536.30 L232.20,536.30 L232.55,536.30 L232.90,536.30 L233.25,536.30 L233.60,536.30 L233.95,536.30 L234.30,536.30 L234.65,536.30 L235.00,536.30 L235.35,536.30 L235.70,536.30 L236.05,536.30 L236.40,536.30 L236.75,536.30 L237.10,536.30 L237.45,536.30 L237.80,536.30 L238.15,536.30 L238.50,536.30 L238.85,536.30 L239.20,536.30 L239.55,536.30 L239.90,536.30 L240.25,536.30 L240.60,536.30 L240.95,536.30 L241.30,536.30 L241.65,536.30 L242.00,536.30 L242.35,536.30 L242.70,536.30 L243.05,536.30 L243.40,536.30 L243.75,536.30 L244.10,536.30 L244.45,536.30 L244.80,536.30 L245.15,536.30 L245.50,536.30 L245.85,536.30 L246.20,536.30 L246.55,536.30 L246.90,536.30 L247.25,536.30 L247.60,536.30 L247.95,536.30 L248.30,536.30 L248.65,536.30 L249.00,536.30 L249.35,536.30 L249.70,536.30 L250.05,536.30 L250.40,536.30 L250.75,536.30 L251.10,536.30 L251.45,536.30 L251.80,536.30 L252.15,536.30 L252.50,536.30 L252.85,536.30 L253.20,536.30 L253.55,536.30 L253.90,536.30 L254.25,536.30 L254.60,536.30 L254.95,536.30 L255.30,536.30 L255.65,536.30 L256.00,536.30 L256.35,536.30 L256.70,536.30 L257.05,536.30 L257.40,536.30 L257.75,536.30 L258.10,536.30 L258.45,536.30 L258.80,536.30 L259.15,536.30 L259.50,536.30 L259.85,536.30 L260.20,536.30 L260.55,536.30 L260.90,536.30 L261.25,536.30 L261.60,536.30 L261.95,536.30 L262.30,536.30 L262.65,536.30 L263.00,536.30 L263.35,536.30 L263.70,536.30 L264.05,536.30 L264.40,536.30 L264.75,536.30 L265.10,536.30 L265.45,536.30 L265.80,536.30 L266.15,536.30 L266.50,536.30 L266.85,536.30 L267.20,536.30 L267.55,536.30 L267.90,536.30 L268.25,536.30 L268.60,536.30 L268.95,536.30 L269.30,536.30 L269.65,536.30 L270.00,536.30 L270.35,536.30 L270.70,536.30 L271.05,536.30 L271.40,536.30 L271.75,536.30 L272.10,536.30 L272.45,536.30 L272.80,536.30 L273.15,536.30 L273.50,536.30 L273.85,536.30 L274.20,536.30 L274.55,536.30 L274.90,536.30 L275.25,536.30 L275.60,536.30 L275.95,536.30 L276.30,536.30 L276.65,536.30 L277.00,536.30 L277.35,536.30 L277.70,536.30 L278.05,536.30 L278.40,536.30 L278.75,536.30 L279.10,536.30 L279.45,536.30 L279.80,536.30 L280.15,536.30 L280.50,536.30 L280.85,536.30 L281.20,536.30 L281.55,536.30 L281.90,536.30 L282.25,536.30 L282.60,536.30 L282.95,536.30 L283.30,536.30 L283.65,536.30 L284.00,536.30 L284.35,536.30 L284.70,536.30 L285.05,536.30 L285.40,536.30 L285.75,536.30 L286.10,536.30 L286.45,536.30 L286.80,536.30 L287.15,536.30 L287.50,536.30 L287.85,536.30 L288.20,536.30 L288.55,536.30 L288.90,536.30 L289.25,536.30 L289.60,536.30 L289.95,536.30 L290.30,536.30 L290.65,536.30 L291.00,536.30 L291.35,536.30 L291.70,536.30 L292.05,536.30 L292.40,536.30 L292.75,536.30 L293.10,536.30 L293.45,536.30 L293.80,536.30 L294.15,536.30 L294.50,536.30 L294.85,536.30 L295.20,536.30 L295.55,536.30 L295.90,536.30 L296.25,536.30 L296.60,536.30 L296.95,536.30 L297.30,536.30 L297.65,536.30 L298.00,536.30 L298.35,536.30 L298.70,536.30 L299.05,536.30 L299.40,536.30 L299.75,536.30 L300.10,536.30 L300.45,536.30 L300.80,536.30 L301.15,536.30 L301.50,536.30 L301.85,536.30 L302.20,536.30 L302.55,536.30 L302.90,536.30 L303.25,536.30 L303.60,536.30 L303.95,536.30 L304.30,536.30 L304.65,536.30 L305.00,536.30 L305.35,536.30 L305.70,536.30 L306.05,536.30 L306.40,536.30 L306.75,536.30 L307.10,536.30 L307.45,536.30 L307.80,536.30 L308.15,536.30 L308.50,536.29 L308.85,536.29 L309.20,536.29 L309.55,536.28 L309.90,536.27 L310.25,536.26 L310.60,536.25 L310.95,536.23 L311.30,536.20 L311.65,536.14 L312.00,536.05 L312.35,535.92 L312.70,535.74 L313.05,535.54 L313.40,535.36 L313.75,535.26 L314.10,535.27 L314.45,535.35 L314.80,535.48 L315.15,535.65 L315.50,535.81 L315.85,535.95 L316.20,536.06 L316.55,536.13 L316.90,536.18 L317.25,536.21 L317.60,536.23 L317.95,536.24 L318.30,536.25 L318.65,536.25 L319.00,536.25 L319.35,536.25 L319.70,536.24 L320.05,536.23 L320.40,536.20 L320.75,536.16 L321.10,536.08 L321.45,535.96 L321.80,535.79 L322.15,535.59 L322.50,535.41 L322.85,535.28 L323.20,535.26 L323.55,535.32 L323.90,535.44 L324.25,535.60 L324.60,535.76 L324.95,535.91 L325.30,536.03 L325.65,536.11 L326.00,536.17 L326.35,536.21 L326.70,536.23 L327.05,536.25 L327.40,536.26 L327.75,536.27 L328.10,536.28 L328.45,536.28 L328.80,536.29 L329.15,536.29 L329.50,536.29 L329.85,536.29 L330.20,536.30 L330.55,536.30 L330.90,536.30 L331.25,536.30 L331.60,536.30 L331.95,536.30 L332.30,536.30 L332.65,536.30 L333.00,536.30 L333.35,536.30 L333.70,536.29 L334.05,536.29 L334.40,536.28 L334.75,536.27 L335.10,536.26 L335.45,536.24 L335.80,536.20 L336.15,536.15 L336.50,536.09 L336.85,536.00 L337.20,535.88 L337.55,535.73 L337.90,535.53 L338.25,535.26 L338.60,534.85 L338.95,534.18 L339.30,533.04 L339.65,531.17 L340.00,528.41 L340.35,524.86 L340.70,521.03 L341.05,517.82 L341.40,516.18 L341.75,516.47 L342.10,518.20 L342.45,520.94 L342.80,524.13 L343.15,527.22 L343.50,529.84 L343.85,531.84 L344.20,533.24 L344.55,534.16 L344.90,534.75 L345.25,535.14 L345.60,535.40 L345.95,535.60 L346.30,535.75 L346.65,535.88 L347.00,535.98 L347.35,536.06 L347.70,536.12 L348.05,536.17 L348.40,536.21 L348.75,536.23 L349.10,536.26 L349.45,536.27 L349.80,536.28 L350.15,536.29 L350.50,536.29 L350.85,536.29 L351.20,536.29 L351.55,536.29 L351.90,536.29 L352.25,536.29 L352.60,536.28 L352.95,536.28 L353.30,536.26 L353.65,536.24 L354.00,536.22 L354.35,536.18 L354.70,536.13 L355.05,536.06 L355.40,535.98 L355.75,535.87 L356.10,535.72 L356.45,535.49 L356.80,535.10 L357.15,534.44 L357.50,533.38 L357.85,531.84 L358.20,529.89 L358.55,527.86 L358.90,526.24 L359.25,525.51 L359.60,525.79 L359.95,526.81 L360.30,528.33 L360.65,530.04 L361.00,531.66 L361.35,533.02 L361.70,534.04 L362.05,534.75 L362.40,535.21 L362.75,535.51 L363.10,535.70 L363.45,535.84 L363.80,535.94 L364.15,536.02 L364.50,536.08 L364.85,536.13 L365.20,536.18 L365.55,536.21 L365.90,536.23 L366.25,536.25 L366.60,536.27 L366.95,536.28 L367.30,536.28 L367.65,536.29 L368.00,536.29 L368.35,536.30 L368.70,536.30 L369.05,536.30 L369.40,536.30 L369.75,536.30 L370.10,536.30 L370.45,536.30 L370.80,536.30 L371.15,536.30 L371.50,536.30 L371.85,536.30 L372.20,536.29 L372.55,536.29 L372.90,536.29 L373.25,536.28 L373.60,536.27 L373.95,536.26 L374.30,536.25 L374.65,536.24 L375.00,536.21 L375.35,536.16 L375.70,536.08 L376.05,535.96 L376.40,535.79 L376.75,535.59 L377.10,535.41 L377.45,535.28 L377.80,535.25 L378.15,535.31 L378.50,535.43 L378.85,535.58 L379.20,535.74 L379.55,535.88 L379.90,535.99 L380.25,536.06 L380.60,536.10 L380.95,536.10 L381.30,536.08 L381.65,536.01 L382.00,535.88 L382.35,535.69 L382.70,535.45 L383.05,535.19 L383.40,534.99 L383.75,534.89 L384.10,534.93 L384.45,535.06 L384.80,535.26 L385.15,535.47 L385.50,535.67 L385.85,535.84 L386.20,535.95 L386.55,536.02 L386.90,536.05 L387.25,536.05 L387.60,536.03 L387.95,535.97 L388.30,535.86 L388.65,535.66 L389.00,535.33 L389.35,534.82 L389.70,534.14 L390.05,533.39 L390.40,532.73 L390.75,532.36 L391.10,532.37 L391.45,532.68 L391.80,533.19 L392.15,533.81 L392.50,534.43 L392.85,534.96 L393.20,535.37 L393.55,535.66 L393.90,535.85 L394.25,535.98 L394.60,536.06 L394.95,536.11 L395.30,536.15 L395.65,536.18 L396.00,536.20 L396.35,536.22 L396.70,536.23 L397.05,536.24 L397.40,536.25 L397.75,536.25 L398.10,536.24 L398.45,536.23 L398.80,536.21 L399.15,536.17 L399.50,536.12 L399.85,536.03 L400.20,535.91 L400.55,535.74 L400.90,535.51 L401.25,535.20 L401.60,534.79 L401.95,534.27 L402.30,533.59 L402.65,532.67 L403.00,531.27 L403.35,528.97 L403.70,525.08 L404.05,518.72 L404.40,509.33 L404.75,497.23 L405.10,484.20 L405.45,473.26 L405.80,467.64 L406.15,468.50 L406.50,473.89 L406.85,482.53 L407.20,492.77 L407.55,502.92 L407.90,511.76 L408.25,518.68 L408.60,523.65 L408.95,526.97 L409.30,529.09 L409.65,530.43 L410.00,531.28 L410.35,531.86 L410.70,532.28 L411.05,532.60 L411.40,532.84 L411.75,533.04 L412.10,533.19 L412.45,533.33 L412.80,533.44 L413.15,533.54 L413.50,533.64 L413.85,533.74 L414.20,533.83 L414.55,533.92 L414.90,533.99 L415.25,534.04 L415.60,534.05 L415.95,534.02 L416.30,533.93 L416.65,533.76 L417.00,533.48 L417.35,533.02 L417.70,532.21 L418.05,530.76 L418.40,528.22 L418.75,524.09 L419.10,518.14 L419.45,510.80 L419.80,503.35 L420.15,497.70 L420.50,495.60 L420.85,497.13 L421.20,501.30 L421.55,507.17 L421.90,513.60 L422.25,519.59 L422.60,524.49 L422.95,528.13 L423.30,530.61 L423.65,532.20 L424.00,533.20 L424.35,533.82 L424.70,534.21 L425.05,534.45 L425.40,534.58 L425.75,534.60 L426.10,534.48 L426.45,534.14 L426.80,533.42 L427.15,532.11 L427.50,529.97 L427.85,526.92 L428.20,523.23 L428.55,519.61 L428.90,517.02 L429.25,516.27 L429.60,517.22 L429.95,519.43 L430.30,522.40 L430.65,525.57 L431.00,528.46 L431.35,530.79 L431.70,532.48 L432.05,533.63 L432.40,534.35 L432.75,534.79 L433.10,535.06 L433.45,535.22 L433.80,535.30 L434.15,535.30 L434.50,535.17 L434.85,534.85 L435.20,534.26 L435.55,533.35 L435.90,532.18 L436.25,530.94 L436.60,529.94 L436.95,529.48 L437.30,529.63 L437.65,530.22 L438.00,531.10 L438.35,532.08 L438.70,532.98 L439.05,533.68 L439.40,534.11 L439.75,534.24 L440.10,534.00 L440.45,533.30 L440.80,532.04 L441.15,530.19 L441.50,527.93 L441.85,525.70 L442.20,524.11 L442.55,523.64 L442.90,524.23 L443.25,525.59 L443.60,527.41 L443.95,529.35 L444.30,531.11 L444.65,532.51 L445.00,533.52 L445.35,534.17 L445.70,534.57 L446.05,534.79 L446.40,534.91 L446.75,534.96 L447.10,534.98 L447.45,534.98 L447.80,534.96 L448.15,534.94 L448.50,534.92 L448.85,534.89 L449.20,534.87 L449.55,534.86 L449.90,534.87 L450.25,534.88 L450.60,534.89 L450.95,534.92 L451.30,534.95 L451.65,534.98 L452.00,535.02 L452.35,535.07 L452.70,535.12 L453.05,535.17 L453.40,535.21 L453.75,535.26 L454.10,535.30 L454.45,535.32 L454.80,535.31 L455.15,535.25 L455.50,535.11 L455.85,534.90 L456.20,534.62 L456.55,534.35 L456.90,534.16 L457.25,534.12 L457.60,534.23 L457.95,534.44 L458.30,534.70 L458.65,534.96 L459.00,535.16 L459.35,535.27 L459.70,535.26 L460.05,535.14 L460.40,534.95 L460.75,534.76 L461.10,534.64 L461.45,534.64 L461.80,534.75 L462.15,534.93 L462.50,535.15 L462.85,535.36 L463.20,535.55 L463.55,535.69 L463.90,535.79 L464.25,535.84 L464.60,535.87 L464.95,535.88 L465.30,535.88 L465.65,535.87 L466.00,535.86 L466.35,535.85 L466.70,535.83 L467.05,535.81 L467.40,535.80 L467.75,535.78 L468.10,535.76 L468.45,535.75 L468.80,535.74 L469.15,535.73 L469.50,535.73 L469.85,535.73 L470.20,535.73 L470.55,535.73 L470.90,535.74 L471.25,535.75 L471.60,535.76 L471.95,535.77 L472.30,535.78 L472.65,535.80 L473.00,535.82 L473.35,535.84 L473.70,535.86 L474.05,535.88 L474.40,535.90 L474.75,535.92 L475.10,535.94 L475.45,535.96 L475.80,535.98 L476.15,536.01 L476.50,536.03 L476.85,536.05 L477.20,536.07 L477.55,536.08 L477.90,536.10 L478.25,536.12 L478.60,536.13 L478.95,536.15 L479.30,536.16 L479.65,536.17 L480.00,536.18 L480.35,536.19 L480.70,536.20 L481.05,536.21 L481.40,536.22 L481.75,536.23 L482.10,536.23 L482.45,536.24 L482.80,536.24 L483.15,536.25 L483.50,536.25 L483.85,536.25 L484.20,536.26 L484.55,536.26 L484.90,536.26 L485.25,536.27 L485.60,536.27 L485.95,536.27 L486.30,536.27 L486.65,536.27 L487.00,536.27 L487.35,536.28 L487.70,536.28 L488.05,536.28 L488.40,536.28 L488.75,536.28 L489.10,536.28 L489.45,536.28 L489.80,536.28 L490.15,536.29 L490.50,536.29 L490.85,536.29 L491.20,536.29 L491.55,536.29 L491.90,536.29 L492.25,536.29 L492.60,536.29 L492.95,536.29 L493.30,536.29 L493.65,536.29 L494.00,536.29 L494.35,536.29 L494.70,536.29 L495.05,536.29 L495.40,536.29 L495.75,536.29 L496.10,536.30 L496.45,536.30 L496.80,536.30 L497.15,536.30 L497.50,536.30 L497.85,536.30 L498.20,536.30 L498.55,536.30 L498.90,536.30 L499.25,536.30 L499.60,536.30 L499.95,536.30 L500.30,536.30 L500.65,536.30 L501.00,536.30 L501.35,536.30 L501.70,536.30 L502.05,536.30 L502.40,536.30 L502.75,536.30 L503.10,536.30 L503.45,536.30 L503.80,536.30 L504.15,536.30 L504.50,536.30 L504.85,536.30 L505.20,536.30 L505.55,536.30 L505.90,536.30 L506.25,536.30 L506.60,536.30 L506.95,536.30 L507.30,536.30 L507.65,536.30 L508.00,536.30 L508.35,536.30 L508.70,536.30 L509.05,536.30 L509.40,536.30 L509.75,536.30 L510.10,536.30 L510.45,536.30 L510.80,536.30 L511.15,536.30 L511.50,536.30 L511.85,536.30 L512.20,536.30 L512.55,536.30 L512.90,536.30 L513.25,536.30 L513.60,536.30 L513.95,536.30 L514.30,536.30 L514.65,536.30 L515.00,536.30 L515.35,536.30 L515.70,536.30 L516.05,536.30 L516.40,536.30 L516.75,536.30 L517.10,536.30 L517.45,536.30 L517.80,536.30 L518.15,536.30 L518.50,536.30 L518.85,536.30 L519.20,536.30 L519.55,536.30 L519.90,536.30 L520.25,536.30 L520.60,536.30 L520.95,536.30 L521.30,536.30 L521.65,536.30 L522.00,536.30 L522.35,536.30 L522.70,536.30 L523.05,536.30 L523.40,536.30 L523.75,536.30 L524.10,536.30 L524.45,536.30 L524.80,536.30 L525.15,536.30 L525.50,536.30 L525.85,536.30 L526.20,536.30 L526.55,536.30 L526.90,536.30 L527.25,536.30 L527.60,536.30 L527.95,536.30 L528.30,536.30 L528.65,536.30 L529.00,536.30 L529.35,536.30 L529.70,536.30 L530.05,536.30 L530.40,536.30 L530.75,536.30 L531.10,536.30 L531.45,536.30 L531.80,536.30 L532.15,536.30 L532.50,536.30 L532.85,536.30 L533.20,536.30 L533.55,536.30 L533.90,536.30 L534.25,536.30 L534.60,536.30 L534.95,536.30 L535.30,536.30 L535.65,536.30 L536.00,536.30 L536.35,536.30 L536.70,536.30 L537.05,536.30 L537.40,536.30 L537.75,536.30 L538.10,536.30 L538.45,536.30 L538.80,536.30 L539.15,536.30 L539.50,536.30 L539.85,536.30 L540.20,536.30 L540.55,536.30 L540.90,536.30 L541.25,536.30 L541.60,536.30 L541.95,536.30 L542.30,536.30 L542.65,536.30 L543.00,536.30 L543.35,536.30 L543.70,536.30 L544.05,536.30 L544.40,536.30 L544.75,536.30 L545.10,536.30 L545.45,536.30 L545.80,536.30 L546.15,536.30 L546.50,536.30 L546.85,536.30 L547.20,536.30 L547.55,536.30 L547.90,536.30 L548.25,536.30 L548.60,536.30 L548.95,536.30 L549.30,536.30 L549.65,536.30 L550.00,536.30 L550.35,536.30 L550.70,536.30 L551.05,536.30 L551.40,536.30 L551.75,536.30 L552.10,536.30 L552.45,536.30 L552.80,536.30 L553.15,536.30 L553.50,536.30 L553.85,536.30 L554.20,536.30 L554.55,536.30 L554.90,536.30 L555.25,536.30 L555.60,536.30 L555.95,536.30 L556.30,536.30 L556.65,536.30 L557.00,536.30 L557.35,536.30 L557.70,536.30 L558.05,536.30 L558.40,536.30 L558.75,536.30 L559.10,536.30 L559.45,536.30 L559.80,536.30 L560.15,536.30 L560.50,536.30 L560.85,536.30 L561.20,536.30 L561.55,536.30 L561.90,536.30 L562.25,536.30 L562.60,536.30 L562.95,536.30 L563.30,536.30 L563.65,536.30 L564.00,536.30 L564.35,536.30 L564.70,536.30 L565.05,536.30 L565.40,536.30 L565.75,536.30 L566.10,536.30 L566.45,536.30 L566.80,536.30 L567.15,536.30 L567.50,536.30 L567.85,536.30 L568.20,536.30 L568.55,536.30 L568.90,536.30 L569.25,536.30 L569.60,536.30 L569.95,536.30 L570.30,536.30 L570.65,536.30 L571.00,536.30 L571.35,536.30 L571.70,536.30 L572.05,536.30 L572.40,536.30 L572.75,536.30 L573.10,536.30 L573.45,536.30 L573.80,536.30 L574.15,536.30 L574.50,536.30 L574.85,536.30 L575.20,536.30 L575.55,536.30 L575.90,536.30 L576.25,536.30 L576.60,536.30 L576.95,536.30 L577.30,536.30 L577.65,536.30 L578.00,536.30 L578.35,536.30 L578.70,536.30 L579.05,536.30 L579.40,536.30 L579.75,536.30 L580.10,536.30 L580.45,536.30 L580.80,536.30 L581.15,536.30 L581.50,536.30 L581.85,536.30 L582.20,536.30 L582.55,536.30 L582.90,536.30 L583.25,536.30 L583.60,536.30 L583.95,536.30 L584.30,536.30 L584.65,536.30 L585.00,536.30 L585.35,536.30 L585.70,536.30 L586.05,536.30 L586.40,536.30 L586.75,536.30 L587.10,536.30 L587.45,536.30 L587.80,536.30 L588.15,536.30 L588.50,536.30 L588.85,536.30 L589.20,536.30 L589.55,536.30 L589.90,536.30 L590.25,536.30 L590.60,536.30 L590.95,536.30 L591.30,536.30 L591.65,536.30 L592.00,536.30 L592.35,536.30 L592.70,536.30 L593.05,536.30 L593.40,536.30 L593.75,536.30 L594.10,536.30 L594.45,536.30 L594.80,536.30 L595.15,536.30 L595.50,536.30 L595.85,536.30 L596.20,536.30 L596.55,536.30 L596.90,536.30 L597.25,536.30 L597.60,536.30 L597.95,536.30 L598.30,536.30 L598.65,536.30 L599.00,536.30 L599.35,536.30 L599.70,536.30 L600.05,536.30 L600.40,536.30 L600.75,536.30 L601.10,536.30 L601.45,536.30 L601.80,536.30 L602.15,536.30 L602.50,536.30 L602.85,536.30 L603.20,536.30 L603.55,536.30 L603.90,536.30 L604.25,536.30 L604.60,536.30 L604.95,536.30 L605.30,536.30 L605.65,536.30 L606.00,536.30 L606.35,536.30 L606.70,536.30 L607.05,536.30 L607.40,536.30 L607.75,536.30 L608.10,536.30 L608.45,536.30 L608.80,536.30 L609.15,536.30 L609.50,536.30 L609.85,536.30 L610.20,536.30 L610.55,536.30 L610.90,536.30 L611.25,536.30 L611.60,536.30 L611.95,536.30 L612.30,536.30 L612.65,536.30 L613.00,536.30 L613.35,536.30 L613.70,536.30 L614.05,536.30 L614.40,536.30 L614.75,536.30 L615.10,536.30 L615.45,536.30 L615.80,536.30 L616.15,536.30 L616.50,536.30 L616.85,536.30 L617.20,536.30 L617.55,536.30 L617.90,536.30 L618.25,536.30 L618.60,536.30 L618.95,536.30 L619.30,536.30 L619.65,536.30 L620.00,536.30" fill="none" stroke="#2a2a2a" stroke-width="1.0" stroke-linejoin="round"/>
<path d="M117.40,624.00 L117.75,624.00 L118.10,624.00 L118.45,624.00 L118.80,624.00 L119.15,624.00 L119.50,624.00 L119.85,624.00 L120.20,624.00 L120.55,624.00 L120.90,624.00 L121.25,624.00 L121.60,624.00 L121.95,624.00 L122.30,624.00 L122.65,624.00 L123.00,624.00 L123.35,624.00 L123.70,624.00 L124.05,624.00 L124.40,624.00 L124.75,624.00 L125.10,624.00 L125.45,624.00 L125.80,624.00 L126.15,624.00 L126.50,624.00 L126.85,624.00 L127.20,624.00 L127.55,624.00 L127.90,624.00 L128.25,624.00 L128.60,624.00 L128.95,624.00 L129.30,624.00 L129.65,624.00 L130.00,624.00 L130.35,624.00 L130.70,624.00 L131.05,624.00 L131.40,624.00 L131.75,624.00 L132.10,624.00 L132.45,624.00 L132.80,624.00 L133.15,624.00 L133.50,624.00 L133.85,624.00 L134.20,624.00 L134.55,624.00 L134.90,624.00 L135.25,624.00 L135.60,624.00 L135.95,624.00 L136.30,624.00 L136.65,624.00 L137.00,624.00 L137.35,624.00 L137.70,624.00 L138.05,624.00 L138.40,624.00 L138.75,624.00 L139.10,624.00 L139.45,624.00 L139.80,624.00 L140.15,624.00 L140.50,624.00 L140.85,624.00 L141.20,624.00 L141.55,624.00 L141.90,624.00 L142.25,624.00 L142.60,624.00 L142.95,624.00 L143.30,624.00 L143.65,624.00 L144.00,624.00 L144.35,624.00 L144.70,624.00 L145.05,624.00 L145.40,624.00 L145.75,624.00 L146.10,624.00 L146.45,624.00 L146.80,624.00 L147.15,624.00 L147.50,624.00 L147.85,624.00 L148.20,624.00 L148.55,624.00 L148.90,624.00 L149.25,624.00 L149.60,624.00 L149.95,624.00 L150.30,624.00 L150.65,624.00 L151.00,624.00 L151.35,624.00 L151.70,624.00 L152.05,624.00 L152.40,624.00 L152.75,624.00 L153.10,624.00 L153.45,624.00 L153.80,624.00 L154.15,624.00 L154.50,624.00 L154.85,624.00 L155.20,624.00 L155.55,624.00 L155.90,624.00 L156.25,624.00 L156.60,624.00 L156.95,624.00 L157.30,624.00 L157.65,624.00 L158.00,624.00 L158.35,624.00 L158.70,623.99 L159.05,623.99 L159.40,623.99 L159.75,623.98 L160.10,623.97 L160.45,623.96 L160.80,623.94 L161.15,623.92 L161.50,623.89 L161.85,623.86 L162.20,623.80 L162.55,623.70 L162.90,623.53 L163.25,623.27 L163.60,622.89 L163.95,622.42 L164.30,621.95 L164.65,621.59 L165.00,621.46 L165.35,621.55 L165.70,621.81 L166.05,622.18 L166.40,622.59 L166.75,622.96 L167.10,623.27 L167.45,623.50 L167.80,623.65 L168.15,623.76 L168.50,623.82 L168.85,623.86 L169.20,623.89 L169.55,623.92 L169.90,623.94 L170.25,623.95 L170.60,623.96 L170.95,623.97 L171.30,623.98 L171.65,623.99 L172.00,623.99 L172.35,623.99 L172.70,623.99 L173.05,624.00 L173.40,624.00 L173.75,624.00 L174.10,624.00 L174.45,624.00 L174.80,624.00 L175.15,624.00 L175.50,624.00 L175.85,624.00 L176.20,624.00 L176.55,624.00 L176.90,624.00 L177.25,624.00 L177.60,624.00 L177.95,624.00 L178.30,624.00 L178.65,624.00 L179.00,624.00 L179.35,624.00 L179.70,624.00 L180.05,624.00 L180.40,624.00 L180.75,624.00 L181.10,624.00 L181.45,624.00 L181.80,624.00 L182.15,624.00 L182.50,624.00 L182.85,624.00 L183.20,624.00 L183.55,624.00 L183.90,624.00 L184.25,624.00 L184.60,624.00 L184.95,624.00 L185.30,624.00 L185.65,624.00 L186.00,624.00 L186.35,624.00 L186.70,624.00 L187.05,624.00 L187.40,624.00 L187.75,624.00 L188.10,624.00 L188.45,624.00 L188.80,624.00 L189.15,624.00 L189.50,624.00 L189.85,624.00 L190.20,624.00 L190.55,624.00 L190.90,624.00 L191.25,624.00 L191.60,624.00 L191.95,624.00 L192.30,624.00 L192.65,624.00 L193.00,624.00 L193.35,624.00 L193.70,624.00 L194.05,624.00 L194.40,624.00 L194.75,624.00 L195.10,624.00 L195.45,624.00 L195.80,624.00 L196.15,624.00 L196.50,624.00 L196.85,624.00 L197.20,624.00 L197.55,624.00 L197.90,624.00 L198.25,624.00 L198.60,624.00 L198.95,624.00 L199.30,624.00 L199.65,624.00 L200.00,624.00 L200.35,624.00 L200.70,624.00 L201.05,624.00 L201.40,624.00 L201.75,624.00 L202.10,624.00 L202.45,624.00 L202.80,624.00 L203.15,624.00 L203.50,624.00 L203.85,624.00 L204.20,624.00 L204.55,624.00 L204.90,624.00 L205.25,624.00 L205.60,624.00 L205.95,624.00 L206.30,624.00 L206.65,624.00 L207.00,624.00 L207.35,624.00 L207.70,624.00 L208.05,624.00 L208.40,624.00 L208.75,624.00 L209.10,624.00 L209.45,624.00 L209.80,624.00 L210.15,624.00 L210.50,624.00 L210.85,624.00 L211.20,624.00 L211.55,624.00 L211.90,624.00 L212.25,624.00 L212.60,624.00 L212.95,624.00 L213.30,624.00 L213.65,624.00 L214.00,624.00 L214.35,624.00 L214.70,624.00 L215.05,624.00 L215.40,624.00 L215.75,624.00 L216.10,624.00 L216.45,624.00 L216.80,624.00 L217.15,624.00 L217.50,624.00 L217.85,624.00 L218.20,624.00 L218.55,624.00 L218.90,624.00 L219.25,624.00 L219.60,624.00 L219.95,624.00 L220.30,624.00 L220.65,624.00 L221.00,624.00 L221.35,624.00 L221.70,624.00 L222.05,624.00 L222.40,624.00 L222.75,624.00 L223.10,624.00 L223.45,624.00 L223.80,624.00 L224.15,624.00 L224.50,624.00 L224.85,624.00 L225.20,624.00 L225.55,624.00 L225.90,624.00 L226.25,624.00 L226.60,624.00 L226.95,624.00 L227.30,624.00 L227.65,624.00 L228.00,624.00 L228.35,624.00 L228.70,624.00 L229.05,624.00 L229.40,624.00 L229.75,624.00 L230.10,624.00 L230.45,624.00 L230.80,624.00 L231.15,624.00 L231.50,624.00 L231.85,624.00 L232.20,624.00 L232.55,624.00 L232.90,624.00 L233.25,624.00 L233.60,624.00 L233.95,624.00 L234.30,624.00 L234.65,624.00 L235.00,624.00 L235.35,624.00 L235.70,624.00 L236.05,624.00 L236.40,624.00 L236.75,624.00 L237.10,624.00 L237.45,624.00 L237.80,624.00 L238.15,624.00 L238.50,623.99 L238.85,623.99 L239.20,623.98 L239.55,623.98 L239.90,623.97 L240.25,623.96 L240.60,623.95 L240.95,623.93 L241.30,623.89 L241.65,623.84 L242.00,623.74 L242.35,623.61 L242.70,623.44 L243.05,623.26 L243.40,623.11 L243.75,623.05 L244.10,623.07 L244.45,623.16 L244.80,623.30 L245.15,623.45 L245.50,623.59 L245.85,623.71 L246.20,623.80 L246.55,623.86 L246.90,623.90 L247.25,623.93 L247.60,623.95 L247.95,623.96 L248.30,623.97 L248.65,623.98 L249.00,623.98 L249.35,623.99 L249.70,623.99 L250.05,623.99 L250.40,623.99 L250.75,624.00 L251.10,624.00 L251.45,624.00 L251.80,624.00 L252.15,624.00 L252.50,624.00 L252.85,624.00 L253.20,624.00 L253.55,624.00 L253.90,624.00 L254.25,624.00 L254.60,624.00 L254.95,624.00 L255.30,624.00 L255.65,624.00 L256.00,623.99 L256.35,623.99 L256.70,623.98 L257.05,623.98 L257.40,623.97 L257.75,623.95 L258.10,623.94 L258.45,623.91 L258.80,623.89 L259.15,623.84 L259.50,623.78 L259.85,623.66 L260.20,623.47 L260.55,623.17 L260.90,622.76 L261.25,622.28 L261.60,621.83 L261.95,621.53 L262.30,621.47 L262.65,621.61 L263.00,621.91 L263.35,622.30 L263.70,622.70 L264.05,623.06 L264.40,623.34 L264.75,623.55 L265.10,623.69 L265.45,623.78 L265.80,623.84 L266.15,623.87 L266.50,623.90 L266.85,623.92 L267.20,623.94 L267.55,623.95 L267.90,623.97 L268.25,623.97 L268.60,623.98 L268.95,623.99 L269.30,623.99 L269.65,623.99 L270.00,624.00 L270.35,624.00 L270.70,624.00 L271.05,624.00 L271.40,624.00 L271.75,624.00 L272.10,624.00 L272.45,624.00 L272.80,624.00 L273.15,624.00 L273.50,624.00 L273.85,624.00 L274.20,624.00 L274.55,624.00 L274.90,624.00 L275.25,624.00 L275.60,624.00 L275.95,624.00 L276.30,624.00 L276.65,624.00 L277.00,624.00 L277.35,624.00 L277.70,624.00 L278.05,623.99 L278.40,623.99 L278.75,623.98 L279.10,623.97 L279.45,623.96 L279.80,623.95 L280.15,623.92 L280.50,623.90 L280.85,623.86 L281.20,623.81 L281.55,623.74 L281.90,623.62 L282.25,623.42 L282.60,623.09 L282.95,622.60 L283.30,621.95 L283.65,621.22 L284.00,620.59 L284.35,620.23 L284.70,620.24 L285.05,620.53 L285.40,621.02 L285.75,621.62 L286.10,622.21 L286.45,622.72 L286.80,623.11 L287.15,623.39 L287.50,623.58 L287.85,623.70 L288.20,623.77 L288.55,623.82 L288.90,623.86 L289.25,623.89 L289.60,623.92 L289.95,623.94 L290.30,623.95 L290.65,623.96 L291.00,623.97 L291.35,623.98 L291.70,623.99 L292.05,623.99 L292.40,623.99 L292.75,624.00 L293.10,624.00 L293.45,624.00 L293.80,624.00 L294.15,624.00 L294.50,624.00 L294.85,624.00 L295.20,624.00 L295.55,624.00 L295.90,624.00 L296.25,624.00 L296.60,624.00 L296.95,624.00 L297.30,624.00 L297.65,624.00 L298.00,624.00 L298.35,624.00 L298.70,624.00 L299.05,624.00 L299.40,624.00 L299.75,624.00 L300.10,624.00 L300.45,624.00 L300.80,624.00 L301.15,624.00 L301.50,624.00 L301.85,624.00 L302.20,624.00 L302.55,624.00 L302.90,624.00 L303.25,624.00 L303.60,624.00 L303.95,624.00 L304.30,624.00 L304.65,624.00 L305.00,624.00 L305.35,624.00 L305.70,624.00 L306.05,624.00 L306.40,624.00 L306.75,624.00 L307.10,624.00 L307.45,624.00 L307.80,624.00 L308.15,624.00 L308.50,624.00 L308.85,624.00 L309.20,624.00 L309.55,624.00 L309.90,624.00 L310.25,624.00 L310.60,624.00 L310.95,624.00 L311.30,624.00 L311.65,624.00 L312.00,624.00 L312.35,624.00 L312.70,624.00 L313.05,624.00 L313.40,624.00 L313.75,624.00 L314.10,624.00 L314.45,624.00 L314.80,624.00 L315.15,624.00 L315.50,623.99 L315.85,623.99 L316.20,623.98 L316.55,623.97 L316.90,623.95 L317.25,623.92 L317.60,623.88 L317.95,623.83 L318.30,623.75 L318.65,623.66 L319.00,623.54 L319.35,623.38 L319.70,623.16 L320.05,622.83 L320.40,622.27 L320.75,621.32 L321.10,619.79 L321.45,617.57 L321.80,614.77 L322.15,611.85 L322.50,609.51 L322.85,608.46 L323.20,608.87 L323.55,610.33 L323.90,612.52 L324.25,614.98 L324.60,617.32 L324.95,619.28 L325.30,620.75 L325.65,621.77 L326.00,622.43 L326.35,622.86 L326.70,623.14 L327.05,623.33 L327.40,623.48 L327.75,623.59 L328.10,623.69 L328.45,623.76 L328.80,623.82 L329.15,623.87 L329.50,623.90 L329.85,623.93 L330.20,623.95 L330.55,623.97 L330.90,623.98 L331.25,623.99 L331.60,623.99 L331.95,623.99 L332.30,624.00 L332.65,624.00 L333.00,624.00 L333.35,624.00 L333.70,624.00 L334.05,624.00 L334.40,624.00 L334.75,623.99 L335.10,623.99 L335.45,623.98 L335.80,623.97 L336.15,623.96 L336.50,623.94 L336.85,623.91 L337.20,623.86 L337.55,623.81 L337.90,623.74 L338.25,623.65 L338.60,623.53 L338.95,623.35 L339.30,623.07 L339.65,622.60 L340.00,621.81 L340.35,620.58 L340.70,618.90 L341.05,616.93 L341.40,615.06 L341.75,613.81 L342.10,613.55 L342.45,614.16 L342.80,615.38 L343.15,616.97 L343.50,618.63 L343.85,620.11 L344.20,621.28 L344.55,622.13 L344.90,622.71 L345.25,623.07 L345.60,623.31 L345.95,623.46 L346.30,623.57 L346.65,623.64 L347.00,623.69 L347.35,623.72 L347.70,623.72 L348.05,623.71 L348.40,623.68 L348.75,623.62 L349.10,623.51 L349.45,623.32 L349.80,622.99 L350.15,622.43 L350.50,621.57 L350.85,620.41 L351.20,619.09 L351.55,617.89 L351.90,617.14 L352.25,617.06 L352.60,617.53 L352.95,618.40 L353.30,619.47 L353.65,620.57 L354.00,621.53 L354.35,622.28 L354.70,622.82 L355.05,623.18 L355.40,623.42 L355.75,623.56 L356.10,623.67 L356.45,623.74 L356.80,623.80 L357.15,623.84 L357.50,623.88 L357.85,623.91 L358.20,623.93 L358.55,623.94 L358.90,623.95 L359.25,623.96 L359.60,623.96 L359.95,623.95 L360.30,623.95 L360.65,623.93 L361.00,623.91 L361.35,623.87 L361.70,623.80 L362.05,623.69 L362.40,623.52 L362.75,623.29 L363.10,623.01 L363.45,622.75 L363.80,622.55 L364.15,622.44 L364.50,622.41 L364.85,622.42 L365.20,622.42 L365.55,622.36 L365.90,622.15 L366.25,621.67 L366.60,620.72 L366.95,619.04 L367.30,616.41 L367.65,612.85 L368.00,608.78 L368.35,605.06 L368.70,602.75 L369.05,602.53 L369.40,603.99 L369.75,606.67 L370.10,610.00 L370.45,613.38 L370.80,616.36 L371.15,618.69 L371.50,620.36 L371.85,621.47 L372.20,622.19 L372.55,622.65 L372.90,622.97 L373.25,623.20 L373.60,623.37 L373.95,623.51 L374.30,623.62 L374.65,623.72 L375.00,623.79 L375.35,623.84 L375.70,623.88 L376.05,623.91 L376.40,623.92 L376.75,623.93 L377.10,623.92 L377.45,623.91 L377.80,623.89 L378.15,623.85 L378.50,623.81 L378.85,623.74 L379.20,623.62 L379.55,623.42 L379.90,623.09 L380.25,622.59 L380.60,621.93 L380.95,621.20 L381.30,620.56 L381.65,620.18 L382.00,620.17 L382.35,620.44 L382.70,620.90 L383.05,621.45 L383.40,621.99 L383.75,622.42 L384.10,622.68 L384.45,622.75 L384.80,622.59 L385.15,622.14 L385.50,621.41 L385.85,620.48 L386.20,619.51 L386.55,618.78 L386.90,618.52 L387.25,618.74 L387.60,619.31 L387.95,620.10 L388.30,620.97 L388.65,621.77 L389.00,622.43 L389.35,622.92 L389.70,623.25 L390.05,623.46 L390.40,623.59 L390.75,623.67 L391.10,623.70 L391.45,623.70 L391.80,623.67 L392.15,623.60 L392.50,623.48 L392.85,623.30 L393.20,623.05 L393.55,622.71 L393.90,622.26 L394.25,621.67 L394.60,620.87 L394.95,619.67 L395.30,617.71 L395.65,614.38 L396.00,608.89 L396.35,600.64 L396.70,589.76 L397.05,577.70 L397.40,567.14 L397.75,561.13 L398.10,561.28 L398.45,566.14 L398.80,574.39 L399.15,584.31 L399.50,594.15 L399.85,602.65 L400.20,609.22 L400.55,613.86 L400.90,616.94 L401.25,618.92 L401.60,620.20 L401.95,621.08 L402.30,621.72 L402.65,622.22 L403.00,622.62 L403.35,622.94 L403.70,623.20 L404.05,623.41 L404.40,623.57 L404.75,623.69 L405.10,623.78 L405.45,623.84 L405.80,623.89 L406.15,623.91 L406.50,623.92 L406.85,623.91 L407.20,623.89 L407.55,623.85 L407.90,623.78 L408.25,623.67 L408.60,623.53 L408.95,623.34 L409.30,623.10 L409.65,622.78 L410.00,622.36 L410.35,621.77 L410.70,620.85 L411.05,619.31 L411.40,616.71 L411.75,612.57 L412.10,606.65 L412.45,599.37 L412.80,592.00 L413.15,586.41 L413.50,584.31 L413.85,585.78 L414.20,589.84 L414.55,595.59 L414.90,601.89 L415.25,607.75 L415.60,612.57 L415.95,616.14 L416.30,618.59 L416.65,620.18 L417.00,621.21 L417.35,621.88 L417.70,622.35 L418.05,622.71 L418.40,622.98 L418.75,623.20 L419.10,623.37 L419.45,623.49 L419.80,623.58 L420.15,623.62 L420.50,623.62 L420.85,623.58 L421.20,623.50 L421.55,623.37 L421.90,623.19 L422.25,622.93 L422.60,622.50 L422.95,621.79 L423.30,620.57 L423.65,618.62 L424.00,615.84 L424.35,612.41 L424.70,608.94 L425.05,606.31 L425.40,605.32 L425.75,606.01 L426.10,607.91 L426.45,610.60 L426.80,613.55 L427.15,616.29 L427.50,618.53 L427.85,620.17 L428.20,621.28 L428.55,621.97 L428.90,622.37 L429.25,622.55 L429.60,622.55 L429.95,622.34 L430.30,621.87 L430.65,621.14 L431.00,620.22 L431.35,619.31 L431.70,618.66 L432.05,618.49 L432.40,618.77 L432.75,619.39 L433.10,620.20 L433.45,621.05 L433.80,621.83 L434.15,622.44 L434.50,622.87 L434.85,623.15 L435.20,623.30 L435.55,623.35 L435.90,623.35 L436.25,623.28 L436.60,623.15 L436.95,622.91 L437.30,622.48 L437.65,621.72 L438.00,620.50 L438.35,618.79 L438.70,616.73 L439.05,614.71 L439.40,613.26 L439.75,612.83 L440.10,613.35 L440.45,614.57 L440.80,616.22 L441.15,617.97 L441.50,619.57 L441.85,620.85 L442.20,621.79 L442.55,622.42 L442.90,622.81 L443.25,623.06 L443.60,623.21 L443.95,623.30 L444.30,623.35 L444.65,623.38 L445.00,623.39 L445.35,623.38 L445.70,623.35 L446.05,623.31 L446.40,623.25 L446.75,623.19 L447.10,623.12 L447.45,623.05 L447.80,622.98 L448.15,622.92 L448.50,622.86 L448.85,622.81 L449.20,622.77 L449.55,622.74 L449.90,622.73 L450.25,622.73 L450.60,622.74 L450.95,622.76 L451.30,622.79 L451.65,622.82 L452.00,622.86 L452.35,622.91 L452.70,622.96 L453.05,623.02 L453.40,623.07 L453.75,623.13 L454.10,623.19 L454.45,623.26 L454.80,623.32 L455.15,623.37 L455.50,623.43 L455.85,623.48 L456.20,623.53 L456.55,623.58 L456.90,623.62 L457.25,623.66 L457.60,623.70 L457.95,623.73 L458.30,623.76 L458.65,623.78 L459.00,623.81 L459.35,623.83 L459.70,623.85 L460.05,623.86 L460.40,623.87 L460.75,623.89 L461.10,623.90 L461.45,623.91 L461.80,623.91 L462.15,623.92 L462.50,623.93 L462.85,623.93 L463.20,623.94 L463.55,623.94 L463.90,623.95 L464.25,623.95 L464.60,623.95 L464.95,623.96 L465.30,623.96 L465.65,623.96 L466.00,623.97 L466.35,623.97 L466.70,623.97 L467.05,623.97 L467.40,623.97 L467.75,623.98 L468.10,623.98 L468.45,623.98 L468.80,623.98 L469.15,623.98 L469.50,623.98 L469.85,623.99 L470.20,623.99 L470.55,623.99 L470.90,623.99 L471.25,623.99 L471.60,623.99 L471.95,623.99 L472.30,623.99 L472.65,623.99 L473.00,623.99 L473.35,623.99 L473.70,624.00 L474.05,624.00 L474.40,624.00 L474.75,624.00 L475.10,624.00 L475.45,624.00 L475.80,624.00 L476.15,624.00 L476.50,624.00 L476.85,624.00 L477.20,624.00 L477.55,624.00 L477.90,624.00 L478.25,624.00 L478.60,624.00 L478.95,624.00 L479.30,624.00 L479.65,624.00 L480.00,624.00 L480.35,624.00 L480.70,624.00 L481.05,624.00 L481.40,624.00 L481.75,624.00 L482.10,624.00 L482.45,624.00 L482.80,624.00 L483.15,624.00 L483.50,624.00 L483.85,624.00 L484.20,624.00 L484.55,624.00 L484.90,624.00 L485.25,624.00 L485.60,624.00 L485.95,624.00 L486.30,624.00 L486.65,624.00 L487.00,624.00 L487.35,624.00 L487.70,624.00 L488.05,624.00 L488.40,624.00 L488.75,624.00 L489.10,624.00 L489.45,624.00 L489.80,624.00 L490.15,624.00 L490.50,624.00 L490.85,624.00 L491.20,624.00 L491.55,624.00 L491.90,624.00 L492.25,624.00 L492.60,624.00 L492.95,624.00 L493.30,624.00 L493.65,624.00 L494.00,624.00 L494.35,624.00 L494.70,624.00 L495.05,624.00 L495.40,624.00 L495.75,624.00 L496.10,624.00 L496.45,624.00 L496.80,624.00 L497.15,624.00 L497.50,624.00 L497.85,624.00 L498.20,624.00 L498.55,624.00 L498.90,624.00 L499.25,624.00 L499.60,624.00 L499.95,624.00 L500.30,624.00 L500.65,624.00 L501.00,624.00 L501.35,624.00 L501.70,624.00 L502.05,624.00 L502.40,624.00 L502.75,624.00 L503.10,624.00 L503.45,624.00 L503.80,624.00 L504.15,624.00 L504.50,624.00 L504.85,624.00 L505.20,624.00 L505.55,624.00 L505.90,624.00 L506.25,624.00 L506.60,624.00 L506.95,624.00 L507.30,624.00 L507.65,624.00 L508.00,624.00 L508.35,624.00 L508.70,624.00 L509.05,624.00 L509.40,624.00 L509.75,624.00 L510.10,624.00 L510.45,624.00 L510.80,624.00 L511.15,624.00 L511.50,624.00 L511.85,624.00 L512.20,624.00 L512.55,624.00 L512.90,624.00 L513.25,624.00 L513.60,624.00 L513.95,624.00 L514.30,624.00 L514.65,624.00 L515.00,624.00 L515.35,624.00 L515.70,624.00 L516.05,624.00 L516.40,624.00 L516.75,624.00 L517.10,624.00 L517.45,624.00 L517.80,624.00 L518.15,624.00 L518.50,624.00 L518.85,624.00 L519.20,624.00 L519.55,624.00 L519.90,624.00 L520.25,624.00 L520.60,624.00 L520.95,624.00 L521.30,624.00 L521.65,624.00 L522.00,624.00 L522.35,624.00 L522.70,624.00 L523.05,624.00 L523.40,624.00 L523.75,624.00 L524.10,624.00 L524.45,624.00 L524.80,624.00 L525.15,624.00 L525.50,624.00 L525.85,624.00 L526.20,624.00 L526.55,624.00 L526.90,624.00 L527.25,624.00 L527.60,624.00 L527.95,624.00 L528.30,624.00 L528.65,624.00 L529.00,624.00 L529.35,624.00 L529.70,624.00 L530.05,624.00 L530.40,624.00 L530.75,624.00 L531.10,624.00 L531.45,624.00 L531.80,624.00 L532.15,624.00 L532.50,624.00 L532.85,624.00 L533.20,624.00 L533.55,624.00 L533.90,624.00 L534.25,624.00 L534.60,624.00 L534.95,624.00 L535.30,624.00 L535.65,624.00 L536.00,624.00 L536.35,624.00 L536.70,624.00 L537.05,624.00 L537.40,624.00 L537.75,624.00 L538.10,624.00 L538.45,624.00 L538.80,624.00 L539.15,624.00 L539.50,624.00 L539.85,624.00 L540.20,624.00 L540.55,624.00 L540.90,624.00 L541.25,624.00 L541.60,624.00 L541.95,624.00 L542.30,624.00 L542.65,624.00 L543.00,624.00 L543.35,624.00 L543.70,624.00 L544.05,624.00 L544.40,624.00 L544.75,624.00 L545.10,624.00 L545.45,624.00 L545.80,624.00 L546.15,624.00 L546.50,624.00 L546.85,624.00 L547.20,624.00 L547.55,624.00 L547.90,624.00 L548.25,624.00 L548.60,624.00 L548.95,624.00 L549.30,624.00 L549.65,624.00 L550.00,624.00 L550.35,624.00 L550.70,624.00 L551.05,624.00 L551.40,624.00 L551.75,624.00 L552.10,624.00 L552.45,624.00 L552.80,624.00 L553.15,624.00 L553.50,624.00 L553.85,624.00 L554.20,624.00 L554.55,624.00 L554.90,624.00 L555.25,624.00 L555.60,624.00 L555.95,624.00 L556.30,624.00 L556.65,624.00 L557.00,624.00 L557.35,624.00 L557.70,624.00 L558.05,624.00 L558.40,624.00 L558.75,624.00 L559.10,624.00 L559.45,624.00 L559.80,624.00 L560.15,624.00 L560.50,624.00 L560.85,624.00 L561.20,624.00 L561.55,624.00 L561.90,624.00 L562.25,624.00 L562.60,624.00 L562.95,624.00 L563.30,624.00 L563.65,624.00 L564.00,624.00 L564.35,624.00 L564.70,624.00 L565.05,624.00 L565.40,624.00 L565.75,624.00 L566.10,624.00 L566.45,624.00 L566.80,624.00 L567.15,624.00 L567.50,624.00 L567.85,624.00 L568.20,624.00 L568.55,624.00 L568.90,624.00 L569.25,624.00 L569.60,624.00 L569.95,624.00 L570.30,624.00 L570.65,624.00 L571.00,624.00 L571.35,624.00 L571.70,624.00 L572.05,624.00 L572.40,624.00 L572.75,624.00 L573.10,624.00 L573.45,624.00 L573.80,624.00 L574.15,624.00 L574.50,624.00 L574.85,624.00 L575.20,624.00 L575.55,624.00 L575.90,624.00 L576.25,624.00 L576.60,624.00 L576.95,624.00 L577.30,624.00 L577.65,624.00 L578.00,624.00 L578.35,624.00 L578.70,624.00 L579.05,624.00 L579.40,624.00 L579.75,624.00 L580.10,624.00 L580.45,624.00 L580.80,624.00 L581.15,624.00 L581.50,624.00 L581.85,624.00 L582.20,624.00 L582.55,624.00 L582.90,624.00 L583.25,624.00 L583.60,624.00 L583.95,624.00 L584.30,624.00 L584.65,624.00 L585.00,624.00 L585.35,624.00 L585.70,624.00 L586.05,624.00 L586.40,624.00 L586.75,624.00 L587.10,624.00 L587.45,624.00 L587.80,624.00 L588.15,624.00 L588.50,624.00 L588.85,624.00 L589.20,624.00 L589.55,624.00 L589.90,624.00 L590.25,624.00 L590.60,624.00 L590.95,624.00 L591.30,624.00 L591.65,624.00 L592.00,624.00 L592.35,624.00 L592.70,624.00 L593.05,624.00 L593.40,624.00 L593.75,624.00 L594.10,624.00 L594.45,624.00 L594.80,624.00 L595.15,624.00 L595.50,624.00 L595.85,624.00 L596.20,624.00 L596.55,624.00 L596.90,624.00 L597.25,624.00 L597.60,624.00 L597.95,624.00 L598.30,624.00 L598.65,624.00 L599.00,624.00 L599.35,624.00 L599.70,624.00 L600.05,624.00 L600.40,624.00 L600.75,624.00 L601.10,624.00 L601.45,624.00 L601.80,624.00 L602.15,624.00 L602.50,624.00 L602.85,624.00 L603.20,624.00 L603.55,624.00 L603.90,624.00 L604.25,624.00 L604.60,624.00 L604.95,624.00 L605.30,624.00 L605.65,624.00 L606.00,624.00 L606.35,624.00 L606.70,624.00 L607.05,624.00 L607.40,624.00 L607.75,624.00 L608.10,624.00 L608.45,624.00 L608.80,624.00 L609.15,624.00 L609.50,624.00 L609.85,624.00 L610.20,624.00 L610.55,624.00 L610.90,624.00 L611.25,624.00 L611.60,624.00 L611.95,624.00 L612.30,624.00 L612.65,624.00 L613.00,624.00 L613.35,624.00 L613.70,624.00 L614.05,624.00 L614.40,624.00 L614.75,624.00 L615.10,624.00 L615.45,624.00 L615.80,624.00 L616.15,624.00 L616.50,624.00 L616.85,624.00 L617.20,624.00 L617.55,624.00 L617.90,624.00 L618.25,624.00 L618.60,624.00 L618.95,624.00 L619.30,624.00 L619.65,624.00 L620.00,624.00" fill="none" stroke="#ff2a2a" stroke-width="1.0" stroke-linejoin="round"/>
<path d="M117.40,707.60 L117.75,707.60 L118.10,707.60 L118.45,707.60 L118.80,707.60 L119.15,707.60 L119.50,707.60 L119.85,707.60 L120.20,707.60 L120.55,707.60 L120.90,707.60 L121.25,707.60 L121.60,707.60 L121.95,707.60 L122.30,707.60 L122.65,707.60 L123.00,707.60 L123.35,707.60 L123.70,707.60 L124.05,707.60 L124.40,707.60 L124.75,707.60 L125.10,707.60 L125.45,707.60 L125.80,707.60 L126.15,707.60 L126.50,707.60 L126.85,707.60 L127.20,707.60 L127.55,707.60 L127.90,707.60 L128.25,707.60 L128.60,707.60 L128.95,707.60 L129.30,707.60 L129.65,707.60 L130.00,707.60 L130.35,707.60 L130.70,707.60 L131.05,707.60 L131.40,707.60 L131.75,707.60 L132.10,707.60 L132.45,707.60 L132.80,707.60 L133.15,707.60 L133.50,707.60 L133.85,707.60 L134.20,707.60 L134.55,707.60 L134.90,707.60 L135.25,707.60 L135.60,707.60 L135.95,707.60 L136.30,707.60 L136.65,707.60 L137.00,707.60 L137.35,707.60 L137.70,707.60 L138.05,707.60 L138.40,707.60 L138.75,707.60 L139.10,707.60 L139.45,707.60 L139.80,707.60 L140.15,707.60 L140.50,707.60 L140.85,707.60 L141.20,707.60 L141.55,707.60 L141.90,707.60 L142.25,707.60 L142.60,707.60 L142.95,707.60 L143.30,707.60 L143.65,707.60 L144.00,707.60 L144.35,707.60 L144.70,707.60 L145.05,707.60 L145.40,707.60 L145.75,707.60 L146.10,707.60 L146.45,707.60 L146.80,707.60 L147.15,707.60 L147.50,707.60 L147.85,707.60 L148.20,707.60 L148.55,707.60 L148.90,707.60 L149.25,707.60 L149.60,707.60 L149.95,707.60 L150.30,707.60 L150.65,707.60 L151.00,707.60 L151.35,707.60 L151.70,707.60 L152.05,707.60 L152.40,707.60 L152.75,707.60 L153.10,707.60 L153.45,707.60 L153.80,707.60 L154.15,707.60 L154.50,707.60 L154.85,707.60 L155.20,707.60 L155.55,707.60 L155.90,707.60 L156.25,707.60 L156.60,707.60 L156.95,707.60 L157.30,707.60 L157.65,707.60 L158.00,707.60 L158.35,707.60 L158.70,707.60 L159.05,707.60 L159.40,707.60 L159.75,707.60 L160.10,707.60 L160.45,707.60 L160.80,707.60 L161.15,707.60 L161.50,707.60 L161.85,707.60 L162.20,707.60 L162.55,707.60 L162.90,707.60 L163.25,707.60 L163.60,707.60 L163.95,707.60 L164.30,707.60 L164.65,707.60 L165.00,707.60 L165.35,707.60 L165.70,707.60 L166.05,707.60 L166.40,707.60 L166.75,707.60 L167.10,707.60 L167.45,707.60 L167.80,707.60 L168.15,707.60 L168.50,707.60 L168.85,707.60 L169.20,707.60 L169.55,707.60 L169.90,707.60 L170.25,707.60 L170.60,707.60 L170.95,707.60 L171.30,707.60 L171.65,707.60 L172.00,707.60 L172.35,707.60 L172.70,707.60 L173.05,707.60 L173.40,707.60 L173.75,707.60 L174.10,707.60 L174.45,707.60 L174.80,707.60 L175.15,707.60 L175.50,707.60 L175.85,707.60 L176.20,707.60 L176.55,707.60 L176.90,707.60 L177.25,707.60 L177.60,707.60 L177.95,707.60 L178.30,707.60 L178.65,707.60 L179.00,707.60 L179.35,707.60 L179.70,707.60 L180.05,707.60 L180.40,707.60 L180.75,707.60 L181.10,707.60 L181.45,707.60 L181.80,707.60 L182.15,707.60 L182.50,707.59 L182.85,707.59 L183.20,707.59 L183.55,707.58 L183.90,707.57 L184.25,707.56 L184.60,707.54 L184.95,707.51 L185.30,707.49 L185.65,707.45 L186.00,707.39 L186.35,707.30 L186.70,707.15 L187.05,706.90 L187.40,706.50 L187.75,705.95 L188.10,705.28 L188.45,704.63 L188.80,704.16 L189.15,704.03 L189.50,704.20 L189.85,704.59 L190.20,705.12 L190.55,705.69 L190.90,706.20 L191.25,706.62 L191.60,706.93 L191.95,707.14 L192.30,707.27 L192.65,707.36 L193.00,707.42 L193.35,707.46 L193.70,707.49 L194.05,707.51 L194.40,707.53 L194.75,707.55 L195.10,707.56 L195.45,707.57 L195.80,707.58 L196.15,707.59 L196.50,707.59 L196.85,707.59 L197.20,707.60 L197.55,707.60 L197.90,707.60 L198.25,707.60 L198.60,707.60 L198.95,707.60 L199.30,707.60 L199.65,707.60 L200.00,707.60 L200.35,707.60 L200.70,707.60 L201.05,707.60 L201.40,707.60 L201.75,707.60 L202.10,707.60 L202.45,707.60 L202.80,707.60 L203.15,707.60 L203.50,707.60 L203.85,707.60 L204.20,707.60 L204.55,707.60 L204.90,707.60 L205.25,707.60 L205.60,707.60 L205.95,707.60 L206.30,707.60 L206.65,707.60 L207.00,707.60 L207.35,707.60 L207.70,707.60 L208.05,707.60 L208.40,707.60 L208.75,707.60 L209.10,707.60 L209.45,707.60 L209.80,707.60 L210.15,707.60 L210.50,707.60 L210.85,707.60 L211.20,707.60 L211.55,707.60 L211.90,707.60 L212.25,707.60 L212.60,707.60 L212.95,707.60 L213.30,707.60 L213.65,707.60 L214.00,707.60 L214.35,707.60 L214.70,707.60 L215.05,707.60 L215.40,707.60 L215.75,707.60 L216.10,707.60 L216.45,707.60 L216.80,707.60 L217.15,707.60 L217.50,707.60 L217.85,707.60 L218.20,707.60 L218.55,707.60 L218.90,707.60 L219.25,707.60 L219.60,707.60 L219.95,707.60 L220.30,707.60 L220.65,707.60 L221.00,707.60 L221.35,707.60 L221.70,707.60 L222.05,707.60 L222.40,707.60 L222.75,707.60 L223.10,707.60 L223.45,707.60 L223.80,707.60 L224.15,707.60 L224.50,707.60 L224.85,707.60 L225.20,707.60 L225.55,707.60 L225.90,707.60 L226.25,707.60 L226.60,707.60 L226.95,707.60 L227.30,707.60 L227.65,707.60 L228.00,707.60 L228.35,707.60 L228.70,707.60 L229.05,707.60 L229.40,707.60 L229.75,707.60 L230.10,707.60 L230.45,707.60 L230.80,707.60 L231.15,707.59 L231.50,707.59 L231.85,707.59 L232.20,707.58 L232.55,707.58 L232.90,707.57 L233.25,707.56 L233.60,707.55 L233.95,707.53 L234.30,707.49 L234.65,707.42 L235.00,707.33 L235.35,707.19 L235.70,707.02 L236.05,706.86 L236.40,706.74 L236.75,706.71 L237.10,706.75 L237.45,706.85 L237.80,706.98 L238.15,707.12 L238.50,707.25 L238.85,707.36 L239.20,707.43 L239.55,707.48 L239.90,707.52 L240.25,707.54 L240.60,707.55 L240.95,707.56 L241.30,707.57 L241.65,707.58 L242.00,707.58 L242.35,707.59 L242.70,707.59 L243.05,707.59 L243.40,707.60 L243.75,707.60 L244.10,707.60 L244.45,707.60 L244.80,707.60 L245.15,707.60 L245.50,707.60 L245.85,707.60 L246.20,707.60 L246.55,707.60 L246.90,707.60 L247.25,707.60 L247.60,707.60 L247.95,707.60 L248.30,707.60 L248.65,707.60 L249.00,707.60 L249.35,707.60 L249.70,707.60 L250.05,707.59 L250.40,707.59 L250.75,707.59 L251.10,707.58 L251.45,707.58 L251.80,707.57 L252.15,707.56 L252.50,707.55 L252.85,707.53 L253.20,707.49 L253.55,707.42 L253.90,707.33 L254.25,707.19 L254.60,707.02 L254.95,706.86 L255.30,706.74 L255.65,706.70 L256.00,706.75 L256.35,706.84 L256.70,706.97 L257.05,707.11 L257.40,707.23 L257.75,707.33 L258.10,707.39 L258.45,707.43 L258.80,707.44 L259.15,707.43 L259.50,707.41 L259.85,707.36 L260.20,707.27 L260.55,707.12 L260.90,706.86 L261.25,706.48 L261.60,706.00 L261.95,705.50 L262.30,705.10 L262.65,704.92 L263.00,704.99 L263.35,705.24 L263.70,705.62 L264.05,706.04 L264.40,706.45 L264.75,706.79 L265.10,707.04 L265.45,707.21 L265.80,707.33 L266.15,707.40 L266.50,707.45 L266.85,707.49 L267.20,707.51 L267.55,707.53 L267.90,707.55 L268.25,707.56 L268.60,707.57 L268.95,707.58 L269.30,707.58 L269.65,707.59 L270.00,707.59 L270.35,707.59 L270.70,707.60 L271.05,707.60 L271.40,707.60 L271.75,707.60 L272.10,707.60 L272.45,707.60 L272.80,707.60 L273.15,707.60 L273.50,707.60 L273.85,707.60 L274.20,707.60 L274.55,707.60 L274.90,707.60 L275.25,707.60 L275.60,707.60 L275.95,707.60 L276.30,707.60 L276.65,707.60 L277.00,707.60 L277.35,707.60 L277.70,707.60 L278.05,707.60 L278.40,707.59 L278.75,707.59 L279.10,707.59 L279.45,707.58 L279.80,707.57 L280.15,707.55 L280.50,707.53 L280.85,707.50 L281.20,707.47 L281.55,707.42 L281.90,707.36 L282.25,707.27 L282.60,707.13 L282.95,706.88 L283.30,706.48 L283.65,705.85 L284.00,704.99 L284.35,703.98 L284.70,703.02 L285.05,702.38 L285.40,702.25 L285.75,702.56 L286.10,703.19 L286.45,704.00 L286.80,704.85 L287.15,705.60 L287.50,706.21 L287.85,706.64 L288.20,706.93 L288.55,707.12 L288.90,707.24 L289.25,707.31 L289.60,707.36 L289.95,707.40 L290.30,707.42 L290.65,707.43 L291.00,707.42 L291.35,707.39 L291.70,707.31 L292.05,707.18 L292.40,707.00 L292.75,706.78 L293.10,706.57 L293.45,706.43 L293.80,706.41 L294.15,706.48 L294.50,706.62 L294.85,706.80 L295.20,706.99 L295.55,707.16 L295.90,707.29 L296.25,707.39 L296.60,707.45 L296.95,707.50 L297.30,707.52 L297.65,707.54 L298.00,707.55 L298.35,707.56 L298.70,707.57 L299.05,707.58 L299.40,707.58 L299.75,707.58 L300.10,707.59 L300.45,707.59 L300.80,707.58 L301.15,707.58 L301.50,707.57 L301.85,707.57 L302.20,707.55 L302.55,707.54 L302.90,707.52 L303.25,707.49 L303.60,707.44 L303.95,707.35 L304.30,707.21 L304.65,706.99 L305.00,706.69 L305.35,706.33 L305.70,705.98 L306.05,705.72 L306.40,705.61 L306.75,705.62 L307.10,705.71 L307.45,705.84 L307.80,705.92 L308.15,705.91 L308.50,705.70 L308.85,705.18 L309.20,704.15 L309.55,702.36 L309.90,699.67 L310.25,696.18 L310.60,692.40 L310.95,689.23 L311.30,687.59 L311.65,687.86 L312.00,689.54 L312.35,692.19 L312.70,695.23 L313.05,698.11 L313.40,700.41 L313.75,701.96 L314.10,702.81 L314.45,703.16 L314.80,703.29 L315.15,703.47 L315.50,703.81 L315.85,704.29 L316.20,704.86 L316.55,705.45 L316.90,706.00 L317.25,706.46 L317.60,706.80 L317.95,707.04 L318.30,707.21 L318.65,707.31 L319.00,707.39 L319.35,707.43 L319.70,707.47 L320.05,707.49 L320.40,707.51 L320.75,707.52 L321.10,707.52 L321.45,707.52 L321.80,707.50 L322.15,707.47 L322.50,707.40 L322.85,707.30 L323.20,707.15 L323.55,706.98 L323.90,706.82 L324.25,706.70 L324.60,706.66 L324.95,706.69 L325.30,706.76 L325.65,706.85 L326.00,706.94 L326.35,706.99 L326.70,706.99 L327.05,706.93 L327.40,706.79 L327.75,706.51 L328.10,706.01 L328.45,705.15 L328.80,703.83 L329.15,702.04 L329.50,700.00 L329.85,698.13 L330.20,696.95 L330.55,696.80 L330.90,697.48 L331.25,698.75 L331.60,700.31 L331.95,701.84 L332.30,703.06 L332.65,703.80 L333.00,703.98 L333.35,703.67 L333.70,703.03 L334.05,702.34 L334.40,701.89 L334.75,701.87 L335.10,702.19 L335.45,702.74 L335.80,703.34 L336.15,703.78 L336.50,703.84 L336.85,703.36 L337.20,702.34 L337.55,700.93 L337.90,699.52 L338.25,698.57 L338.60,698.43 L338.95,699.00 L339.30,700.10 L339.65,701.49 L340.00,702.93 L340.35,704.21 L340.70,705.23 L341.05,705.97 L341.40,706.47 L341.75,706.80 L342.10,707.01 L342.45,707.15 L342.80,707.25 L343.15,707.33 L343.50,707.39 L343.85,707.44 L344.20,707.48 L344.55,707.51 L344.90,707.53 L345.25,707.55 L345.60,707.57 L345.95,707.58 L346.30,707.58 L346.65,707.59 L347.00,707.59 L347.35,707.59 L347.70,707.59 L348.05,707.59 L348.40,707.58 L348.75,707.57 L349.10,707.55 L349.45,707.53 L349.80,707.49 L350.15,707.44 L350.50,707.36 L350.85,707.27 L351.20,707.14 L351.55,706.98 L351.90,706.76 L352.25,706.46 L352.60,705.99 L352.95,705.21 L353.30,703.88 L353.65,701.76 L354.00,698.74 L354.35,695.02 L354.70,691.26 L355.05,688.40 L355.40,687.33 L355.75,688.07 L356.10,690.13 L356.45,693.06 L356.80,696.25 L357.15,699.22 L357.50,701.65 L357.85,703.43 L358.20,704.63 L358.55,705.37 L358.90,705.79 L359.25,705.96 L359.60,705.91 L359.95,705.62 L360.30,705.02 L360.65,704.15 L361.00,703.11 L361.35,702.16 L361.70,701.58 L362.05,701.56 L362.40,702.00 L362.75,702.76 L363.10,703.70 L363.45,704.64 L363.80,705.47 L364.15,706.12 L364.50,706.58 L364.85,706.88 L365.20,707.07 L365.55,707.19 L365.90,707.25 L366.25,707.29 L366.60,707.30 L366.95,707.29 L367.30,707.26 L367.65,707.20 L368.00,707.11 L368.35,706.95 L368.70,706.67 L369.05,706.18 L369.40,705.39 L369.75,704.23 L370.10,702.77 L370.45,701.22 L370.80,699.97 L371.15,699.35 L371.50,699.45 L371.85,700.05 L372.20,700.97 L372.55,701.97 L372.90,702.81 L373.25,703.35 L373.60,703.49 L373.95,703.14 L374.30,702.13 L374.65,700.07 L375.00,696.36 L375.35,690.33 L375.70,681.64 L376.05,670.92 L376.40,660.05 L376.75,651.81 L377.10,648.73 L377.45,650.92 L377.80,656.94 L378.15,665.45 L378.50,674.77 L378.85,683.43 L379.20,690.53 L379.55,695.78 L379.90,699.34 L380.25,701.60 L380.60,702.94 L380.95,703.65 L381.30,703.89 L381.65,703.77 L382.00,703.42 L382.35,702.99 L382.70,702.72 L383.05,702.78 L383.40,703.15 L383.75,703.74 L384.10,704.46 L384.45,705.20 L384.80,705.85 L385.15,706.37 L385.50,706.75 L385.85,707.00 L386.20,707.16 L386.55,707.24 L386.90,707.28 L387.25,707.28 L387.60,707.24 L387.95,707.16 L388.30,707.05 L388.65,706.88 L389.00,706.66 L389.35,706.36 L389.70,705.95 L390.05,705.33 L390.40,704.32 L390.75,702.58 L391.10,699.72 L391.45,695.42 L391.80,689.75 L392.15,683.47 L392.50,677.96 L392.85,674.82 L393.20,674.88 L393.55,677.39 L393.90,681.65 L394.25,686.77 L394.60,691.84 L394.95,696.18 L395.30,699.49 L395.65,701.77 L396.00,703.19 L396.35,703.94 L396.70,704.15 L397.05,703.82 L397.40,702.87 L397.75,701.19 L398.10,698.84 L398.45,696.18 L398.80,693.84 L399.15,692.54 L399.50,692.66 L399.85,693.86 L400.20,695.84 L400.55,698.21 L400.90,700.54 L401.25,702.55 L401.60,704.10 L401.95,705.20 L402.30,705.92 L402.65,706.39 L403.00,706.68 L403.35,706.88 L403.70,707.02 L404.05,707.12 L404.40,707.19 L404.75,707.23 L405.10,707.25 L405.45,707.25 L405.80,707.21 L406.15,707.14 L406.50,707.01 L406.85,706.77 L407.20,706.35 L407.55,705.66 L407.90,704.69 L408.25,703.48 L408.60,702.25 L408.95,701.31 L409.30,700.94 L409.65,701.15 L410.00,701.78 L410.35,702.67 L410.70,703.64 L411.05,704.52 L411.40,705.18 L411.75,705.57 L412.10,705.63 L412.45,705.33 L412.80,704.60 L413.15,703.46 L413.50,702.03 L413.85,700.61 L414.20,699.60 L414.55,699.32 L414.90,699.72 L415.25,700.61 L415.60,701.81 L415.95,703.08 L416.30,704.23 L416.65,705.16 L417.00,705.83 L417.35,706.27 L417.70,706.54 L418.05,706.70 L418.40,706.80 L418.75,706.85 L419.10,706.87 L419.45,706.88 L419.80,706.87 L420.15,706.85 L420.50,706.82 L420.85,706.79 L421.20,706.75 L421.55,706.71 L421.90,706.66 L422.25,706.62 L422.60,706.57 L422.95,706.53 L423.30,706.50 L423.65,706.46 L424.00,706.44 L424.35,706.42 L424.70,706.41 L425.05,706.41 L425.40,706.41 L425.75,706.42 L426.10,706.43 L426.45,706.44 L426.80,706.45 L427.15,706.47 L427.50,706.50 L427.85,706.52 L428.20,706.55 L428.55,706.58 L428.90,706.61 L429.25,706.64 L429.60,706.68 L429.95,706.72 L430.30,706.75 L430.65,706.79 L431.00,706.83 L431.35,706.87 L431.70,706.90 L432.05,706.94 L432.40,706.98 L432.75,707.01 L433.10,707.05 L433.45,707.08 L433.80,707.12 L434.15,707.15 L434.50,707.18 L434.85,707.21 L435.20,707.23 L435.55,707.26 L435.90,707.28 L436.25,707.31 L436.60,707.33 L436.95,707.35 L437.30,707.37 L437.65,707.38 L438.00,707.40 L438.35,707.41 L438.70,707.43 L439.05,707.44 L439.40,707.45 L439.75,707.46 L440.10,707.47 L440.45,707.48 L440.80,707.49 L441.15,707.49 L441.50,707.50 L441.85,707.51 L442.20,707.51 L442.55,707.52 L442.90,707.52 L443.25,707.53 L443.60,707.53 L443.95,707.53 L444.30,707.54 L444.65,707.54 L445.00,707.54 L445.35,707.55 L445.70,707.55 L446.05,707.55 L446.40,707.55 L446.75,707.56 L447.10,707.56 L447.45,707.56 L447.80,707.56 L448.15,707.56 L448.50,707.57 L448.85,707.57 L449.20,707.57 L449.55,707.57 L449.90,707.57 L450.25,707.57 L450.60,707.57 L450.95,707.58 L451.30,707.58 L451.65,707.58 L452.00,707.58 L452.35,707.58 L452.70,707.58 L453.05,707.58 L453.40,707.58 L453.75,707.58 L454.10,707.59 L454.45,707.59 L454.80,707.59 L455.15,707.59 L455.50,707.59 L455.85,707.59 L456.20,707.59 L456.55,707.59 L456.90,707.59 L457.25,707.59 L457.60,707.59 L457.95,707.59 L458.30,707.59 L458.65,707.59 L459.00,707.59 L459.35,707.59 L459.70,707.59 L460.05,707.60 L460.40,707.60 L460.75,707.60 L461.10,707.60 L461.45,707.60 L461.80,707.60 L462.15,707.60 L462.50,707.60 L462.85,707.60 L463.20,707.60 L463.55,707.60 L463.90,707.60 L464.25,707.60 L464.60,707.60 L464.95,707.60 L465.30,707.60 L465.65,707.60 L466.00,707.60 L466.35,707.60 L466.70,707.60 L467.05,707.60 L467.40,707.60 L467.75,707.60 L468.10,707.60 L468.45,707.60 L468.80,707.60 L469.15,707.60 L469.50,707.60 L469.85,707.60 L470.20,707.60 L470.55,707.60 L470.90,707.60 L471.25,707.60 L471.60,707.60 L471.95,707.60 L472.30,707.60 L472.65,707.60 L473.00,707.60 L473.35,707.60 L473.70,707.60 L474.05,707.60 L474.40,707.60 L474.75,707.60 L475.10,707.60 L475.45,707.60 L475.80,707.60 L476.15,707.60 L476.50,707.60 L476.85,707.60 L477.20,707.60 L477.55,707.60 L477.90,707.60 L478.25,707.60 L478.60,707.60 L478.95,707.60 L479.30,707.60 L479.65,707.60 L480.00,707.60 L480.35,707.60 L480.70,707.60 L481.05,707.60 L481.40,707.60 L481.75,707.60 L482.10,707.60 L482.45,707.60 L482.80,707.60 L483.15,707.60 L483.50,707.60 L483.85,707.60 L484.20,707.60 L484.55,707.60 L484.90,707.60 L485.25,707.60 L485.60,707.60 L485.95,707.60 L486.30,707.60 L486.65,707.60 L487.00,707.60 L487.35,707.60 L487.70,707.60 L488.05,707.60 L488.40,707.60 L488.75,707.60 L489.10,707.60 L489.45,707.60 L489.80,707.60 L490.15,707.60 L490.50,707.60 L490.85,707.60 L491.20,707.60 L491.55,707.60 L491.90,707.60 L492.25,707.60 L492.60,707.60 L492.95,707.60 L493.30,707.60 L493.65,707.60 L494.00,707.60 L494.35,707.60 L494.70,707.60 L495.05,707.60 L495.40,707.60 L495.75,707.60 L496.10,707.60 L496.45,707.60 L496.80,707.60 L497.15,707.60 L497.50,707.60 L497.85,707.60 L498.20,707.60 L498.55,707.60 L498.90,707.60 L499.25,707.60 L499.60,707.60 L499.95,707.60 L500.30,707.60 L500.65,707.60 L501.00,707.60 L501.35,707.60 L501.70,707.60 L502.05,707.60 L502.40,707.60 L502.75,707.60 L503.10,707.60 L503.45,707.60 L503.80,707.60 L504.15,707.60 L504.50,707.60 L504.85,707.60 L505.20,707.60 L505.55,707.60 L505.90,707.60 L506.25,707.60 L506.60,707.60 L506.95,707.60 L507.30,707.60 L507.65,707.60 L508.00,707.60 L508.35,707.60 L508.70,707.60 L509.05,707.60 L509.40,707.60 L509.75,707.60 L510.10,707.60 L510.45,707.60 L510.80,707.60 L511.15,707.60 L511.50,707.60 L511.85,707.60 L512.20,707.60 L512.55,707.60 L512.90,707.60 L513.25,707.60 L513.60,707.60 L513.95,707.60 L514.30,707.60 L514.65,707.60 L515.00,707.60 L515.35,707.60 L515.70,707.60 L516.05,707.60 L516.40,707.60 L516.75,707.60 L517.10,707.60 L517.45,707.60 L517.80,707.60 L518.15,707.60 L518.50,707.60 L518.85,707.60 L519.20,707.60 L519.55,707.60 L519.90,707.60 L520.25,707.60 L520.60,707.60 L520.95,707.60 L521.30,707.60 L521.65,707.60 L522.00,707.60 L522.35,707.60 L522.70,707.60 L523.05,707.60 L523.40,707.60 L523.75,707.60 L524.10,707.60 L524.45,707.60 L524.80,707.60 L525.15,707.60 L525.50,707.60 L525.85,707.60 L526.20,707.60 L526.55,707.60 L526.90,707.60 L527.25,707.60 L527.60,707.60 L527.95,707.60 L528.30,707.60 L528.65,707.60 L529.00,707.60 L529.35,707.60 L529.70,707.60 L530.05,707.60 L530.40,707.60 L530.75,707.60 L531.10,707.60 L531.45,707.60 L531.80,707.60 L532.15,707.60 L532.50,707.60 L532.85,707.60 L533.20,707.60 L533.55,707.60 L533.90,707.60 L534.25,707.60 L534.60,707.60 L534.95,707.60 L535.30,707.60 L535.65,707.60 L536.00,707.60 L536.35,707.60 L536.70,707.60 L537.05,707.60 L537.40,707.60 L537.75,707.60 L538.10,707.60 L538.45,707.60 L538.80,707.60 L539.15,707.60 L539.50,707.60 L539.85,707.60 L540.20,707.60 L540.55,707.60 L540.90,707.60 L541.25,707.60 L541.60,707.60 L541.95,707.60 L542.30,707.60 L542.65,707.60 L543.00,707.60 L543.35,707.60 L543.70,707.60 L544.05,707.60 L544.40,707.60 L544.75,707.60 L545.10,707.60 L545.45,707.60 L545.80,707.60 L546.15,707.60 L546.50,707.60 L546.85,707.60 L547.20,707.60 L547.55,707.60 L547.90,707.60 L548.25,707.60 L548.60,707.60 L548.95,707.60 L549.30,707.60 L549.65,707.60 L550.00,707.60 L550.35,707.60 L550.70,707.60 L551.05,707.60 L551.40,707.60 L551.75,707.60 L552.10,707.60 L552.45,707.60 L552.80,707.60 L553.15,707.60 L553.50,707.60 L553.85,707.60 L554.20,707.60 L554.55,707.60 L554.90,707.60 L555.25,707.60 L555.60,707.60 L555.95,707.60 L556.30,707.60 L556.65,707.60 L557.00,707.60 L557.35,707.60 L557.70,707.60 L558.05,707.60 L558.40,707.60 L558.75,707.60 L559.10,707.60 L559.45,707.60 L559.80,707.60 L560.15,707.60 L560.50,707.60 L560.85,707.60 L561.20,707.60 L561.55,707.60 L561.90,707.60 L562.25,707.60 L562.60,707.60 L562.95,707.60 L563.30,707.60 L563.65,707.60 L564.00,707.60 L564.35,707.60 L564.70,707.60 L565.05,707.60 L565.40,707.60 L565.75,707.60 L566.10,707.60 L566.45,707.60 L566.80,707.60 L567.15,707.60 L567.50,707.60 L567.85,707.60 L568.20,707.60 L568.55,707.60 L568.90,707.60 L569.25,707.60 L569.60,707.60 L569.95,707.60 L570.30,707.60 L570.65,707.60 L571.00,707.60 L571.35,707.60 L571.70,707.60 L572.05,707.60 L572.40,707.60 L572.75,707.60 L573.10,707.60 L573.45,707.60 L573.80,707.60 L574.15,707.60 L574.50,707.60 L574.85,707.60 L575.20,707.60 L575.55,707.60 L575.90,707.60 L576.25,707.60 L576.60,707.60 L576.95,707.60 L577.30,707.60 L577.65,707.60 L578.00,707.60 L578.35,707.60 L578.70,707.60 L579.05,707.60 L579.40,707.60 L579.75,707.60 L580.10,707.60 L580.45,707.60 L580.80,707.60 L581.15,707.60 L581.50,707.60 L581.85,707.60 L582.20,707.60 L582.55,707.60 L582.90,707.60 L583.25,707.60 L583.60,707.60 L583.95,707.60 L584.30,707.60 L584.65,707.60 L585.00,707.60 L585.35,707.60 L585.70,707.60 L586.05,707.60 L586.40,707.60 L586.75,707.60 L587.10,707.60 L587.45,707.60 L587.80,707.60 L588.15,707.60 L588.50,707.60 L588.85,707.60 L589.20,707.60 L589.55,707.60 L589.90,707.60 L590.25,707.60 L590.60,707.60 L590.95,707.60 L591.30,707.60 L591.65,707.60 L592.00,707.60 L592.35,707.60 L592.70,707.60 L593.05,707.60 L593.40,707.60 L593.75,707.60 L594.10,707.60 L594.45,707.60 L594.80,707.60 L595.15,707.60 L595.50,707.60 L595.85,707.60 L596.20,707.60 L596.55,707.60 L596.90,707.60 L597.25,707.60 L597.60,707.60 L597.95,707.60 L598.30,707.60 L598.65,707.60 L599.00,707.60 L599.35,707.60 L599.70,707.60 L600.05,707.60 L600.40,707.60 L600.75,707.60 L601.10,707.60 L601.45,707.60 L601.80,707.60 L602.15,707.60 L602.50,707.60 L602.85,707.60 L603.20,707.60 L603.55,707.60 L603.90,707.60 L604.25,707.60 L604.60,707.60 L604.95,707.60 L605.30,707.60 L605.65,707.60 L606.00,707.60 L606.35,707.60 L606.70,707.60 L607.05,707.60 L607.40,707.60 L607.75,707.60 L608.10,707.60 L608.45,707.60 L608.80,707.60 L609.15,707.60 L609.50,707.60 L609.85,707.60 L610.20,707.60 L610.55,707.60 L610.90,707.60 L611.25,707.60 L611.60,707.60 L611.95,707.60 L612.30,707.60 L612.65,707.60 L613.00,707.60 L613.35,707.60 L613.70,707.60 L614.05,707.60 L614.40,707.60 L614.75,707.60 L615.10,707.60 L615.45,707.60 L615.80,707.60 L616.15,707.60 L616.50,707.60 L616.85,707.60 L617.20,707.60 L617.55,707.60 L617.90,707.60 L618.25,707.60 L618.60,707.60 L618.95,707.60 L619.30,707.60 L619.65,707.60 L620.00,707.60" fill="none" stroke="#2a2aff" stroke-width="1.0" stroke-linejoin="round"/>
<rect x="132.9" y="474.9" width="46.0" height="20.0" fill="#fff" stroke="#555" stroke-width="1.1"/>
<text x="155.9" y="489.0" text-anchor="middle" font-size="11.5" font-weight="normal" fill="#1a1a1a" textLength="34.6" lengthAdjust="spacingAndGlyphs">RFMS</text>
<rect x="132.6" y="569.4" width="40.5" height="19.399999999999977" fill="#fff" stroke="#555" stroke-width="1.1"/>
<text x="152.85" y="583.1999999999999" text-anchor="middle" font-size="11.5" font-weight="normal" fill="#1a1a1a" textLength="28.3" lengthAdjust="spacingAndGlyphs">2-AB</text>
<rect x="132.6" y="656.0" width="40.0" height="20.100000000000023" fill="#fff" stroke="#555" stroke-width="1.1"/>
<text x="152.6" y="670.15" text-anchor="middle" font-size="11.5" font-weight="normal" fill="#1a1a1a" textLength="28.0" lengthAdjust="spacingAndGlyphs">ProC</text>
<text x="378.1" y="735.2" text-anchor="middle" font-size="9.0" font-weight="normal" fill="#2a2a2a" textLength="74.8" lengthAdjust="spacingAndGlyphs">Retention time [min]</text>
<line x1="208" y1="135.8" x2="200.7" y2="129.7" stroke="#8a8a8a" stroke-width="0.6"/>
<line x1="208" y1="135.8" x2="200.7" y2="142" stroke="#8a8a8a" stroke-width="0.6"/>
<line x1="208" y1="135.8" x2="215.1" y2="135.8" stroke="#8a8a8a" stroke-width="0.6"/>
<line x1="215.1" y1="135.8" x2="222.4" y2="135.8" stroke="#8a8a8a" stroke-width="0.6"/>
<line x1="200.7" y1="129.7" x2="200.7" y2="135.8" stroke="#8a8a8a" stroke-width="0.6"/>
<line x1="200.7" y1="142" x2="200.7" y2="148.1" stroke="#8a8a8a" stroke-width="0.6"/>
<ellipse cx="200.7" cy="129.7" rx="2.25" ry="1.94" fill="#00c000"/>
<rect x="198.45" y="133.55" width="4.5" height="4.19" fill="#0000ff"/>
<ellipse cx="208" cy="135.8" rx="2.25" ry="1.94" fill="#00c000"/>
<rect x="212.85" y="133.55" width="4.5" height="4.19" fill="#0000ff"/>
<rect x="220.15" y="133.55" width="4.5" height="4.19" fill="#0000ff"/>
<ellipse cx="200.7" cy="142" rx="2.25" ry="1.94" fill="#00c000"/>
<rect x="198.45" y="145.85" width="4.5" height="4.19" fill="#0000ff"/>
<line x1="235.1" y1="70.1" x2="228.3" y2="64.5" stroke="#8a8a8a" stroke-width="0.6"/>
<line x1="235.1" y1="70.1" x2="228.3" y2="75.8" stroke="#8a8a8a" stroke-width="0.6"/>
<line x1="228.3" y1="64.5" x2="228.3" y2="70.1" stroke="#8a8a8a" stroke-width="0.6"/>
<line x1="228.3" y1="75.8" x2="228.3" y2="81.7" stroke="#8a8a8a" stroke-width="0.6"/>
<line x1="235.1" y1="70.1" x2="241.7" y2="70.1" stroke="#8a8a8a" stroke-width="0.6"/>
<line x1="241.7" y1="70.1" x2="248.5" y2="70.1" stroke="#8a8a8a" stroke-width="0.6"/>
<line x1="241.7" y1="64.2" x2="248.5" y2="70.1" stroke="#8a8a8a" stroke-width="0.6"/>
<ellipse cx="228.3" cy="64.5" rx="2.15" ry="1.85" fill="#00c000"/>
<rect x="226.15" y="67.95" width="4.3" height="4.00" fill="#0000ff"/>
<ellipse cx="235.1" cy="70.1" rx="2.15" ry="1.85" fill="#00c000"/>
<rect x="239.55" y="67.95" width="4.3" height="4.00" fill="#0000ff"/>
<rect x="246.35" y="67.95" width="4.3" height="4.00" fill="#0000ff"/>
<path d="M239.55,62.39 L243.85,62.39 L241.70,66.35 Z" fill="#e00000"/>
<ellipse cx="228.3" cy="75.8" rx="2.15" ry="1.85" fill="#00c000"/>
<rect x="226.15" y="79.55" width="4.3" height="4.00" fill="#0000ff"/>
<line x1="263.7" y1="125.7" x2="257.6" y2="115.4" stroke="#8a8a8a" stroke-width="0.6"/>
<line x1="263.7" y1="125.7" x2="257.6" y2="130.9" stroke="#8a8a8a" stroke-width="0.6"/>
<line x1="263.7" y1="125.7" x2="257.6" y2="125.7" stroke="#8a8a8a" stroke-width="0.6"/>
<line x1="257.6" y1="115.4" x2="257.6" y2="120.5" stroke="#8a8a8a" stroke-width="0.6"/>
<line x1="257.6" y1="130.9" x2="257.6" y2="136.2" stroke="#8a8a8a" stroke-width="0.6"/>
<line x1="263.7" y1="125.7" x2="269.8" y2="125.7" stroke="#8a8a8a" stroke-width="0.6"/>
<line x1="269.8" y1="125.7" x2="276.2" y2="125.7" stroke="#8a8a8a" stroke-width="0.6"/>
<line x1="270.1" y1="120.1" x2="276.2" y2="125.7" stroke="#8a8a8a" stroke-width="0.6"/>
<ellipse cx="257.6" cy="115.4" rx="2.00" ry="1.72" fill="#00c000"/>
<rect x="255.60" y="118.50" width="4.0" height="3.72" fill="#0000ff"/>
<rect x="255.60" y="123.70" width="4.0" height="3.72" fill="#0000ff"/>
<ellipse cx="263.7" cy="125.7" rx="2.00" ry="1.72" fill="#00c000"/>
<rect x="267.80" y="123.70" width="4.0" height="3.72" fill="#0000ff"/>
<rect x="274.20" y="123.70" width="4.0" height="3.72" fill="#0000ff"/>
<path d="M268.10,118.42 L272.10,118.42 L270.10,122.10 Z" fill="#e00000"/>
<ellipse cx="257.6" cy="130.9" rx="2.00" ry="1.72" fill="#00c000"/>
<rect x="255.60" y="134.20" width="4.0" height="3.72" fill="#0000ff"/>
<line x1="288.2" y1="34.4" x2="280.9" y2="28.1" stroke="#8a8a8a" stroke-width="0.6"/>
<line x1="288.2" y1="34.4" x2="280.9" y2="40.4" stroke="#8a8a8a" stroke-width="0.6"/>
<line x1="280.9" y1="28.1" x2="280.9" y2="34.4" stroke="#8a8a8a" stroke-width="0.6"/>
<line x1="280.9" y1="40.4" x2="280.9" y2="46.5" stroke="#8a8a8a" stroke-width="0.6"/>
<line x1="273.6" y1="34.4" x2="280.9" y2="34.4" stroke="#8a8a8a" stroke-width="0.6"/>
<line x1="288.2" y1="34.4" x2="295.4" y2="34.4" stroke="#8a8a8a" stroke-width="0.6"/>
<line x1="295.4" y1="34.4" x2="302.5" y2="34.4" stroke="#8a8a8a" stroke-width="0.6"/>
<line x1="295.4" y1="27.6" x2="302.5" y2="34.4" stroke="#8a8a8a" stroke-width="0.6"/>
<ellipse cx="280.9" cy="28.1" rx="2.15" ry="1.85" fill="#00c000"/>
<ellipse cx="273.6" cy="34.4" rx="2.15" ry="1.85" fill="#ffff00"/>
<rect x="278.75" y="32.25" width="4.3" height="4.00" fill="#0000ff"/>
<ellipse cx="288.2" cy="34.4" rx="2.15" ry="1.85" fill="#00c000"/>
<rect x="293.25" y="32.25" width="4.3" height="4.00" fill="#0000ff"/>
<rect x="300.35" y="32.25" width="4.3" height="4.00" fill="#0000ff"/>
<path d="M293.25,25.79 L297.55,25.79 L295.40,29.75 Z" fill="#e00000"/>
<ellipse cx="280.9" cy="40.4" rx="2.15" ry="1.85" fill="#00c000"/>
<rect x="278.75" y="44.35" width="4.3" height="4.00" fill="#0000ff"/>
<line x1="327.5" y1="65.7" x2="320.5" y2="59.8" stroke="#8a8a8a" stroke-width="0.6"/>
<line x1="327.5" y1="65.7" x2="320.5" y2="71.8" stroke="#8a8a8a" stroke-width="0.6"/>
<line x1="320.5" y1="59.8" x2="320.5" y2="65.7" stroke="#8a8a8a" stroke-width="0.6"/>
<line x1="320.5" y1="71.8" x2="320.5" y2="78" stroke="#8a8a8a" stroke-width="0.6"/>
<line x1="313.4" y1="78" x2="320.5" y2="78" stroke="#8a8a8a" stroke-width="0.6"/>
<line x1="327.5" y1="65.7" x2="334.4" y2="65.7" stroke="#8a8a8a" stroke-width="0.6"/>
<line x1="334.4" y1="65.7" x2="341.2" y2="65.7" stroke="#8a8a8a" stroke-width="0.6"/>
<line x1="334.4" y1="59.3" x2="341.2" y2="65.7" stroke="#8a8a8a" stroke-width="0.6"/>
<ellipse cx="320.5" cy="59.8" rx="2.20" ry="1.89" fill="#00c000"/>
<rect x="318.30" y="63.50" width="4.4" height="4.09" fill="#0000ff"/>
<ellipse cx="327.5" cy="65.7" rx="2.20" ry="1.89" fill="#00c000"/>
<rect x="332.20" y="63.50" width="4.4" height="4.09" fill="#0000ff"/>
<rect x="339.00" y="63.50" width="4.4" height="4.09" fill="#0000ff"/>
<path d="M332.20,57.45 L336.60,57.45 L334.40,61.50 Z" fill="#e00000"/>
<ellipse cx="320.5" cy="71.8" rx="2.20" ry="1.89" fill="#00c000"/>
<rect x="318.30" y="75.80" width="4.4" height="4.09" fill="#0000ff"/>
<ellipse cx="313.4" cy="78" rx="2.20" ry="1.89" fill="#ffff00"/>
<line x1="334.1" y1="113.5" x2="327.5" y2="102.3" stroke="#8a8a8a" stroke-width="0.6"/>
<line x1="334.1" y1="113.5" x2="327.5" y2="119.2" stroke="#8a8a8a" stroke-width="0.6"/>
<line x1="334.1" y1="113.5" x2="327.5" y2="113.5" stroke="#8a8a8a" stroke-width="0.6"/>
<line x1="327.5" y1="102.3" x2="327.5" y2="108" stroke="#8a8a8a" stroke-width="0.6"/>
<line x1="327.5" y1="119.2" x2="327.5" y2="124.8" stroke="#8a8a8a" stroke-width="0.6"/>
<line x1="320.7" y1="108" x2="327.5" y2="108" stroke="#8a8a8a" stroke-width="0.6"/>
<line x1="334.1" y1="113.5" x2="340.6" y2="113.5" stroke="#8a8a8a" stroke-width="0.6"/>
<line x1="340.6" y1="113.5" x2="347.2" y2="113.5" stroke="#8a8a8a" stroke-width="0.6"/>
<line x1="340.6" y1="107.6" x2="347.2" y2="113.5" stroke="#8a8a8a" stroke-width="0.6"/>
<ellipse cx="327.5" cy="102.3" rx="2.05" ry="1.76" fill="#00c000"/>
<ellipse cx="320.7" cy="108" rx="2.05" ry="1.76" fill="#ffff00"/>
<rect x="325.45" y="105.95" width="4.1" height="3.81" fill="#0000ff"/>
<rect x="325.45" y="111.45" width="4.1" height="3.81" fill="#0000ff"/>
<ellipse cx="334.1" cy="113.5" rx="2.05" ry="1.76" fill="#00c000"/>
<rect x="338.55" y="111.45" width="4.1" height="3.81" fill="#0000ff"/>
<rect x="345.15" y="111.45" width="4.1" height="3.81" fill="#0000ff"/>
<path d="M338.55,105.88 L342.65,105.88 L340.60,109.65 Z" fill="#e00000"/>
<ellipse cx="327.5" cy="119.2" rx="2.05" ry="1.76" fill="#00c000"/>
<rect x="325.45" y="122.75" width="4.1" height="3.81" fill="#0000ff"/>
<line x1="361" y1="38.7" x2="353.6" y2="32.8" stroke="#8a8a8a" stroke-width="0.6"/>
<line x1="361" y1="38.7" x2="353.6" y2="44.9" stroke="#8a8a8a" stroke-width="0.6"/>
<line x1="353.6" y1="32.8" x2="353.6" y2="38.7" stroke="#8a8a8a" stroke-width="0.6"/>
<line x1="353.6" y1="44.9" x2="353.6" y2="50.7" stroke="#8a8a8a" stroke-width="0.6"/>
<line x1="346.6" y1="38.7" x2="353.6" y2="38.7" stroke="#8a8a8a" stroke-width="0.6"/>
<line x1="346.6" y1="50.7" x2="353.6" y2="50.7" stroke="#8a8a8a" stroke-width="0.6"/>
<line x1="361" y1="38.7" x2="368" y2="38.7" stroke="#8a8a8a" stroke-width="0.6"/>
<line x1="368" y1="38.7" x2="375.2" y2="38.7" stroke="#8a8a8a" stroke-width="0.6"/>
<line x1="368" y1="32.3" x2="375.2" y2="38.7" stroke="#8a8a8a" stroke-width="0.6"/>
<ellipse cx="353.6" cy="32.8" rx="2.20" ry="1.89" fill="#00c000"/>
<ellipse cx="346.6" cy="38.7" rx="2.20" ry="1.89" fill="#ffff00"/>
<rect x="351.40" y="36.50" width="4.4" height="4.09" fill="#0000ff"/>
<ellipse cx="361" cy="38.7" rx="2.20" ry="1.89" fill="#00c000"/>
<rect x="365.80" y="36.50" width="4.4" height="4.09" fill="#0000ff"/>
<rect x="373.00" y="36.50" width="4.4" height="4.09" fill="#0000ff"/>
<path d="M365.80,30.45 L370.20,30.45 L368.00,34.50 Z" fill="#e00000"/>
<ellipse cx="353.6" cy="44.9" rx="2.20" ry="1.89" fill="#00c000"/>
<ellipse cx="346.6" cy="50.7" rx="2.20" ry="1.89" fill="#ffff00"/>
<rect x="351.40" y="48.50" width="4.4" height="4.09" fill="#0000ff"/>
<line x1="392.6" y1="72.9" x2="392.6" y2="89.8" stroke="#aaa" stroke-width="0.7"/>
<line x1="380.9" y1="81.1" x2="386.8" y2="81.1" stroke="#8a8a8a" stroke-width="0.6"/>
<line x1="402.2" y1="78.7" x2="396.3" y2="73.6" stroke="#8a8a8a" stroke-width="0.6"/>
<line x1="402.2" y1="78.7" x2="396.3" y2="83.7" stroke="#8a8a8a" stroke-width="0.6"/>
<line x1="396.3" y1="73.6" x2="396.3" y2="78.7" stroke="#8a8a8a" stroke-width="0.6"/>
<line x1="396.3" y1="83.7" x2="396.3" y2="88.5" stroke="#8a8a8a" stroke-width="0.6"/>
<line x1="402.2" y1="78.7" x2="407.7" y2="78.7" stroke="#8a8a8a" stroke-width="0.6"/>
<line x1="407.7" y1="78.7" x2="413.6" y2="78.7" stroke="#8a8a8a" stroke-width="0.6"/>
<line x1="407.8" y1="73.5" x2="413.6" y2="78.7" stroke="#8a8a8a" stroke-width="0.6"/>
<path d="M379.05,81.10 L380.90,79.47 L382.75,81.10 L380.90,82.73 Z" fill="#c000c0"/>
<ellipse cx="386.8" cy="81.1" rx="1.85" ry="1.59" fill="#ffff00"/>
<ellipse cx="396.3" cy="73.6" rx="1.85" ry="1.59" fill="#00c000"/>
<rect x="394.45" y="76.85" width="3.7" height="3.44" fill="#0000ff"/>
<ellipse cx="402.2" cy="78.7" rx="1.85" ry="1.59" fill="#00c000"/>
<rect x="405.85" y="76.85" width="3.7" height="3.44" fill="#0000ff"/>
<rect x="411.75" y="76.85" width="3.7" height="3.44" fill="#0000ff"/>
<path d="M405.95,71.95 L409.65,71.95 L407.80,75.35 Z" fill="#e00000"/>
<ellipse cx="396.3" cy="83.7" rx="1.85" ry="1.59" fill="#00c000"/>
<rect x="394.45" y="86.65" width="3.7" height="3.44" fill="#0000ff"/>
<line x1="421.6" y1="39.7" x2="421.6" y2="59" stroke="#aaa" stroke-width="0.7"/>
<line x1="438.3" y1="46.3" x2="432.1" y2="41" stroke="#8a8a8a" stroke-width="0.6"/>
<line x1="438.3" y1="46.3" x2="432.1" y2="52.2" stroke="#8a8a8a" stroke-width="0.6"/>
<line x1="432.1" y1="41" x2="432.1" y2="46.3" stroke="#8a8a8a" stroke-width="0.6"/>
<line x1="432.1" y1="52.2" x2="432.1" y2="57.7" stroke="#8a8a8a" stroke-width="0.6"/>
<line x1="425.8" y1="46.3" x2="432.1" y2="46.3" stroke="#8a8a8a" stroke-width="0.6"/>
<line x1="425.8" y1="57.7" x2="432.1" y2="57.7" stroke="#8a8a8a" stroke-width="0.6"/>
<line x1="438.3" y1="46.3" x2="444.8" y2="46.3" stroke="#8a8a8a" stroke-width="0.6"/>
<line x1="444.8" y1="46.3" x2="451.4" y2="46.3" stroke="#8a8a8a" stroke-width="0.6"/>
<line x1="444.8" y1="40.8" x2="451.4" y2="46.3" stroke="#8a8a8a" stroke-width="0.6"/>
<path d="M413.30,49.30 L415.30,47.54 L417.30,49.30 L415.30,51.06 Z" fill="#c000c0"/>
<ellipse cx="432.1" cy="41" rx="2.00" ry="1.72" fill="#00c000"/>
<ellipse cx="425.8" cy="46.3" rx="2.00" ry="1.72" fill="#ffff00"/>
<rect x="430.10" y="44.30" width="4.0" height="3.72" fill="#0000ff"/>
<ellipse cx="438.3" cy="46.3" rx="2.00" ry="1.72" fill="#00c000"/>
<rect x="442.80" y="44.30" width="4.0" height="3.72" fill="#0000ff"/>
<rect x="449.40" y="44.30" width="4.0" height="3.72" fill="#0000ff"/>
<path d="M442.80,39.12 L446.80,39.12 L444.80,42.80 Z" fill="#e00000"/>
<ellipse cx="432.1" cy="52.2" rx="2.00" ry="1.72" fill="#00c000"/>
<ellipse cx="425.8" cy="57.7" rx="2.00" ry="1.72" fill="#ffff00"/>
<rect x="430.10" y="55.70" width="4.0" height="3.72" fill="#0000ff"/>
<line x1="448.6" y1="112.3" x2="448.6" y2="131.6" stroke="#aaa" stroke-width="0.7"/>
<line x1="462.3" y1="122" x2="457.1" y2="113.2" stroke="#8a8a8a" stroke-width="0.6"/>
<line x1="462.3" y1="122" x2="457.1" y2="126.1" stroke="#8a8a8a" stroke-width="0.6"/>
<line x1="462.3" y1="122" x2="457.1" y2="122" stroke="#8a8a8a" stroke-width="0.6"/>
<line x1="457.1" y1="113.2" x2="457.1" y2="117.6" stroke="#8a8a8a" stroke-width="0.6"/>
<line x1="457.1" y1="126.1" x2="457.1" y2="130.5" stroke="#8a8a8a" stroke-width="0.6"/>
<line x1="451.9" y1="117.6" x2="457.1" y2="117.6" stroke="#8a8a8a" stroke-width="0.6"/>
<line x1="451.9" y1="130.5" x2="457.1" y2="130.5" stroke="#8a8a8a" stroke-width="0.6"/>
<line x1="462.3" y1="122" x2="467.4" y2="122" stroke="#8a8a8a" stroke-width="0.6"/>
<line x1="467.4" y1="122" x2="472.5" y2="122" stroke="#8a8a8a" stroke-width="0.6"/>
<line x1="467.4" y1="117.1" x2="472.5" y2="122" stroke="#8a8a8a" stroke-width="0.6"/>
<path d="M441.55,122.00 L443.30,120.46 L445.05,122.00 L443.30,123.54 Z" fill="#c000c0"/>
<ellipse cx="457.1" cy="113.2" rx="1.75" ry="1.50" fill="#00c000"/>
<ellipse cx="451.9" cy="117.6" rx="1.75" ry="1.50" fill="#ffff00"/>
<rect x="455.35" y="115.85" width="3.5" height="3.26" fill="#0000ff"/>
<rect x="455.35" y="120.25" width="3.5" height="3.26" fill="#0000ff"/>
<ellipse cx="462.3" cy="122" rx="1.75" ry="1.50" fill="#00c000"/>
<rect x="465.65" y="120.25" width="3.5" height="3.26" fill="#0000ff"/>
<rect x="470.75" y="120.25" width="3.5" height="3.26" fill="#0000ff"/>
<path d="M465.65,115.63 L469.15,115.63 L467.40,118.85 Z" fill="#e00000"/>
<ellipse cx="457.1" cy="126.1" rx="1.75" ry="1.50" fill="#00c000"/>
<ellipse cx="451.9" cy="130.5" rx="1.75" ry="1.50" fill="#ffff00"/>
<rect x="455.35" y="128.75" width="3.5" height="3.26" fill="#0000ff"/>
<line x1="500.5" y1="87" x2="494.3" y2="81.5" stroke="#8a8a8a" stroke-width="0.6"/>
<line x1="500.5" y1="87" x2="494.3" y2="92.4" stroke="#8a8a8a" stroke-width="0.6"/>
<line x1="494.3" y1="81.5" x2="494.3" y2="87" stroke="#8a8a8a" stroke-width="0.6"/>
<line x1="494.3" y1="92.4" x2="494.3" y2="97.5" stroke="#8a8a8a" stroke-width="0.6"/>
<line x1="488" y1="87" x2="494.3" y2="87" stroke="#8a8a8a" stroke-width="0.6"/>
<line x1="488" y1="97.5" x2="494.3" y2="97.5" stroke="#8a8a8a" stroke-width="0.6"/>
<line x1="481.8" y1="87" x2="488" y2="87" stroke="#8a8a8a" stroke-width="0.6"/>
<line x1="481.8" y1="97.5" x2="488" y2="97.5" stroke="#8a8a8a" stroke-width="0.6"/>
<line x1="500.5" y1="87" x2="506.8" y2="87" stroke="#8a8a8a" stroke-width="0.6"/>
<line x1="506.8" y1="87" x2="512.9" y2="87" stroke="#8a8a8a" stroke-width="0.6"/>
<line x1="506.8" y1="81" x2="512.9" y2="87" stroke="#8a8a8a" stroke-width="0.6"/>
<ellipse cx="494.3" cy="81.5" rx="1.95" ry="1.68" fill="#00c000"/>
<path d="M479.85,87.00 L481.80,85.28 L483.75,87.00 L481.80,88.72 Z" fill="#c000c0"/>
<ellipse cx="488" cy="87" rx="1.95" ry="1.68" fill="#ffff00"/>
<rect x="492.35" y="85.05" width="3.9" height="3.63" fill="#0000ff"/>
<ellipse cx="500.5" cy="87" rx="1.95" ry="1.68" fill="#00c000"/>
<rect x="504.85" y="85.05" width="3.9" height="3.63" fill="#0000ff"/>
<rect x="510.95" y="85.05" width="3.9" height="3.63" fill="#0000ff"/>
<path d="M504.85,79.36 L508.75,79.36 L506.80,82.95 Z" fill="#e00000"/>
<ellipse cx="494.3" cy="92.4" rx="1.95" ry="1.68" fill="#00c000"/>
<path d="M479.85,97.50 L481.80,95.78 L483.75,97.50 L481.80,99.22 Z" fill="#c000c0"/>
<ellipse cx="488" cy="97.5" rx="1.95" ry="1.68" fill="#ffff00"/>
<rect x="492.35" y="95.55" width="3.9" height="3.63" fill="#0000ff"/>
<line x1="536.5" y1="137.2" x2="531.1" y2="127.3" stroke="#8a8a8a" stroke-width="0.6"/>
<line x1="536.5" y1="137.2" x2="531.1" y2="141.8" stroke="#8a8a8a" stroke-width="0.6"/>
<line x1="536.5" y1="137.2" x2="531.1" y2="137.2" stroke="#8a8a8a" stroke-width="0.6"/>
<line x1="531.1" y1="127.3" x2="531.1" y2="132.4" stroke="#8a8a8a" stroke-width="0.6"/>
<line x1="531.1" y1="141.8" x2="531.1" y2="146.7" stroke="#8a8a8a" stroke-width="0.6"/>
<line x1="525.3" y1="132.4" x2="531.1" y2="132.4" stroke="#8a8a8a" stroke-width="0.6"/>
<line x1="525.3" y1="146.7" x2="531.1" y2="146.7" stroke="#8a8a8a" stroke-width="0.6"/>
<line x1="519.6" y1="132.4" x2="525.3" y2="132.4" stroke="#8a8a8a" stroke-width="0.6"/>
<line x1="519.6" y1="146.7" x2="525.3" y2="146.7" stroke="#8a8a8a" stroke-width="0.6"/>
<line x1="536.5" y1="137.2" x2="542.3" y2="137.2" stroke="#8a8a8a" stroke-width="0.6"/>
<line x1="542.3" y1="137.2" x2="548" y2="137.2" stroke="#8a8a8a" stroke-width="0.6"/>
<line x1="542.3" y1="131.8" x2="548" y2="137.2" stroke="#8a8a8a" stroke-width="0.6"/>
<ellipse cx="531.1" cy="127.3" rx="1.85" ry="1.59" fill="#00c000"/>
<path d="M517.75,132.40 L519.60,130.77 L521.45,132.40 L519.60,134.03 Z" fill="#c000c0"/>
<ellipse cx="525.3" cy="132.4" rx="1.85" ry="1.59" fill="#ffff00"/>
<rect x="529.25" y="130.55" width="3.7" height="3.44" fill="#0000ff"/>
<rect x="529.25" y="135.35" width="3.7" height="3.44" fill="#0000ff"/>
<ellipse cx="536.5" cy="137.2" rx="1.85" ry="1.59" fill="#00c000"/>
<rect x="540.45" y="135.35" width="3.7" height="3.44" fill="#0000ff"/>
<rect x="546.15" y="135.35" width="3.7" height="3.44" fill="#0000ff"/>
<path d="M540.45,130.25 L544.15,130.25 L542.30,133.65 Z" fill="#e00000"/>
<ellipse cx="531.1" cy="141.8" rx="1.85" ry="1.59" fill="#00c000"/>
<path d="M517.75,146.70 L519.60,145.07 L521.45,146.70 L519.60,148.33 Z" fill="#c000c0"/>
<ellipse cx="525.3" cy="146.7" rx="1.85" ry="1.59" fill="#ffff00"/>
<rect x="529.25" y="144.85" width="3.7" height="3.44" fill="#0000ff"/>
<line x1="305.7" y1="454.5" x2="313.75" y2="454.5" stroke="#8a8a8a" stroke-width="0.6"/>
<line x1="313.75" y1="454.5" x2="321.8" y2="454.5" stroke="#8a8a8a" stroke-width="0.6"/>
<line x1="321.8" y1="454.5" x2="329.84999999999997" y2="454.5" stroke="#8a8a8a" stroke-width="0.6"/>
<line x1="329.84999999999997" y1="454.5" x2="337.9" y2="461.9" stroke="#8a8a8a" stroke-width="0.6"/>
<line x1="305.7" y1="468.8" x2="313.75" y2="468.8" stroke="#8a8a8a" stroke-width="0.6"/>
<line x1="313.75" y1="468.8" x2="321.8" y2="468.8" stroke="#8a8a8a" stroke-width="0.6"/>
<line x1="321.8" y1="468.8" x2="329.84999999999997" y2="468.8" stroke="#8a8a8a" stroke-width="0.6"/>
<line x1="329.84999999999997" y1="468.8" x2="337.9" y2="461.9" stroke="#8a8a8a" stroke-width="0.6"/>
<line x1="337.9" y1="461.9" x2="345.95" y2="461.9" stroke="#8a8a8a" stroke-width="0.6"/>
<line x1="345.95" y1="461.9" x2="354.0" y2="461.9" stroke="#8a8a8a" stroke-width="0.6"/>
<path d="M303.20,454.50 L305.70,452.30 L308.20,454.50 L305.70,456.70 Z" fill="#c000c0"/>
<ellipse cx="313.75" cy="454.5" rx="2.50" ry="2.15" fill="#ffff00"/>
<rect x="319.30" y="452.00" width="5.0" height="4.65" fill="#0000ff"/>
<ellipse cx="329.84999999999997" cy="454.5" rx="2.50" ry="2.15" fill="#00c000"/>
<path d="M303.20,468.80 L305.70,466.60 L308.20,468.80 L305.70,471.00 Z" fill="#c000c0"/>
<ellipse cx="313.75" cy="468.8" rx="2.50" ry="2.15" fill="#ffff00"/>
<rect x="319.30" y="466.30" width="5.0" height="4.65" fill="#0000ff"/>
<ellipse cx="329.84999999999997" cy="468.8" rx="2.50" ry="2.15" fill="#00c000"/>
<ellipse cx="337.9" cy="461.9" rx="2.50" ry="2.15" fill="#00c000"/>
<rect x="343.45" y="459.40" width="5.0" height="4.65" fill="#0000ff"/>
<rect x="351.50" y="459.40" width="5.0" height="4.65" fill="#0000ff"/>
<line x1="365.7" y1="407.5" x2="373.5" y2="407.5" stroke="#8a8a8a" stroke-width="0.6"/>
<line x1="373.5" y1="407.5" x2="381.3" y2="407.5" stroke="#8a8a8a" stroke-width="0.6"/>
<line x1="381.3" y1="407.5" x2="389.09999999999997" y2="410.8" stroke="#8a8a8a" stroke-width="0.6"/>
<line x1="365.7" y1="414.3" x2="373.5" y2="414.3" stroke="#8a8a8a" stroke-width="0.6"/>
<line x1="373.5" y1="414.3" x2="381.3" y2="414.3" stroke="#8a8a8a" stroke-width="0.6"/>
<line x1="381.3" y1="414.3" x2="389.09999999999997" y2="410.8" stroke="#8a8a8a" stroke-width="0.6"/>
<line x1="389.09999999999997" y1="410.8" x2="396.9" y2="417.5" stroke="#8a8a8a" stroke-width="0.6"/>
<line x1="365.7" y1="424" x2="373.5" y2="424" stroke="#8a8a8a" stroke-width="0.6"/>
<line x1="373.5" y1="424" x2="381.3" y2="424" stroke="#8a8a8a" stroke-width="0.6"/>
<line x1="381.3" y1="424" x2="389.09999999999997" y2="424" stroke="#8a8a8a" stroke-width="0.6"/>
<line x1="389.09999999999997" y1="424" x2="396.9" y2="417.5" stroke="#8a8a8a" stroke-width="0.6"/>
<line x1="396.9" y1="417.5" x2="404.7" y2="417.5" stroke="#8a8a8a" stroke-width="0.6"/>
<line x1="404.7" y1="417.5" x2="412.5" y2="417.5" stroke="#8a8a8a" stroke-width="0.6"/>
<path d="M363.40,407.50 L365.70,405.48 L368.00,407.50 L365.70,409.52 Z" fill="#c000c0"/>
<ellipse cx="373.5" cy="407.5" rx="2.30" ry="1.98" fill="#ffff00"/>
<rect x="379.00" y="405.20" width="4.6" height="4.28" fill="#0000ff"/>
<path d="M363.40,414.30 L365.70,412.28 L368.00,414.30 L365.70,416.32 Z" fill="#c000c0"/>
<ellipse cx="373.5" cy="414.3" rx="2.30" ry="1.98" fill="#ffff00"/>
<rect x="379.00" y="412.00" width="4.6" height="4.28" fill="#0000ff"/>
<ellipse cx="389.09999999999997" cy="410.8" rx="2.30" ry="1.98" fill="#00c000"/>
<path d="M363.40,424.00 L365.70,421.98 L368.00,424.00 L365.70,426.02 Z" fill="#c000c0"/>
<ellipse cx="373.5" cy="424" rx="2.30" ry="1.98" fill="#ffff00"/>
<rect x="379.00" y="421.70" width="4.6" height="4.28" fill="#0000ff"/>
<ellipse cx="389.09999999999997" cy="424" rx="2.30" ry="1.98" fill="#00c000"/>
<ellipse cx="396.9" cy="417.5" rx="2.30" ry="1.98" fill="#00c000"/>
<rect x="402.40" y="415.20" width="4.6" height="4.28" fill="#0000ff"/>
<rect x="410.20" y="415.20" width="4.6" height="4.28" fill="#0000ff"/>
<line x1="459.3" y1="420" x2="459.3" y2="439.5" stroke="#aaa" stroke-width="0.7"/>
<line x1="463.7" y1="421.8" x2="471.2" y2="421.8" stroke="#8a8a8a" stroke-width="0.6"/>
<line x1="471.2" y1="421.8" x2="478.7" y2="421.8" stroke="#8a8a8a" stroke-width="0.6"/>
<line x1="478.7" y1="421.8" x2="486.2" y2="425" stroke="#8a8a8a" stroke-width="0.6"/>
<line x1="463.7" y1="428.2" x2="471.2" y2="428.2" stroke="#8a8a8a" stroke-width="0.6"/>
<line x1="471.2" y1="428.2" x2="478.7" y2="428.2" stroke="#8a8a8a" stroke-width="0.6"/>
<line x1="478.7" y1="428.2" x2="486.2" y2="425" stroke="#8a8a8a" stroke-width="0.6"/>
<line x1="486.2" y1="425" x2="493.7" y2="431.3" stroke="#8a8a8a" stroke-width="0.6"/>
<line x1="463.7" y1="437.7" x2="471.2" y2="437.7" stroke="#8a8a8a" stroke-width="0.6"/>
<line x1="471.2" y1="437.7" x2="478.7" y2="437.7" stroke="#8a8a8a" stroke-width="0.6"/>
<line x1="478.7" y1="437.7" x2="486.2" y2="437.7" stroke="#8a8a8a" stroke-width="0.6"/>
<line x1="486.2" y1="437.7" x2="493.7" y2="431.3" stroke="#8a8a8a" stroke-width="0.6"/>
<line x1="493.7" y1="431.3" x2="501.2" y2="431.3" stroke="#8a8a8a" stroke-width="0.6"/>
<line x1="501.2" y1="431.3" x2="508.7" y2="431.3" stroke="#8a8a8a" stroke-width="0.6"/>
<path d="M461.45,421.80 L463.70,419.82 L465.95,421.80 L463.70,423.78 Z" fill="#c000c0"/>
<ellipse cx="471.2" cy="421.8" rx="2.25" ry="1.94" fill="#ffff00"/>
<rect x="476.45" y="419.55" width="4.5" height="4.19" fill="#0000ff"/>
<path d="M461.45,428.20 L463.70,426.22 L465.95,428.20 L463.70,430.18 Z" fill="#c000c0"/>
<ellipse cx="471.2" cy="428.2" rx="2.25" ry="1.94" fill="#ffff00"/>
<rect x="476.45" y="425.95" width="4.5" height="4.19" fill="#0000ff"/>
<ellipse cx="486.2" cy="425" rx="2.25" ry="1.94" fill="#00c000"/>
<path d="M461.45,437.70 L463.70,435.72 L465.95,437.70 L463.70,439.68 Z" fill="#c000c0"/>
<ellipse cx="471.2" cy="437.7" rx="2.25" ry="1.94" fill="#ffff00"/>
<rect x="476.45" y="435.45" width="4.5" height="4.19" fill="#0000ff"/>
<ellipse cx="486.2" cy="437.7" rx="2.25" ry="1.94" fill="#00c000"/>
<ellipse cx="493.7" cy="431.3" rx="2.25" ry="1.94" fill="#00c000"/>
<rect x="498.95" y="429.05" width="4.5" height="4.19" fill="#0000ff"/>
<rect x="506.45" y="429.05" width="4.5" height="4.19" fill="#0000ff"/>
<path d="M449.45,429.70 L451.70,427.72 L453.95,429.70 L451.70,431.68 Z" fill="#c000c0"/>
<line x1="458.1" y1="461" x2="465.8" y2="461" stroke="#8a8a8a" stroke-width="0.6"/>
<line x1="465.8" y1="461" x2="473.5" y2="461" stroke="#8a8a8a" stroke-width="0.6"/>
<line x1="473.5" y1="461" x2="481.20000000000005" y2="464.2" stroke="#8a8a8a" stroke-width="0.6"/>
<line x1="458.1" y1="467.7" x2="465.8" y2="467.7" stroke="#8a8a8a" stroke-width="0.6"/>
<line x1="465.8" y1="467.7" x2="473.5" y2="467.7" stroke="#8a8a8a" stroke-width="0.6"/>
<line x1="473.5" y1="467.7" x2="481.20000000000005" y2="464.2" stroke="#8a8a8a" stroke-width="0.6"/>
<line x1="481.20000000000005" y1="464.2" x2="488.90000000000003" y2="470.7" stroke="#8a8a8a" stroke-width="0.6"/>
<line x1="458.1" y1="477.6" x2="465.8" y2="477.6" stroke="#8a8a8a" stroke-width="0.6"/>
<line x1="465.8" y1="477.6" x2="473.5" y2="477.6" stroke="#8a8a8a" stroke-width="0.6"/>
<line x1="473.5" y1="477.6" x2="481.20000000000005" y2="477.6" stroke="#8a8a8a" stroke-width="0.6"/>
<line x1="481.20000000000005" y1="477.6" x2="488.90000000000003" y2="470.7" stroke="#8a8a8a" stroke-width="0.6"/>
<line x1="488.90000000000003" y1="470.7" x2="496.6" y2="470.7" stroke="#8a8a8a" stroke-width="0.6"/>
<line x1="496.6" y1="470.7" x2="504.3" y2="470.7" stroke="#8a8a8a" stroke-width="0.6"/>
<path d="M455.85,461.00 L458.10,459.02 L460.35,461.00 L458.10,462.98 Z" fill="#c000c0"/>
<ellipse cx="465.8" cy="461" rx="2.25" ry="1.94" fill="#ffff00"/>
<rect x="471.25" y="458.75" width="4.5" height="4.19" fill="#0000ff"/>
<path d="M455.85,467.70 L458.10,465.72 L460.35,467.70 L458.10,469.68 Z" fill="#c000c0"/>
<ellipse cx="465.8" cy="467.7" rx="2.25" ry="1.94" fill="#ffff00"/>
<rect x="471.25" y="465.45" width="4.5" height="4.19" fill="#0000ff"/>
<ellipse cx="481.20000000000005" cy="464.2" rx="2.25" ry="1.94" fill="#00c000"/>
<path d="M455.85,477.60 L458.10,475.62 L460.35,477.60 L458.10,479.58 Z" fill="#c000c0"/>
<ellipse cx="465.8" cy="477.6" rx="2.25" ry="1.94" fill="#ffff00"/>
<rect x="471.25" y="475.35" width="4.5" height="4.19" fill="#0000ff"/>
<ellipse cx="481.20000000000005" cy="477.6" rx="2.25" ry="1.94" fill="#00c000"/>
<ellipse cx="488.90000000000003" cy="470.7" rx="2.25" ry="1.94" fill="#00c000"/>
<rect x="494.35" y="468.45" width="4.5" height="4.19" fill="#0000ff"/>
<rect x="502.05" y="468.45" width="4.5" height="4.19" fill="#0000ff"/>
<line x1="475.2" y1="489.3" x2="475.2" y2="509.1" stroke="#aaa" stroke-width="0.7"/>
<line x1="479.6" y1="491.3" x2="487.1" y2="491.3" stroke="#8a8a8a" stroke-width="0.6"/>
<line x1="487.1" y1="491.3" x2="494.6" y2="491.3" stroke="#8a8a8a" stroke-width="0.6"/>
<line x1="494.6" y1="491.3" x2="502.1" y2="494.3" stroke="#8a8a8a" stroke-width="0.6"/>
<line x1="479.6" y1="497.8" x2="487.1" y2="497.8" stroke="#8a8a8a" stroke-width="0.6"/>
<line x1="487.1" y1="497.8" x2="494.6" y2="497.8" stroke="#8a8a8a" stroke-width="0.6"/>
<line x1="494.6" y1="497.8" x2="502.1" y2="494.3" stroke="#8a8a8a" stroke-width="0.6"/>
<line x1="502.1" y1="494.3" x2="509.6" y2="500.9" stroke="#8a8a8a" stroke-width="0.6"/>
<line x1="479.6" y1="507.4" x2="487.1" y2="507.4" stroke="#8a8a8a" stroke-width="0.6"/>
<line x1="487.1" y1="507.4" x2="494.6" y2="507.4" stroke="#8a8a8a" stroke-width="0.6"/>
<line x1="494.6" y1="507.4" x2="502.1" y2="507.4" stroke="#8a8a8a" stroke-width="0.6"/>
<line x1="502.1" y1="507.4" x2="509.6" y2="500.9" stroke="#8a8a8a" stroke-width="0.6"/>
<line x1="509.6" y1="500.9" x2="517.1" y2="500.9" stroke="#8a8a8a" stroke-width="0.6"/>
<line x1="517.1" y1="500.9" x2="524.6" y2="500.9" stroke="#8a8a8a" stroke-width="0.6"/>
<path d="M477.40,491.30 L479.60,489.36 L481.80,491.30 L479.60,493.24 Z" fill="#c000c0"/>
<ellipse cx="487.1" cy="491.3" rx="2.20" ry="1.89" fill="#ffff00"/>
<rect x="492.40" y="489.10" width="4.4" height="4.09" fill="#0000ff"/>
<path d="M477.40,497.80 L479.60,495.86 L481.80,497.80 L479.60,499.74 Z" fill="#c000c0"/>
<ellipse cx="487.1" cy="497.8" rx="2.20" ry="1.89" fill="#ffff00"/>
<rect x="492.40" y="495.60" width="4.4" height="4.09" fill="#0000ff"/>
<ellipse cx="502.1" cy="494.3" rx="2.20" ry="1.89" fill="#00c000"/>
<path d="M477.40,507.40 L479.60,505.46 L481.80,507.40 L479.60,509.34 Z" fill="#c000c0"/>
<ellipse cx="487.1" cy="507.4" rx="2.20" ry="1.89" fill="#ffff00"/>
<rect x="492.40" y="505.20" width="4.4" height="4.09" fill="#0000ff"/>
<ellipse cx="502.1" cy="507.4" rx="2.20" ry="1.89" fill="#00c000"/>
<ellipse cx="509.6" cy="500.9" rx="2.20" ry="1.89" fill="#00c000"/>
<rect x="514.90" y="498.70" width="4.4" height="4.09" fill="#0000ff"/>
<rect x="522.40" y="498.70" width="4.4" height="4.09" fill="#0000ff"/>
<path d="M465.40,499.20 L467.60,497.26 L469.80,499.20 L467.60,501.14 Z" fill="#c000c0"/>
<text x="216.7" y="127.2" text-anchor="middle" font-size="10.4" font-weight="bold" fill="#111" stroke="#111" stroke-width="0.25" textLength="6.4" lengthAdjust="spacingAndGlyphs">1</text>
<text x="241.5" y="55.5" text-anchor="middle" font-size="10.4" font-weight="bold" fill="#111" stroke="#111" stroke-width="0.25" textLength="6.4" lengthAdjust="spacingAndGlyphs">2</text>
<text x="267.9" y="112.9" text-anchor="middle" font-size="10.4" font-weight="bold" fill="#111" stroke="#111" stroke-width="0.25" textLength="6.4" lengthAdjust="spacingAndGlyphs">3</text>
<text x="289.5" y="20.2" text-anchor="middle" font-size="10.4" font-weight="bold" fill="#111" stroke="#111" stroke-width="0.25" textLength="6.4" lengthAdjust="spacingAndGlyphs">4</text>
<text x="330.7" y="54.0" text-anchor="middle" font-size="10.4" font-weight="bold" fill="#111" stroke="#111" stroke-width="0.25" textLength="6.4" lengthAdjust="spacingAndGlyphs">5</text>
<text x="337.8" y="98.7" text-anchor="middle" font-size="10.4" font-weight="bold" fill="#111" stroke="#111" stroke-width="0.25" textLength="6.4" lengthAdjust="spacingAndGlyphs">6</text>
<text x="362.6" y="27.2" text-anchor="middle" font-size="10.4" font-weight="bold" fill="#111" stroke="#111" stroke-width="0.25" textLength="6.4" lengthAdjust="spacingAndGlyphs">7</text>
<text x="399.8" y="68.9" text-anchor="middle" font-size="10.4" font-weight="bold" fill="#111" stroke="#111" stroke-width="0.25" textLength="6.4" lengthAdjust="spacingAndGlyphs">8</text>
<text x="436.1" y="34.1" text-anchor="middle" font-size="10.4" font-weight="bold" fill="#111" stroke="#111" stroke-width="0.25" textLength="6.4" lengthAdjust="spacingAndGlyphs">9</text>
<text x="460.4" y="108.1" text-anchor="middle" font-size="10.4" font-weight="bold" fill="#111" stroke="#111" stroke-width="0.25" textLength="13.1" lengthAdjust="spacingAndGlyphs">10</text>
<text x="495.4" y="76.3" text-anchor="middle" font-size="10.4" font-weight="bold" fill="#111" stroke="#111" stroke-width="0.25" textLength="12.9" lengthAdjust="spacingAndGlyphs">11</text>
<text x="536.0" y="122.0" text-anchor="middle" font-size="10.4" font-weight="bold" fill="#111" stroke="#111" stroke-width="0.25" textLength="13.3" lengthAdjust="spacingAndGlyphs">12</text>
<text x="173.9" y="261.3" text-anchor="middle" font-size="10.8" font-weight="bold" fill="#111" stroke="#111" stroke-width="0.25" textLength="6.4" lengthAdjust="spacingAndGlyphs">1</text>
<text x="207" y="207.2" text-anchor="middle" font-size="10.8" font-weight="bold" fill="#111" stroke="#111" stroke-width="0.25" textLength="6.4" lengthAdjust="spacingAndGlyphs">2</text>
<text x="236" y="251.7" text-anchor="middle" font-size="10.8" font-weight="bold" fill="#111" stroke="#111" stroke-width="0.25" textLength="6.4" lengthAdjust="spacingAndGlyphs">3</text>
<text x="268.3" y="202.7" text-anchor="middle" font-size="10.8" font-weight="bold" fill="#111" stroke="#111" stroke-width="0.25" textLength="6.4" lengthAdjust="spacingAndGlyphs">4</text>
<text x="279.2" y="238.2" text-anchor="middle" font-size="10.8" font-weight="bold" fill="#111" stroke="#111" stroke-width="0.25" textLength="6.4" lengthAdjust="spacingAndGlyphs">5</text>
<text x="289.8" y="251.7" text-anchor="middle" font-size="10.8" font-weight="bold" fill="#111" stroke="#111" stroke-width="0.25" textLength="6.4" lengthAdjust="spacingAndGlyphs">6</text>
<text x="337" y="217.4" text-anchor="middle" font-size="10.8" font-weight="bold" fill="#111" stroke="#111" stroke-width="0.25" textLength="6.4" lengthAdjust="spacingAndGlyphs">7</text>
<text x="367.7" y="258.3" text-anchor="middle" font-size="10.8" font-weight="bold" fill="#111" stroke="#111" stroke-width="0.25" textLength="6.4" lengthAdjust="spacingAndGlyphs">8</text>
<text x="417.1" y="237.4" text-anchor="middle" font-size="10.8" font-weight="bold" fill="#111" stroke="#111" stroke-width="0.25" textLength="6.4" lengthAdjust="spacingAndGlyphs">9</text>
<text x="434.1" y="258.3" text-anchor="middle" font-size="10.8" font-weight="bold" fill="#111" stroke="#111" stroke-width="0.25" textLength="12.8" lengthAdjust="spacingAndGlyphs">10</text>
<text x="487.9" y="238.9" text-anchor="middle" font-size="10.8" font-weight="bold" fill="#111" stroke="#111" stroke-width="0.25" textLength="12.8" lengthAdjust="spacingAndGlyphs">11</text>
<text x="508.3" y="242.5" text-anchor="middle" font-size="10.8" font-weight="bold" fill="#111" stroke="#111" stroke-width="0.25" textLength="12.8" lengthAdjust="spacingAndGlyphs">12</text>
<text x="214.5" y="345.7" text-anchor="middle" font-size="10.8" font-weight="bold" fill="#111" stroke="#111" stroke-width="0.25" textLength="6.4" lengthAdjust="spacingAndGlyphs">1</text>
<text x="243.5" y="290.5" text-anchor="middle" font-size="10.8" font-weight="bold" fill="#111" stroke="#111" stroke-width="0.25" textLength="6.4" lengthAdjust="spacingAndGlyphs">2</text>
<text x="269.7" y="336.1" text-anchor="middle" font-size="10.8" font-weight="bold" fill="#111" stroke="#111" stroke-width="0.25" textLength="6.4" lengthAdjust="spacingAndGlyphs">3</text>
<text x="299.7" y="291.8" text-anchor="middle" font-size="10.8" font-weight="bold" fill="#111" stroke="#111" stroke-width="0.25" textLength="6.4" lengthAdjust="spacingAndGlyphs">4</text>
<text x="306.5" y="321.2" text-anchor="middle" font-size="10.8" font-weight="bold" fill="#111" stroke="#111" stroke-width="0.25" textLength="6.4" lengthAdjust="spacingAndGlyphs">5</text>
<text x="319.4" y="336.1" text-anchor="middle" font-size="10.8" font-weight="bold" fill="#111" stroke="#111" stroke-width="0.25" textLength="6.4" lengthAdjust="spacingAndGlyphs">6</text>
<text x="360.9" y="303.8" text-anchor="middle" font-size="10.8" font-weight="bold" fill="#111" stroke="#111" stroke-width="0.25" textLength="6.4" lengthAdjust="spacingAndGlyphs">7</text>
<text x="376.6" y="340.2" text-anchor="middle" font-size="10.8" font-weight="bold" fill="#111" stroke="#111" stroke-width="0.25" textLength="6.4" lengthAdjust="spacingAndGlyphs">8</text>
<text x="424.2" y="322.4" text-anchor="middle" font-size="10.8" font-weight="bold" fill="#111" stroke="#111" stroke-width="0.25" textLength="6.4" lengthAdjust="spacingAndGlyphs">9</text>
<text x="440.6" y="342.2" text-anchor="middle" font-size="10.8" font-weight="bold" fill="#111" stroke="#111" stroke-width="0.25" textLength="12.8" lengthAdjust="spacingAndGlyphs">10</text>
<text x="481.9" y="323.2" text-anchor="middle" font-size="10.8" font-weight="bold" fill="#111" stroke="#111" stroke-width="0.25" textLength="12.8" lengthAdjust="spacingAndGlyphs">11</text>
<text x="501.9" y="326.9" text-anchor="middle" font-size="10.8" font-weight="bold" fill="#111" stroke="#111" stroke-width="0.25" textLength="12.8" lengthAdjust="spacingAndGlyphs">12</text>
<text x="327.7" y="447.0" text-anchor="middle" font-size="10.4" font-weight="bold" fill="#111" stroke="#111" stroke-width="0.25" textLength="18.8" lengthAdjust="spacingAndGlyphs">1, 2</text>
<text x="388.7" y="400.2" text-anchor="middle" font-size="10.4" font-weight="bold" fill="#111" stroke="#111" stroke-width="0.25" textLength="19.4" lengthAdjust="spacingAndGlyphs">3, 4</text>
<text x="472.3" y="414.4" text-anchor="middle" font-size="10.4" font-weight="bold" fill="#111" stroke="#111" stroke-width="0.25" textLength="6.4" lengthAdjust="spacingAndGlyphs">5</text>
<text x="496.1" y="458.2" text-anchor="middle" font-size="10.4" font-weight="bold" fill="#111" stroke="#111" stroke-width="0.25" textLength="6.4" lengthAdjust="spacingAndGlyphs">6</text>
<text x="513.5" y="491.1" text-anchor="middle" font-size="10.4" font-weight="bold" fill="#111" stroke="#111" stroke-width="0.25" textLength="6.4" lengthAdjust="spacingAndGlyphs">7</text>
<text x="322.7" y="605.7" text-anchor="middle" font-size="10.8" font-weight="bold" fill="#111" stroke="#111" stroke-width="0.25" textLength="6.4" lengthAdjust="spacingAndGlyphs">1</text>
<text x="342" y="611.6" text-anchor="middle" font-size="10.8" font-weight="bold" fill="#111" stroke="#111" stroke-width="0.25" textLength="6.4" lengthAdjust="spacingAndGlyphs">2</text>
<text x="398.6" y="560.2" text-anchor="middle" font-size="10.8" font-weight="bold" fill="#111" stroke="#111" stroke-width="0.25" textLength="6.4" lengthAdjust="spacingAndGlyphs">3</text>
<text x="413.8" y="582.4" text-anchor="middle" font-size="10.8" font-weight="bold" fill="#111" stroke="#111" stroke-width="0.25" textLength="6.4" lengthAdjust="spacingAndGlyphs">4</text>
<text x="425.4" y="602.2" text-anchor="middle" font-size="10.8" font-weight="bold" fill="#111" stroke="#111" stroke-width="0.25" textLength="6.4" lengthAdjust="spacingAndGlyphs">5</text>
<text x="433.6" y="617.4" text-anchor="middle" font-size="10.8" font-weight="bold" fill="#111" stroke="#111" stroke-width="0.25" textLength="6.4" lengthAdjust="spacingAndGlyphs">6</text>
<text x="453.5" y="595.2" text-anchor="middle" font-size="10.8" font-weight="bold" fill="#111" stroke="#111" stroke-width="0.25" textLength="6.4" lengthAdjust="spacingAndGlyphs">7</text>
<text x="309.8" y="684.2" text-anchor="middle" font-size="10.8" font-weight="bold" fill="#111" stroke="#111" stroke-width="0.25" textLength="6.4" lengthAdjust="spacingAndGlyphs">1</text>
<text x="329.9" y="693.1" text-anchor="middle" font-size="10.8" font-weight="bold" fill="#111" stroke="#111" stroke-width="0.25" textLength="6.4" lengthAdjust="spacingAndGlyphs">2</text>
<text x="377.8" y="647.5" text-anchor="middle" font-size="10.8" font-weight="bold" fill="#111" stroke="#111" stroke-width="0.25" textLength="6.4" lengthAdjust="spacingAndGlyphs">3</text>
<text x="393" y="670.9" text-anchor="middle" font-size="10.8" font-weight="bold" fill="#111" stroke="#111" stroke-width="0.25" textLength="6.4" lengthAdjust="spacingAndGlyphs">4</text>
<text x="401.6" y="690.3" text-anchor="middle" font-size="10.8" font-weight="bold" fill="#111" stroke="#111" stroke-width="0.25" textLength="6.4" lengthAdjust="spacingAndGlyphs">5</text>
<text x="412.1" y="672.0" text-anchor="middle" font-size="10.8" font-weight="bold" fill="#111" stroke="#111" stroke-width="0.25" textLength="6.4" lengthAdjust="spacingAndGlyphs">6</text>
<text x="427.3" y="681.8" text-anchor="middle" font-size="10.8" font-weight="bold" fill="#111" stroke="#111" stroke-width="0.25" textLength="6.4" lengthAdjust="spacingAndGlyphs">7</text>
<text x="219.8" y="175.3" text-anchor="middle" font-size="8.4" fill="#2a2a2a" stroke="#2a2a2a" stroke-width="0.15" textLength="20.3" lengthAdjust="spacingAndGlyphs">12.49</text>
<text x="242.9" y="110.4" text-anchor="middle" font-size="8.4" fill="#2a2a2a" stroke="#2a2a2a" stroke-width="0.15" textLength="20.3" lengthAdjust="spacingAndGlyphs">13.53</text>
<text x="269.5" y="164.2" text-anchor="middle" font-size="8.4" fill="#2a2a2a" stroke="#2a2a2a" stroke-width="0.15" textLength="20.3" lengthAdjust="spacingAndGlyphs">14.62</text>
<text x="298.2" y="110.4" text-anchor="middle" font-size="8.4" fill="#2a2a2a" stroke="#2a2a2a" stroke-width="0.15" textLength="20.3" lengthAdjust="spacingAndGlyphs">15.92</text>
<text x="310.4" y="147.8" text-anchor="middle" font-size="8.4" fill="#2a2a2a" stroke="#2a2a2a" stroke-width="0.15" textLength="20.3" lengthAdjust="spacingAndGlyphs">16.34</text>
<text x="323.6" y="161.0" text-anchor="middle" font-size="8.4" fill="#2a2a2a" stroke="#2a2a2a" stroke-width="0.15" textLength="20.3" lengthAdjust="spacingAndGlyphs">16.72</text>
<text x="362.5" y="130.5" text-anchor="middle" font-size="8.4" fill="#2a2a2a" stroke="#2a2a2a" stroke-width="0.15" textLength="20.3" lengthAdjust="spacingAndGlyphs">18.61</text>
<text x="386.2" y="170.2" text-anchor="middle" font-size="8.4" fill="#2a2a2a" stroke="#2a2a2a" stroke-width="0.15" textLength="20.3" lengthAdjust="spacingAndGlyphs">19.55</text>
<text x="430.2" y="146.3" text-anchor="middle" font-size="8.4" fill="#2a2a2a" stroke="#2a2a2a" stroke-width="0.15" textLength="20.3" lengthAdjust="spacingAndGlyphs">21.54</text>
<text x="446.7" y="171.3" text-anchor="middle" font-size="8.4" fill="#2a2a2a" stroke="#2a2a2a" stroke-width="0.15" textLength="20.3" lengthAdjust="spacingAndGlyphs">22.19</text>
<text x="485.8" y="171.3" text-anchor="middle" font-size="8.4" fill="#2a2a2a" stroke="#2a2a2a" stroke-width="0.15" textLength="20.3" lengthAdjust="spacingAndGlyphs">24.12</text>
<text x="507.9" y="171.6" text-anchor="middle" font-size="8.4" fill="#2a2a2a" stroke="#2a2a2a" stroke-width="0.15" textLength="20.3" lengthAdjust="spacingAndGlyphs">24.48</text>
<text x="337.8" y="514.0" text-anchor="middle" font-size="8.4" fill="#2a2a2a" stroke="#2a2a2a" stroke-width="0.15" textLength="20.3" lengthAdjust="spacingAndGlyphs">22.89</text>
<text x="357.2" y="523.2" text-anchor="middle" font-size="8.4" fill="#2a2a2a" stroke="#2a2a2a" stroke-width="0.15" textLength="20.3" lengthAdjust="spacingAndGlyphs">23.91</text>
<text x="402.6" y="466.0" text-anchor="middle" font-size="8.4" fill="#2a2a2a" stroke="#2a2a2a" stroke-width="0.15" textLength="20.3" lengthAdjust="spacingAndGlyphs">26.60</text>
<text x="418.1" y="495.0" text-anchor="middle" font-size="8.4" fill="#2a2a2a" stroke="#2a2a2a" stroke-width="0.15" textLength="20.3" lengthAdjust="spacingAndGlyphs">27.45</text>
<text x="433.7" y="514.0" text-anchor="middle" font-size="8.4" fill="#2a2a2a" stroke="#2a2a2a" stroke-width="0.15" textLength="20.3" lengthAdjust="spacingAndGlyphs">27.94</text>
<text x="450.1" y="523.2" text-anchor="middle" font-size="8.4" fill="#2a2a2a" stroke="#2a2a2a" stroke-width="0.15" textLength="20.3" lengthAdjust="spacingAndGlyphs">28.72</text>
<path d="M220.20,142.80 L220.20,166.40" fill="none" stroke="#3a3a3a" stroke-width="1.1" stroke-dasharray="4.5 1.9 0.8 1.9"/>
<path d="M220.20,166.40 L218.20,162.80 L222.20,162.80 Z" fill="#000"/>
<path d="M243.40,76.00 L243.60,100.00" fill="none" stroke="#3a3a3a" stroke-width="1.1" stroke-dasharray="4.5 1.9 0.8 1.9"/>
<path d="M243.60,100.00 L241.57,96.42 L245.57,96.38 Z" fill="#000"/>
<path d="M269.50,133.40 L269.50,156.80" fill="none" stroke="#3a3a3a" stroke-width="1.1" stroke-dasharray="4.5 1.9 0.8 1.9"/>
<path d="M269.50,156.80 L267.50,153.20 L271.50,153.20 Z" fill="#000"/>
<path d="M298.75,40.30 L298.75,98.70" fill="none" stroke="#3a3a3a" stroke-width="1.1" stroke-dasharray="4.5 1.9 0.8 1.9"/>
<path d="M298.75,98.70 L296.75,95.10 L300.75,95.10 Z" fill="#000"/>
<path d="M314.30,82.90 L310.40,137.80" fill="none" stroke="#3a3a3a" stroke-width="1.1" stroke-dasharray="4.5 1.9 0.8 1.9"/>
<path d="M310.40,137.80 L308.66,134.07 L312.65,134.35 Z" fill="#000"/>
<path d="M337.80,121.30 L323.60,151.10" fill="none" stroke="#3a3a3a" stroke-width="1.1" stroke-dasharray="4.5 1.9 0.8 1.9"/>
<path d="M323.60,151.10 L323.34,146.99 L326.95,148.71 Z" fill="#000"/>
<path d="M362.60,44.10 L362.50,119.30" fill="none" stroke="#3a3a3a" stroke-width="1.1" stroke-dasharray="4.5 1.9 0.8 1.9"/>
<path d="M362.50,119.30 L360.50,115.70 L364.50,115.70 Z" fill="#000"/>
<path d="M395.80,92.90 L385.80,160.30" fill="none" stroke="#3a3a3a" stroke-width="1.1" stroke-dasharray="4.5 1.9 0.8 1.9"/>
<path d="M385.80,160.30 L384.35,156.45 L388.31,157.03 Z" fill="#000"/>
<path d="M430.40,62.50 L430.40,136.40" fill="none" stroke="#3a3a3a" stroke-width="1.1" stroke-dasharray="4.5 1.9 0.8 1.9"/>
<path d="M430.40,136.40 L428.40,132.80 L432.40,132.80 Z" fill="#000"/>
<path d="M452.50,136.80 L446.70,160.30" fill="none" stroke="#3a3a3a" stroke-width="1.1" stroke-dasharray="4.5 1.9 0.8 1.9"/>
<path d="M446.70,160.30 L445.62,156.33 L449.50,157.28 Z" fill="#000"/>
<path d="M491.50,103.30 L491.70,161.20" fill="none" stroke="#3a3a3a" stroke-width="1.1" stroke-dasharray="4.5 1.9 0.8 1.9"/>
<path d="M491.70,161.20 L489.69,157.61 L493.69,157.59 Z" fill="#000"/>
<path d="M488.30,243.00 L488.30,259.40" fill="none" stroke="#3a3a3a" stroke-width="1.1" stroke-dasharray="4.5 1.9 0.8 1.9"/>
<path d="M488.30,259.40 L486.30,255.80 L490.30,255.80 Z" fill="#000"/>
<path d="M504.20,244.00 L498.70,259.40" fill="none" stroke="#3a3a3a" stroke-width="1.1" stroke-dasharray="4.5 1.9 0.8 1.9"/>
<path d="M498.70,259.40 L498.03,255.34 L501.79,256.68 Z" fill="#000"/>
<path d="M482.30,327.00 L482.30,343.40" fill="none" stroke="#3a3a3a" stroke-width="1.1" stroke-dasharray="4.5 1.9 0.8 1.9"/>
<path d="M482.30,343.40 L480.30,339.80 L484.30,339.80 Z" fill="#000"/>
<path d="M497.20,328.00 L491.50,343.40" fill="none" stroke="#3a3a3a" stroke-width="1.1" stroke-dasharray="4.5 1.9 0.8 1.9"/>
<path d="M491.50,343.40 L490.87,339.33 L494.63,340.72 Z" fill="#000"/>
<path d="M342.90,468.00 L342.90,505.70" fill="none" stroke="#3a3a3a" stroke-width="1.1" stroke-dasharray="4.5 1.9 0.8 1.9"/>
<path d="M342.90,505.70 L340.90,502.10 L344.90,502.10 Z" fill="#000"/>
<path d="M343.90,468.30 L358.20,514.30" fill="none" stroke="#3a3a3a" stroke-width="1.1" stroke-dasharray="4.5 1.9 0.8 1.9"/>
<path d="M358.20,514.30 L355.22,511.46 L359.04,510.27 Z" fill="#000"/>
<path d="M405.30,422.80 L404.70,457.70" fill="none" stroke="#3a3a3a" stroke-width="1.1" stroke-dasharray="4.5 1.9 0.8 1.9"/>
<path d="M404.70,457.70 L402.76,454.07 L406.76,454.13 Z" fill="#000"/>
<path d="M406.20,422.80 L419.00,484.30" fill="none" stroke="#3a3a3a" stroke-width="1.1" stroke-dasharray="4.5 1.9 0.8 1.9"/>
<path d="M419.00,484.30 L416.31,481.18 L420.22,480.37 Z" fill="#000"/>
<path d="M447.10,431.00 L430.30,431.00 L430.30,505.00" fill="none" stroke="#3a3a3a" stroke-width="1.1" stroke-dasharray="4.5 1.9 0.8 1.9"/>
<path d="M430.30,505.00 L428.30,501.40 L432.30,501.40 Z" fill="#000"/>
<path d="M454.60,469.00 L436.50,469.00 L436.50,521.90" fill="none" stroke="#3a3a3a" stroke-width="1.1" stroke-dasharray="4.5 1.9 0.8 1.9"/>
<path d="M436.50,521.90 L434.50,518.30 L438.50,518.30 Z" fill="#000"/>
<path d="M463.40,498.90 L452.70,512.60" fill="none" stroke="#3a3a3a" stroke-width="1.1" stroke-dasharray="4.5 1.9 0.8 1.9"/>
<path d="M452.70,512.60 L453.34,508.53 L456.49,510.99 Z" fill="#000"/>
<path d="M450.70,597.00 L441.30,610.60" fill="none" stroke="#3a3a3a" stroke-width="1.1" stroke-dasharray="4.5 1.9 0.8 1.9"/>
<path d="M441.30,610.60 L441.70,606.50 L444.99,608.78 Z" fill="#000"/>
<path d="M411.70,673.90 L409.80,700.30" fill="none" stroke="#3a3a3a" stroke-width="1.1" stroke-dasharray="4.5 1.9 0.8 1.9"/>
<path d="M409.80,700.30 L408.06,696.57 L412.05,696.85 Z" fill="#000"/>
<path d="M425.00,683.90 L414.50,697.20" fill="none" stroke="#3a3a3a" stroke-width="1.1" stroke-dasharray="4.5 1.9 0.8 1.9"/>
<path d="M414.50,697.20 L415.16,693.14 L418.30,695.61 Z" fill="#000"/>
<path d="M516.00,138.70 L500.20,138.70 L500.20,161.20" fill="none" stroke="#444" stroke-width="1.1" stroke-dasharray="5.5 2.2"/>
<path d="M500.20,161.20 L498.20,157.60 L502.20,157.60 Z" fill="#000"/>
</svg></body></html>
